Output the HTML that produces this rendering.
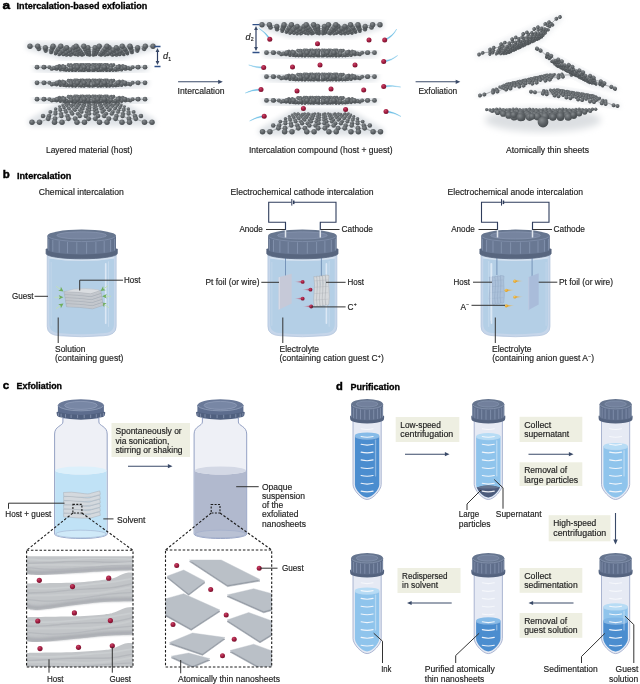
<!DOCTYPE html>
<html><head><meta charset="utf-8"><title>Exfoliation figure</title>
<style>
html,body{margin:0;padding:0;background:#fff;}
body{width:640px;height:684px;overflow:hidden;font-family:"Liberation Sans",sans-serif;}
svg{display:block;font-family:"Liberation Sans",sans-serif;}
</style></head><body>
<svg width="640" height="684" viewBox="0 0 640 684">
<defs>
<radialGradient id="atom" cx="0.38" cy="0.32" r="0.75">
<stop offset="0" stop-color="#858a8d"/><stop offset="0.55" stop-color="#5c6165"/><stop offset="1" stop-color="#44494c"/></radialGradient>
<radialGradient id="reddot" cx="0.38" cy="0.32" r="0.75">
<stop offset="0" stop-color="#c8486a"/><stop offset="0.5" stop-color="#a31c40"/><stop offset="1" stop-color="#70102a"/></radialGradient>
<filter id="glow" x="-20%" y="-60%" width="140%" height="220%"><feGaussianBlur stdDeviation="2.6"/></filter>
<filter id="glow2" x="-20%" y="-20%" width="140%" height="140%"><feGaussianBlur stdDeviation="3.5"/></filter>

<linearGradient id="lidside" x1="0" x2="1" y1="0" y2="0">
<stop offset="0" stop-color="#5c6b86"/><stop offset="0.1" stop-color="#697893"/><stop offset="0.9" stop-color="#697893"/><stop offset="1" stop-color="#5c6b86"/></linearGradient>
<linearGradient id="iontail" x1="0" x2="1" y1="0" y2="0"><stop offset="0" stop-color="#d9899c" stop-opacity="0"/><stop offset="1" stop-color="#b03a58"/></linearGradient>
<linearGradient id="iontailY" x1="1" x2="0" y1="0" y2="0"><stop offset="0" stop-color="#f0c060" stop-opacity="0"/><stop offset="1" stop-color="#e8a020"/></linearGradient>

<radialGradient id="yel" cx="0.4" cy="0.35" r="0.7"><stop offset="0" stop-color="#f6c860"/><stop offset="1" stop-color="#dd9a1c"/></radialGradient>
<clipPath id="cb1"><rect x="26.6" y="550.3" width="106.4" height="116.70000000000005"/></clipPath>
<linearGradient id="lay" x1="0" x2="0" y1="0" y2="1"><stop offset="0" stop-color="#c4c6ca"/><stop offset="0.35" stop-color="#b4b7bc"/><stop offset="0.6" stop-color="#c2c4c8"/><stop offset="1" stop-color="#a9acb2"/></linearGradient>
<filter id="soft" x="-5%" y="-5%" width="110%" height="110%"><feGaussianBlur stdDeviation="0.7"/></filter>
<filter id="soft2" x="-5%" y="-30%" width="110%" height="160%"><feGaussianBlur stdDeviation="1.3"/></filter>
<clipPath id="cb2"><rect x="165.5" y="550" width="106.19999999999999" height="117"/></clipPath>
<linearGradient id="capside" x1="0" x2="1" y1="0" y2="0">
<stop offset="0" stop-color="#55647f"/><stop offset="0.12" stop-color="#5f6e8b"/><stop offset="0.88" stop-color="#5f6e8b"/><stop offset="1" stop-color="#55647f"/></linearGradient>
<clipPath id="tc367_398"><path d="M354.9,418.7 V484.5 C354.9,490.0 362.36,497.41 367.1,497.41 C371.84000000000003,497.41 379.30000000000007,490.0 379.30000000000007,484.5 V418.7Z"/></clipPath>
<clipPath id="tc488_398"><path d="M476.09999999999997,418.7 V484.5 C476.09999999999997,490.0 483.56,497.41 488.3,497.41 C493.04,497.41 500.50000000000006,490.0 500.50000000000006,484.5 V418.7Z"/></clipPath>
<clipPath id="tc615_398"><path d="M603.4,418.7 V484.5 C603.4,490.0 610.86,497.41 615.6,497.41 C620.34,497.41 627.8000000000001,490.0 627.8000000000001,484.5 V418.7Z"/></clipPath>
<clipPath id="tc367_552"><path d="M354.9,572.8 V638.5999999999999 C354.9,644.0999999999999 362.36,651.5099999999999 367.1,651.5099999999999 C371.84000000000003,651.5099999999999 379.30000000000007,644.0999999999999 379.30000000000007,638.5999999999999 V572.8Z"/></clipPath>
<clipPath id="tc488_552"><path d="M476.09999999999997,572.8 V638.5999999999999 C476.09999999999997,644.0999999999999 483.56,651.5099999999999 488.3,651.5099999999999 C493.04,651.5099999999999 500.50000000000006,644.0999999999999 500.50000000000006,638.5999999999999 V572.8Z"/></clipPath>
<clipPath id="tc615_552"><path d="M603.4,572.8 V638.5999999999999 C603.4,644.0999999999999 610.86,651.5099999999999 615.6,651.5099999999999 C620.34,651.5099999999999 627.8000000000001,644.0999999999999 627.8000000000001,638.5999999999999 V572.8Z"/></clipPath>
</defs>
<g style="opacity:0.999">
<path d="M32.0,122.3 L152.0,122.3 L119.0,103.5 L65.0,103.5Z" fill="#dfe3e7" stroke="#dfe3e7" stroke-width="8" stroke-linejoin="round" filter="url(#glow)"/>
<path d="M37.0,99.2 L145.0,99.2 L113.7,102.2 L68.3,102.2Z" fill="#dfe3e7" stroke="#dfe3e7" stroke-width="8" stroke-linejoin="round" filter="url(#glow)"/>
<path d="M37.0,82.8 L145.0,82.8 L113.7,86.4 L68.3,86.4Z" fill="#dfe3e7" stroke="#dfe3e7" stroke-width="8" stroke-linejoin="round" filter="url(#glow)"/>
<path d="M37.0,67.2 L145.0,67.2 L113.7,70.8 L68.3,70.8Z" fill="#dfe3e7" stroke="#dfe3e7" stroke-width="8" stroke-linejoin="round" filter="url(#glow)"/>
<path d="M30.0,46.2 L153.0,46.2 L122.2,55.2 L60.8,55.2Z" fill="#dfe3e7" stroke="#dfe3e7" stroke-width="8" stroke-linejoin="round" filter="url(#glow)"/>
<path d="M262.5,131.7 L380.5,131.7 L348.5,113.5 L294.5,113.5Z" fill="#dfe3e7" stroke="#dfe3e7" stroke-width="8" stroke-linejoin="round" filter="url(#glow)"/>
<path d="M266.5,100.4 L374.5,100.4 L343.2,103.4 L297.8,103.4Z" fill="#dfe3e7" stroke="#dfe3e7" stroke-width="8" stroke-linejoin="round" filter="url(#glow)"/>
<path d="M266.5,76.7 L374.5,76.7 L343.2,80.3 L297.8,80.3Z" fill="#dfe3e7" stroke="#dfe3e7" stroke-width="8" stroke-linejoin="round" filter="url(#glow)"/>
<path d="M266.5,52.7 L374.5,52.7 L343.2,56.3 L297.8,56.3Z" fill="#dfe3e7" stroke="#dfe3e7" stroke-width="8" stroke-linejoin="round" filter="url(#glow)"/>
<path d="M262.0,24.8 L380.0,24.8 L350.5,33.8 L291.5,33.8Z" fill="#dfe3e7" stroke="#dfe3e7" stroke-width="8" stroke-linejoin="round" filter="url(#glow)"/>
<g transform="rotate(-12.79 528.0 84.6)"><path d="M478.8,84.6 L577.2,84.6 L548.7,79.1 L507.3,79.1Z" fill="#eceef1" stroke="#eceef1" stroke-width="6" stroke-linejoin="round" filter="url(#glow)"/></g>
<g transform="rotate(9.39 574.2 98.8)"><path d="M530.4,98.8 L618.1,98.8 L592.7,92.3 L555.8,92.3Z" fill="#eceef1" stroke="#eceef1" stroke-width="6" stroke-linejoin="round" filter="url(#glow)"/></g>
<g transform="rotate(27.15 576.0 68.7)"><path d="M532.2,68.7 L619.8,68.7 L594.4,75.2 L557.6,75.2Z" fill="#eceef1" stroke="#eceef1" stroke-width="6" stroke-linejoin="round" filter="url(#glow)"/></g>
<g transform="rotate(-24.84 519.5 35.8)"><path d="M474.9,35.8 L564.1,35.8 L538.2,46.8 L500.8,46.8Z" fill="#eceef1" stroke="#eceef1" stroke-width="6" stroke-linejoin="round" filter="url(#glow)"/></g>
<ellipse cx="543" cy="120" rx="58" ry="12" fill="#dcdfe2" filter="url(#glow2)"/>
<text x="2.6" y="9" font-size="11.5" text-anchor="start" font-weight="bold" font-style="normal" fill="#000" textLength="7.6" lengthAdjust="spacingAndGlyphs" stroke="#000" stroke-width="0.45">a</text>
<text x="16.6" y="8.9" font-size="8.3" text-anchor="start" font-weight="bold" font-style="normal" fill="#000" textLength="130.6" lengthAdjust="spacingAndGlyphs" stroke="#000" stroke-width="0.3">Intercalation-based exfoliation</text>
<path d="M65.0,103.5L68.4,103.5 M75.1,103.5L78.5,103.5 M85.2,103.5L88.6,103.5 M95.4,103.5L98.8,103.5 M105.5,103.5L108.9,103.5 M115.6,103.5L119.0,103.5" stroke="#6b7073" stroke-width="0.5" fill="none"/>
<g fill="url(#atom)"><circle cx="65.0" cy="103.5" r="1.20"/><circle cx="68.4" cy="103.5" r="1.20"/><circle cx="75.1" cy="103.5" r="1.20"/><circle cx="78.5" cy="103.5" r="1.20"/><circle cx="85.2" cy="103.5" r="1.20"/><circle cx="88.6" cy="103.5" r="1.20"/><circle cx="95.4" cy="103.5" r="1.20"/><circle cx="98.8" cy="103.5" r="1.20"/><circle cx="105.5" cy="103.5" r="1.20"/><circle cx="108.9" cy="103.5" r="1.20"/><circle cx="115.6" cy="103.5" r="1.20"/><circle cx="119.0" cy="103.5" r="1.20"/></g>
<path d="M69.1,104.2L68.4,103.5 M72.6,104.2L75.1,103.5 M79.7,104.2L78.5,103.5 M83.2,104.2L85.2,103.5 M90.2,104.2L88.6,103.5 M93.8,104.2L95.4,103.5 M100.8,104.2L98.8,103.5 M104.3,104.2L105.5,103.5 M111.4,104.2L108.9,103.5 M114.9,104.2L115.6,103.5 M69.1,104.2L72.6,104.2 M79.7,104.2L83.2,104.2 M90.2,104.2L93.8,104.2 M100.8,104.2L104.3,104.2 M111.4,104.2L114.9,104.2" stroke="#6b7073" stroke-width="0.5" fill="none"/>
<g fill="url(#atom)"><circle cx="69.1" cy="104.2" r="1.25"/><circle cx="72.6" cy="104.2" r="1.25"/><circle cx="79.7" cy="104.2" r="1.25"/><circle cx="83.2" cy="104.2" r="1.25"/><circle cx="90.2" cy="104.2" r="1.25"/><circle cx="93.8" cy="104.2" r="1.25"/><circle cx="100.8" cy="104.2" r="1.25"/><circle cx="104.3" cy="104.2" r="1.25"/><circle cx="111.4" cy="104.2" r="1.25"/><circle cx="114.9" cy="104.2" r="1.25"/></g>
<path d="M66.2,104.9L69.1,104.2 M73.6,104.9L72.6,104.2 M77.3,104.9L79.7,104.2 M84.6,104.9L83.2,104.2 M88.3,104.9L90.2,104.2 M95.7,104.9L93.8,104.2 M99.4,104.9L100.8,104.2 M106.7,104.9L104.3,104.2 M110.4,104.9L111.4,104.2 M117.8,104.9L114.9,104.2 M62.6,104.9L66.2,104.9 M73.6,104.9L77.3,104.9 M84.6,104.9L88.3,104.9 M95.7,104.9L99.4,104.9 M106.7,104.9L110.4,104.9 M117.8,104.9L121.4,104.9" stroke="#6b7073" stroke-width="0.5" fill="none"/>
<g fill="url(#atom)"><circle cx="62.6" cy="104.9" r="1.31"/><circle cx="66.2" cy="104.9" r="1.31"/><circle cx="73.6" cy="104.9" r="1.31"/><circle cx="77.3" cy="104.9" r="1.31"/><circle cx="84.6" cy="104.9" r="1.31"/><circle cx="88.3" cy="104.9" r="1.31"/><circle cx="95.7" cy="104.9" r="1.31"/><circle cx="99.4" cy="104.9" r="1.31"/><circle cx="106.7" cy="104.9" r="1.31"/><circle cx="110.4" cy="104.9" r="1.31"/><circle cx="117.8" cy="104.9" r="1.31"/><circle cx="121.4" cy="104.9" r="1.31"/></g>
<path d="M66.9,105.7L66.2,104.9 M70.8,105.7L73.6,104.9 M78.5,105.7L77.3,104.9 M82.3,105.7L84.6,104.9 M90.1,105.7L88.3,104.9 M93.9,105.7L95.7,104.9 M101.7,105.7L99.4,104.9 M105.5,105.7L106.7,104.9 M113.2,105.7L110.4,104.9 M117.1,105.7L117.8,104.9 M66.9,105.7L70.8,105.7 M78.5,105.7L82.3,105.7 M90.1,105.7L93.9,105.7 M101.7,105.7L105.5,105.7 M113.2,105.7L117.1,105.7" stroke="#6b7073" stroke-width="0.5" fill="none"/>
<g fill="url(#atom)"><circle cx="66.9" cy="105.7" r="1.38"/><circle cx="70.8" cy="105.7" r="1.38"/><circle cx="78.5" cy="105.7" r="1.38"/><circle cx="82.3" cy="105.7" r="1.38"/><circle cx="90.1" cy="105.7" r="1.38"/><circle cx="93.9" cy="105.7" r="1.38"/><circle cx="101.7" cy="105.7" r="1.38"/><circle cx="105.5" cy="105.7" r="1.38"/><circle cx="113.2" cy="105.7" r="1.38"/><circle cx="117.1" cy="105.7" r="1.38"/></g>
<path d="M63.6,106.6L66.9,105.7 M71.7,106.6L70.8,105.7 M75.8,106.6L78.5,105.7 M83.9,106.6L82.3,105.7 M87.9,106.6L90.1,105.7 M96.1,106.6L93.9,105.7 M100.1,106.6L101.7,105.7 M108.2,106.6L105.5,105.7 M112.3,106.6L113.2,105.7 M120.4,106.6L117.1,105.7 M59.5,106.6L63.6,106.6 M71.7,106.6L75.8,106.6 M83.9,106.6L87.9,106.6 M96.1,106.6L100.1,106.6 M108.2,106.6L112.3,106.6 M120.4,106.6L124.5,106.6" stroke="#6b7073" stroke-width="0.5" fill="none"/>
<g fill="url(#atom)"><circle cx="59.5" cy="106.6" r="1.46"/><circle cx="63.6" cy="106.6" r="1.46"/><circle cx="71.7" cy="106.6" r="1.46"/><circle cx="75.8" cy="106.6" r="1.46"/><circle cx="83.9" cy="106.6" r="1.46"/><circle cx="87.9" cy="106.6" r="1.46"/><circle cx="96.1" cy="106.6" r="1.46"/><circle cx="100.1" cy="106.6" r="1.46"/><circle cx="108.2" cy="106.6" r="1.46"/><circle cx="112.3" cy="106.6" r="1.46"/><circle cx="120.4" cy="106.6" r="1.46"/><circle cx="124.5" cy="106.6" r="1.46"/></g>
<path d="M64.1,107.7L63.6,106.6 M68.4,107.7L71.7,106.6 M77.0,107.7L75.8,106.6 M81.3,107.7L83.9,106.6 M89.9,107.7L87.9,106.6 M94.1,107.7L96.1,106.6 M102.7,107.7L100.1,106.6 M107.0,107.7L108.2,106.6 M115.6,107.7L112.3,106.6 M119.9,107.7L120.4,106.6 M64.1,107.7L68.4,107.7 M77.0,107.7L81.3,107.7 M89.9,107.7L94.1,107.7 M102.7,107.7L107.0,107.7 M115.6,107.7L119.9,107.7" stroke="#6b7073" stroke-width="0.5" fill="none"/>
<g fill="url(#atom)"><circle cx="64.1" cy="107.7" r="1.54"/><circle cx="68.4" cy="107.7" r="1.54"/><circle cx="77.0" cy="107.7" r="1.54"/><circle cx="81.3" cy="107.7" r="1.54"/><circle cx="89.9" cy="107.7" r="1.54"/><circle cx="94.1" cy="107.7" r="1.54"/><circle cx="102.7" cy="107.7" r="1.54"/><circle cx="107.0" cy="107.7" r="1.54"/><circle cx="115.6" cy="107.7" r="1.54"/><circle cx="119.9" cy="107.7" r="1.54"/></g>
<path d="M60.1,108.9L64.1,107.7 M69.2,108.9L68.4,107.7 M73.8,108.9L77.0,107.7 M82.9,108.9L81.3,107.7 M87.4,108.9L89.9,107.7 M96.6,108.9L94.1,107.7 M101.1,108.9L102.7,107.7 M110.2,108.9L107.0,107.7 M114.8,108.9L115.6,107.7 M123.9,108.9L119.9,107.7 M55.6,108.9L60.1,108.9 M69.2,108.9L73.8,108.9 M82.9,108.9L87.4,108.9 M96.6,108.9L101.1,108.9 M110.2,108.9L114.8,108.9 M123.9,108.9L128.4,108.9" stroke="#6b7073" stroke-width="0.5" fill="none"/>
<g fill="url(#atom)"><circle cx="55.6" cy="108.9" r="1.64"/><circle cx="60.1" cy="108.9" r="1.64"/><circle cx="69.2" cy="108.9" r="1.64"/><circle cx="73.8" cy="108.9" r="1.64"/><circle cx="82.9" cy="108.9" r="1.64"/><circle cx="87.4" cy="108.9" r="1.64"/><circle cx="96.6" cy="108.9" r="1.64"/><circle cx="101.1" cy="108.9" r="1.64"/><circle cx="110.2" cy="108.9" r="1.64"/><circle cx="114.8" cy="108.9" r="1.64"/><circle cx="123.9" cy="108.9" r="1.64"/><circle cx="128.4" cy="108.9" r="1.64"/></g>
<path d="M60.4,110.2L60.1,108.9 M65.3,110.2L69.2,108.9 M75.0,110.2L73.8,108.9 M79.9,110.2L82.9,108.9 M89.6,110.2L87.4,108.9 M94.4,110.2L96.6,108.9 M104.1,110.2L101.1,108.9 M109.0,110.2L110.2,108.9 M118.7,110.2L114.8,108.9 M123.6,110.2L123.9,108.9 M60.4,110.2L65.3,110.2 M75.0,110.2L79.9,110.2 M89.6,110.2L94.4,110.2 M104.1,110.2L109.0,110.2 M118.7,110.2L123.6,110.2" stroke="#6b7073" stroke-width="0.5" fill="none"/>
<g fill="url(#atom)"><circle cx="60.4" cy="110.2" r="1.76"/><circle cx="65.3" cy="110.2" r="1.76"/><circle cx="75.0" cy="110.2" r="1.76"/><circle cx="79.9" cy="110.2" r="1.76"/><circle cx="89.6" cy="110.2" r="1.76"/><circle cx="94.4" cy="110.2" r="1.76"/><circle cx="104.1" cy="110.2" r="1.76"/><circle cx="109.0" cy="110.2" r="1.76"/><circle cx="118.7" cy="110.2" r="1.76"/><circle cx="123.6" cy="110.2" r="1.76"/></g>
<path d="M55.5,111.9L60.4,110.2 M66.0,111.9L65.3,110.2 M71.2,111.9L75.0,110.2 M81.6,111.9L79.9,110.2 M86.8,111.9L89.6,110.2 M97.2,111.9L94.4,110.2 M102.4,111.9L104.1,110.2 M112.8,111.9L109.0,110.2 M118.0,111.9L118.7,110.2 M128.5,111.9L123.6,110.2 M50.3,111.9L55.5,111.9 M66.0,111.9L71.2,111.9 M81.6,111.9L86.8,111.9 M97.2,111.9L102.4,111.9 M112.8,111.9L118.0,111.9 M128.5,111.9L133.7,111.9" stroke="#6b7073" stroke-width="0.5" fill="none"/>
<g fill="url(#atom)"><circle cx="50.3" cy="111.9" r="1.89"/><circle cx="55.5" cy="111.9" r="1.89"/><circle cx="66.0" cy="111.9" r="1.89"/><circle cx="71.2" cy="111.9" r="1.89"/><circle cx="81.6" cy="111.9" r="1.89"/><circle cx="86.8" cy="111.9" r="1.89"/><circle cx="97.2" cy="111.9" r="1.89"/><circle cx="102.4" cy="111.9" r="1.89"/><circle cx="112.8" cy="111.9" r="1.89"/><circle cx="118.0" cy="111.9" r="1.89"/><circle cx="128.5" cy="111.9" r="1.89"/><circle cx="133.7" cy="111.9" r="1.89"/></g>
<path d="M55.4,113.8L55.5,111.9 M61.1,113.8L66.0,111.9 M72.3,113.8L71.2,111.9 M77.9,113.8L81.6,111.9 M89.2,113.8L86.8,111.9 M94.8,113.8L97.2,111.9 M106.1,113.8L102.4,111.9 M111.7,113.8L112.8,111.9 M122.9,113.8L118.0,111.9 M128.6,113.8L128.5,111.9 M55.4,113.8L61.1,113.8 M72.3,113.8L77.9,113.8 M89.2,113.8L94.8,113.8 M106.1,113.8L111.7,113.8 M122.9,113.8L128.6,113.8" stroke="#6b7073" stroke-width="0.5" fill="none"/>
<g fill="url(#atom)"><circle cx="55.4" cy="113.8" r="2.05"/><circle cx="61.1" cy="113.8" r="2.05"/><circle cx="72.3" cy="113.8" r="2.05"/><circle cx="77.9" cy="113.8" r="2.05"/><circle cx="89.2" cy="113.8" r="2.05"/><circle cx="94.8" cy="113.8" r="2.05"/><circle cx="106.1" cy="113.8" r="2.05"/><circle cx="111.7" cy="113.8" r="2.05"/><circle cx="122.9" cy="113.8" r="2.05"/><circle cx="128.6" cy="113.8" r="2.05"/></g>
<path d="M49.1,116.0L55.4,113.8 M61.4,116.0L61.1,113.8 M67.5,116.0L72.3,113.8 M79.8,116.0L77.9,113.8 M85.9,116.0L89.2,113.8 M98.1,116.0L94.8,113.8 M104.2,116.0L106.1,113.8 M116.5,116.0L111.7,113.8 M122.6,116.0L122.9,113.8 M134.9,116.0L128.6,113.8 M43.0,116.0L49.1,116.0 M61.4,116.0L67.5,116.0 M79.8,116.0L85.9,116.0 M98.1,116.0L104.2,116.0 M116.5,116.0L122.6,116.0 M134.9,116.0L141.0,116.0" stroke="#6b7073" stroke-width="0.5" fill="none"/>
<g fill="url(#atom)"><circle cx="43.0" cy="116.0" r="2.23"/><circle cx="49.1" cy="116.0" r="2.23"/><circle cx="61.4" cy="116.0" r="2.23"/><circle cx="67.5" cy="116.0" r="2.23"/><circle cx="79.8" cy="116.0" r="2.23"/><circle cx="85.9" cy="116.0" r="2.23"/><circle cx="98.1" cy="116.0" r="2.23"/><circle cx="104.2" cy="116.0" r="2.23"/><circle cx="116.5" cy="116.0" r="2.23"/><circle cx="122.6" cy="116.0" r="2.23"/><circle cx="134.9" cy="116.0" r="2.23"/><circle cx="141.0" cy="116.0" r="2.23"/></g>
<path d="M48.2,118.8L49.1,116.0 M55.0,118.8L61.4,116.0 M68.4,118.8L67.5,116.0 M75.2,118.8L79.8,116.0 M88.6,118.8L85.9,116.0 M95.4,118.8L98.1,116.0 M108.8,118.8L104.2,116.0 M115.6,118.8L116.5,116.0 M129.0,118.8L122.6,116.0 M135.8,118.8L134.9,116.0 M48.2,118.8L55.0,118.8 M68.4,118.8L75.2,118.8 M88.6,118.8L95.4,118.8 M108.8,118.8L115.6,118.8 M129.0,118.8L135.8,118.8" stroke="#6b7073" stroke-width="0.5" fill="none"/>
<g fill="url(#atom)"><circle cx="48.2" cy="118.8" r="2.46"/><circle cx="55.0" cy="118.8" r="2.46"/><circle cx="68.4" cy="118.8" r="2.46"/><circle cx="75.2" cy="118.8" r="2.46"/><circle cx="88.6" cy="118.8" r="2.46"/><circle cx="95.4" cy="118.8" r="2.46"/><circle cx="108.8" cy="118.8" r="2.46"/><circle cx="115.6" cy="118.8" r="2.46"/><circle cx="129.0" cy="118.8" r="2.46"/><circle cx="135.8" cy="118.8" r="2.46"/></g>
<path d="M39.5,122.3L48.2,118.8 M54.5,122.3L55.0,118.8 M62.0,122.3L68.4,118.8 M77.0,122.3L75.2,118.8 M84.5,122.3L88.6,118.8 M99.5,122.3L95.4,118.8 M107.0,122.3L108.8,118.8 M122.0,122.3L115.6,118.8 M129.5,122.3L129.0,118.8 M144.5,122.3L135.8,118.8 M32.0,122.3L39.5,122.3 M54.5,122.3L62.0,122.3 M77.0,122.3L84.5,122.3 M99.5,122.3L107.0,122.3 M122.0,122.3L129.5,122.3 M144.5,122.3L152.0,122.3" stroke="#6b7073" stroke-width="0.5" fill="none"/>
<g fill="url(#atom)"><circle cx="32.0" cy="122.3" r="2.75"/><circle cx="39.5" cy="122.3" r="2.75"/><circle cx="54.5" cy="122.3" r="2.75"/><circle cx="62.0" cy="122.3" r="2.75"/><circle cx="77.0" cy="122.3" r="2.75"/><circle cx="84.5" cy="122.3" r="2.75"/><circle cx="99.5" cy="122.3" r="2.75"/><circle cx="107.0" cy="122.3" r="2.75"/><circle cx="122.0" cy="122.3" r="2.75"/><circle cx="129.5" cy="122.3" r="2.75"/><circle cx="144.5" cy="122.3" r="2.75"/><circle cx="152.0" cy="122.3" r="2.75"/></g>
<path d="M74.6,95.8L76.7,95.8 M80.8,95.8L82.8,95.8 M86.9,95.8L89.0,95.8 M93.0,95.8L95.1,95.8 M99.2,95.8L101.2,95.8 M105.3,95.8L107.4,95.8" stroke="#6b7073" stroke-width="0.5" fill="none"/>
<g fill="url(#atom)"><circle cx="74.6" cy="95.8" r="1.30"/><circle cx="76.7" cy="95.8" r="1.30"/><circle cx="80.8" cy="95.8" r="1.30"/><circle cx="82.8" cy="95.8" r="1.30"/><circle cx="86.9" cy="95.8" r="1.30"/><circle cx="89.0" cy="95.8" r="1.30"/><circle cx="93.0" cy="95.8" r="1.30"/><circle cx="95.1" cy="95.8" r="1.30"/><circle cx="99.2" cy="95.8" r="1.30"/><circle cx="101.2" cy="95.8" r="1.30"/><circle cx="105.3" cy="95.8" r="1.30"/><circle cx="107.4" cy="95.8" r="1.30"/></g>
<path d="M70.7,96.2L74.6,95.8 M75.5,96.2L76.7,95.8 M77.9,96.2L80.8,95.8 M82.6,96.2L82.8,95.8 M85.0,96.2L86.9,95.8 M89.8,96.2L89.0,95.8 M92.2,96.2L93.0,95.8 M97.0,96.2L95.1,95.8 M99.4,96.2L99.2,95.8 M104.1,96.2L101.2,95.8 M106.5,96.2L105.3,95.8 M111.3,96.2L107.4,95.8 M68.3,96.2L70.7,96.2 M75.5,96.2L77.9,96.2 M82.6,96.2L85.0,96.2 M89.8,96.2L92.2,96.2 M97.0,96.2L99.4,96.2 M104.1,96.2L106.5,96.2 M111.3,96.2L113.7,96.2" stroke="#6b7073" stroke-width="0.5" fill="none"/>
<g fill="url(#atom)"><circle cx="68.3" cy="96.2" r="1.38"/><circle cx="70.7" cy="96.2" r="1.38"/><circle cx="75.5" cy="96.2" r="1.38"/><circle cx="77.9" cy="96.2" r="1.38"/><circle cx="82.6" cy="96.2" r="1.38"/><circle cx="85.0" cy="96.2" r="1.38"/><circle cx="89.8" cy="96.2" r="1.38"/><circle cx="92.2" cy="96.2" r="1.38"/><circle cx="97.0" cy="96.2" r="1.38"/><circle cx="99.4" cy="96.2" r="1.38"/><circle cx="104.1" cy="96.2" r="1.38"/><circle cx="106.5" cy="96.2" r="1.38"/><circle cx="111.3" cy="96.2" r="1.38"/><circle cx="113.7" cy="96.2" r="1.38"/></g>
<path d="M68.5,96.7L70.7,96.2 M71.3,96.7L75.5,96.2 M77.0,96.7L77.9,96.2 M79.8,96.7L82.6,96.2 M85.4,96.7L85.0,96.2 M88.2,96.7L89.8,96.2 M93.8,96.7L92.2,96.2 M96.6,96.7L97.0,96.2 M102.2,96.7L99.4,96.2 M105.0,96.7L104.1,96.2 M110.7,96.7L106.5,96.2 M113.5,96.7L111.3,96.2 M68.5,96.7L71.3,96.7 M77.0,96.7L79.8,96.7 M85.4,96.7L88.2,96.7 M93.8,96.7L96.6,96.7 M102.2,96.7L105.0,96.7 M110.7,96.7L113.5,96.7" stroke="#6b7073" stroke-width="0.5" fill="none"/>
<g fill="url(#atom)"><circle cx="68.5" cy="96.7" r="1.49"/><circle cx="71.3" cy="96.7" r="1.49"/><circle cx="77.0" cy="96.7" r="1.49"/><circle cx="79.8" cy="96.7" r="1.49"/><circle cx="85.4" cy="96.7" r="1.49"/><circle cx="88.2" cy="96.7" r="1.49"/><circle cx="93.8" cy="96.7" r="1.49"/><circle cx="96.6" cy="96.7" r="1.49"/><circle cx="102.2" cy="96.7" r="1.49"/><circle cx="105.0" cy="96.7" r="1.49"/><circle cx="110.7" cy="96.7" r="1.49"/><circle cx="113.5" cy="96.7" r="1.49"/></g>
<path d="M62.7,97.3L68.5,96.7 M69.3,97.3L71.3,96.7 M72.7,97.3L77.0,96.7 M79.3,97.3L79.8,96.7 M82.7,97.3L85.4,96.7 M89.3,97.3L88.2,96.7 M92.7,97.3L93.8,96.7 M99.3,97.3L96.6,96.7 M102.7,97.3L102.2,96.7 M109.3,97.3L105.0,96.7 M112.7,97.3L110.7,96.7 M119.3,97.3L113.5,96.7 M59.4,97.3L62.7,97.3 M69.3,97.3L72.7,97.3 M79.3,97.3L82.7,97.3 M89.3,97.3L92.7,97.3 M99.3,97.3L102.7,97.3 M109.3,97.3L112.7,97.3 M119.3,97.3L122.6,97.3" stroke="#6b7073" stroke-width="0.5" fill="none"/>
<g fill="url(#atom)"><circle cx="59.4" cy="97.3" r="1.62"/><circle cx="62.7" cy="97.3" r="1.62"/><circle cx="69.3" cy="97.3" r="1.62"/><circle cx="72.7" cy="97.3" r="1.62"/><circle cx="79.3" cy="97.3" r="1.62"/><circle cx="82.7" cy="97.3" r="1.62"/><circle cx="89.3" cy="97.3" r="1.62"/><circle cx="92.7" cy="97.3" r="1.62"/><circle cx="99.3" cy="97.3" r="1.62"/><circle cx="102.7" cy="97.3" r="1.62"/><circle cx="109.3" cy="97.3" r="1.62"/><circle cx="112.7" cy="97.3" r="1.62"/><circle cx="119.3" cy="97.3" r="1.62"/><circle cx="122.6" cy="97.3" r="1.62"/></g>
<path d="M59.0,98.1L62.7,97.3 M63.0,98.1L69.3,97.3 M71.0,98.1L72.7,97.3 M75.0,98.1L79.3,97.3 M83.0,98.1L82.7,97.3 M87.0,98.1L89.3,97.3 M95.0,98.1L92.7,97.3 M99.0,98.1L99.3,97.3 M107.0,98.1L102.7,97.3 M111.0,98.1L109.3,97.3 M119.0,98.1L112.7,97.3 M123.0,98.1L119.3,97.3 M59.0,98.1L63.0,98.1 M71.0,98.1L75.0,98.1 M83.0,98.1L87.0,98.1 M95.0,98.1L99.0,98.1 M107.0,98.1L111.0,98.1 M119.0,98.1L123.0,98.1" stroke="#6b7073" stroke-width="0.5" fill="none"/>
<g fill="url(#atom)"><circle cx="59.0" cy="98.1" r="1.78"/><circle cx="63.0" cy="98.1" r="1.78"/><circle cx="71.0" cy="98.1" r="1.78"/><circle cx="75.0" cy="98.1" r="1.78"/><circle cx="83.0" cy="98.1" r="1.78"/><circle cx="87.0" cy="98.1" r="1.78"/><circle cx="95.0" cy="98.1" r="1.78"/><circle cx="99.0" cy="98.1" r="1.78"/><circle cx="107.0" cy="98.1" r="1.78"/><circle cx="111.0" cy="98.1" r="1.78"/><circle cx="119.0" cy="98.1" r="1.78"/><circle cx="123.0" cy="98.1" r="1.78"/></g>
<path d="M49.4,99.2L59.0,98.1 M59.2,99.2L63.0,98.1 M64.1,99.2L71.0,98.1 M73.9,99.2L75.0,98.1 M78.8,99.2L83.0,98.1 M88.6,99.2L87.0,98.1 M93.4,99.2L95.0,98.1 M103.2,99.2L99.0,98.1 M108.1,99.2L107.0,98.1 M117.9,99.2L111.0,98.1 M122.8,99.2L119.0,98.1 M132.6,99.2L123.0,98.1 M44.6,99.2L49.4,99.2 M59.2,99.2L64.1,99.2 M73.9,99.2L78.8,99.2 M88.6,99.2L93.4,99.2 M103.2,99.2L108.1,99.2 M117.9,99.2L122.8,99.2 M132.6,99.2L137.4,99.2" stroke="#6b7073" stroke-width="0.5" fill="none"/>
<g fill="url(#atom)"><circle cx="44.6" cy="99.2" r="2.00"/><circle cx="49.4" cy="99.2" r="2.00"/><circle cx="59.2" cy="99.2" r="2.00"/><circle cx="64.1" cy="99.2" r="2.00"/><circle cx="73.9" cy="99.2" r="2.00"/><circle cx="78.8" cy="99.2" r="2.00"/><circle cx="88.6" cy="99.2" r="2.00"/><circle cx="93.4" cy="99.2" r="2.00"/><circle cx="103.2" cy="99.2" r="2.00"/><circle cx="108.1" cy="99.2" r="2.00"/><circle cx="117.9" cy="99.2" r="2.00"/><circle cx="122.8" cy="99.2" r="2.00"/><circle cx="132.6" cy="99.2" r="2.00"/><circle cx="137.4" cy="99.2" r="2.00"/></g>
<path d="M72.6,102.2L75.4,102.2 M81.1,102.2L83.9,102.2 M89.6,102.2L92.4,102.2 M98.1,102.2L100.9,102.2 M106.6,102.2L109.4,102.2" stroke="#6b7073" stroke-width="0.5" fill="none"/>
<g fill="url(#atom)"><circle cx="72.6" cy="102.2" r="1.30"/><circle cx="75.4" cy="102.2" r="1.30"/><circle cx="81.1" cy="102.2" r="1.30"/><circle cx="83.9" cy="102.2" r="1.30"/><circle cx="89.6" cy="102.2" r="1.30"/><circle cx="92.4" cy="102.2" r="1.30"/><circle cx="98.1" cy="102.2" r="1.30"/><circle cx="100.9" cy="102.2" r="1.30"/><circle cx="106.6" cy="102.2" r="1.30"/><circle cx="109.4" cy="102.2" r="1.30"/></g>
<path d="M69.2,102.0L72.6,102.2 M75.5,102.0L75.4,102.2 M78.6,102.0L81.1,102.2 M84.8,102.0L83.9,102.2 M87.9,102.0L89.6,102.2 M94.1,102.0L92.4,102.2 M97.2,102.0L98.1,102.2 M103.4,102.0L100.9,102.2 M106.5,102.0L106.6,102.2 M112.8,102.0L109.4,102.2 M66.1,102.0L69.2,102.0 M75.5,102.0L78.6,102.0 M84.8,102.0L87.9,102.0 M94.1,102.0L97.2,102.0 M103.4,102.0L106.5,102.0 M112.8,102.0L115.9,102.0" stroke="#6b7073" stroke-width="0.5" fill="none"/>
<g fill="url(#atom)"><circle cx="66.1" cy="102.0" r="1.38"/><circle cx="69.2" cy="102.0" r="1.38"/><circle cx="75.5" cy="102.0" r="1.38"/><circle cx="78.6" cy="102.0" r="1.38"/><circle cx="84.8" cy="102.0" r="1.38"/><circle cx="87.9" cy="102.0" r="1.38"/><circle cx="94.1" cy="102.0" r="1.38"/><circle cx="97.2" cy="102.0" r="1.38"/><circle cx="103.4" cy="102.0" r="1.38"/><circle cx="106.5" cy="102.0" r="1.38"/><circle cx="112.8" cy="102.0" r="1.38"/><circle cx="115.9" cy="102.0" r="1.38"/></g>
<path d="M68.7,101.7L69.2,102.0 M72.1,101.7L75.5,102.0 M79.0,101.7L78.6,102.0 M82.4,101.7L84.8,102.0 M89.3,101.7L87.9,102.0 M92.7,101.7L94.1,102.0 M99.6,101.7L97.2,102.0 M103.0,101.7L103.4,102.0 M109.9,101.7L106.5,102.0 M113.3,101.7L112.8,102.0 M68.7,101.7L72.1,101.7 M79.0,101.7L82.4,101.7 M89.3,101.7L92.7,101.7 M99.6,101.7L103.0,101.7 M109.9,101.7L113.3,101.7" stroke="#6b7073" stroke-width="0.5" fill="none"/>
<g fill="url(#atom)"><circle cx="68.7" cy="101.7" r="1.47"/><circle cx="72.1" cy="101.7" r="1.47"/><circle cx="79.0" cy="101.7" r="1.47"/><circle cx="82.4" cy="101.7" r="1.47"/><circle cx="89.3" cy="101.7" r="1.47"/><circle cx="92.7" cy="101.7" r="1.47"/><circle cx="99.6" cy="101.7" r="1.47"/><circle cx="103.0" cy="101.7" r="1.47"/><circle cx="109.9" cy="101.7" r="1.47"/><circle cx="113.3" cy="101.7" r="1.47"/></g>
<path d="M64.2,101.4L68.7,101.7 M71.9,101.4L72.1,101.7 M75.7,101.4L79.0,101.7 M83.4,101.4L82.4,101.7 M87.2,101.4L89.3,101.7 M94.8,101.4L92.7,101.7 M98.6,101.4L99.6,101.7 M106.3,101.4L103.0,101.7 M110.1,101.4L109.9,101.7 M117.8,101.4L113.3,101.7 M60.4,101.4L64.2,101.4 M71.9,101.4L75.7,101.4 M83.4,101.4L87.2,101.4 M94.8,101.4L98.6,101.4 M106.3,101.4L110.1,101.4 M117.8,101.4L121.6,101.4" stroke="#6b7073" stroke-width="0.5" fill="none"/>
<g fill="url(#atom)"><circle cx="60.4" cy="101.4" r="1.58"/><circle cx="64.2" cy="101.4" r="1.58"/><circle cx="71.9" cy="101.4" r="1.58"/><circle cx="75.7" cy="101.4" r="1.58"/><circle cx="83.4" cy="101.4" r="1.58"/><circle cx="87.2" cy="101.4" r="1.58"/><circle cx="94.8" cy="101.4" r="1.58"/><circle cx="98.6" cy="101.4" r="1.58"/><circle cx="106.3" cy="101.4" r="1.58"/><circle cx="110.1" cy="101.4" r="1.58"/><circle cx="117.8" cy="101.4" r="1.58"/><circle cx="121.6" cy="101.4" r="1.58"/></g>
<path d="M63.0,101.1L64.2,101.4 M67.3,101.1L71.9,101.4 M75.9,101.1L75.7,101.4 M80.2,101.1L83.4,101.4 M88.8,101.1L87.2,101.4 M93.2,101.1L94.8,101.4 M101.8,101.1L98.6,101.4 M106.1,101.1L106.3,101.4 M114.7,101.1L110.1,101.4 M119.0,101.1L117.8,101.4 M63.0,101.1L67.3,101.1 M75.9,101.1L80.2,101.1 M88.8,101.1L93.2,101.1 M101.8,101.1L106.1,101.1 M114.7,101.1L119.0,101.1" stroke="#6b7073" stroke-width="0.5" fill="none"/>
<g fill="url(#atom)"><circle cx="63.0" cy="101.1" r="1.71"/><circle cx="67.3" cy="101.1" r="1.71"/><circle cx="75.9" cy="101.1" r="1.71"/><circle cx="80.2" cy="101.1" r="1.71"/><circle cx="88.8" cy="101.1" r="1.71"/><circle cx="93.2" cy="101.1" r="1.71"/><circle cx="101.8" cy="101.1" r="1.71"/><circle cx="106.1" cy="101.1" r="1.71"/><circle cx="114.7" cy="101.1" r="1.71"/><circle cx="119.0" cy="101.1" r="1.71"/></g>
<path d="M56.6,100.6L63.0,101.1 M66.5,100.6L67.3,101.1 M71.4,100.6L75.9,101.1 M81.2,100.6L80.2,101.1 M86.1,100.6L88.8,101.1 M95.9,100.6L93.2,101.1 M100.8,100.6L101.8,101.1 M110.6,100.6L106.1,101.1 M115.5,100.6L114.7,101.1 M125.4,100.6L119.0,101.1 M51.7,100.6L56.6,100.6 M66.5,100.6L71.4,100.6 M81.2,100.6L86.1,100.6 M95.9,100.6L100.8,100.6 M110.6,100.6L115.5,100.6 M125.4,100.6L130.3,100.6" stroke="#6b7073" stroke-width="0.5" fill="none"/>
<g fill="url(#atom)"><circle cx="51.7" cy="100.6" r="1.88"/><circle cx="56.6" cy="100.6" r="1.88"/><circle cx="66.5" cy="100.6" r="1.88"/><circle cx="71.4" cy="100.6" r="1.88"/><circle cx="81.2" cy="100.6" r="1.88"/><circle cx="86.1" cy="100.6" r="1.88"/><circle cx="95.9" cy="100.6" r="1.88"/><circle cx="100.8" cy="100.6" r="1.88"/><circle cx="110.6" cy="100.6" r="1.88"/><circle cx="115.5" cy="100.6" r="1.88"/><circle cx="125.4" cy="100.6" r="1.88"/><circle cx="130.3" cy="100.6" r="1.88"/></g>
<path d="M54.0,100.0L56.6,100.6 M59.7,100.0L66.5,100.6 M71.1,100.0L71.4,100.6 M76.8,100.0L81.2,100.6 M88.2,100.0L86.1,100.6 M93.8,100.0L95.9,100.6 M105.2,100.0L100.8,100.6 M110.9,100.0L110.6,100.6 M122.3,100.0L115.5,100.6 M128.0,100.0L125.4,100.6 M54.0,100.0L59.7,100.0 M71.1,100.0L76.8,100.0 M88.2,100.0L93.8,100.0 M105.2,100.0L110.9,100.0 M122.3,100.0L128.0,100.0" stroke="#6b7073" stroke-width="0.5" fill="none"/>
<g fill="url(#atom)"><circle cx="54.0" cy="100.0" r="2.10"/><circle cx="59.7" cy="100.0" r="2.10"/><circle cx="71.1" cy="100.0" r="2.10"/><circle cx="76.8" cy="100.0" r="2.10"/><circle cx="88.2" cy="100.0" r="2.10"/><circle cx="93.8" cy="100.0" r="2.10"/><circle cx="105.2" cy="100.0" r="2.10"/><circle cx="110.9" cy="100.0" r="2.10"/><circle cx="122.3" cy="100.0" r="2.10"/><circle cx="128.0" cy="100.0" r="2.10"/></g>
<path d="M43.8,99.2L54.0,100.0 M57.2,99.2L59.7,100.0 M64.0,99.2L71.1,100.0 M77.5,99.2L76.8,100.0 M84.2,99.2L88.2,100.0 M97.8,99.2L93.8,100.0 M104.5,99.2L105.2,100.0 M118.0,99.2L110.9,100.0 M124.8,99.2L122.3,100.0 M138.2,99.2L128.0,100.0 M37.0,99.2L43.8,99.2 M57.2,99.2L64.0,99.2 M77.5,99.2L84.2,99.2 M97.8,99.2L104.5,99.2 M118.0,99.2L124.8,99.2 M138.2,99.2L145.0,99.2" stroke="#6b7073" stroke-width="0.5" fill="none"/>
<g fill="url(#atom)"><circle cx="37.0" cy="99.2" r="2.40"/><circle cx="43.8" cy="99.2" r="2.40"/><circle cx="57.2" cy="99.2" r="2.40"/><circle cx="64.0" cy="99.2" r="2.40"/><circle cx="77.5" cy="99.2" r="2.40"/><circle cx="84.2" cy="99.2" r="2.40"/><circle cx="97.8" cy="99.2" r="2.40"/><circle cx="104.5" cy="99.2" r="2.40"/><circle cx="118.0" cy="99.2" r="2.40"/><circle cx="124.8" cy="99.2" r="2.40"/><circle cx="138.2" cy="99.2" r="2.40"/><circle cx="145.0" cy="99.2" r="2.40"/></g>
<path d="M74.6,79.8L76.7,79.8 M80.8,79.8L82.8,79.8 M86.9,79.8L89.0,79.8 M93.0,79.8L95.1,79.8 M99.2,79.8L101.2,79.8 M105.3,79.8L107.4,79.8" stroke="#6b7073" stroke-width="0.5" fill="none"/>
<g fill="url(#atom)"><circle cx="74.6" cy="79.8" r="1.30"/><circle cx="76.7" cy="79.8" r="1.30"/><circle cx="80.8" cy="79.8" r="1.30"/><circle cx="82.8" cy="79.8" r="1.30"/><circle cx="86.9" cy="79.8" r="1.30"/><circle cx="89.0" cy="79.8" r="1.30"/><circle cx="93.0" cy="79.8" r="1.30"/><circle cx="95.1" cy="79.8" r="1.30"/><circle cx="99.2" cy="79.8" r="1.30"/><circle cx="101.2" cy="79.8" r="1.30"/><circle cx="105.3" cy="79.8" r="1.30"/><circle cx="107.4" cy="79.8" r="1.30"/></g>
<path d="M70.7,80.2L74.6,79.8 M75.5,80.2L76.7,79.8 M77.9,80.2L80.8,79.8 M82.6,80.2L82.8,79.8 M85.0,80.2L86.9,79.8 M89.8,80.2L89.0,79.8 M92.2,80.2L93.0,79.8 M97.0,80.2L95.1,79.8 M99.4,80.2L99.2,79.8 M104.1,80.2L101.2,79.8 M106.5,80.2L105.3,79.8 M111.3,80.2L107.4,79.8 M68.3,80.2L70.7,80.2 M75.5,80.2L77.9,80.2 M82.6,80.2L85.0,80.2 M89.8,80.2L92.2,80.2 M97.0,80.2L99.4,80.2 M104.1,80.2L106.5,80.2 M111.3,80.2L113.7,80.2" stroke="#6b7073" stroke-width="0.5" fill="none"/>
<g fill="url(#atom)"><circle cx="68.3" cy="80.2" r="1.38"/><circle cx="70.7" cy="80.2" r="1.38"/><circle cx="75.5" cy="80.2" r="1.38"/><circle cx="77.9" cy="80.2" r="1.38"/><circle cx="82.6" cy="80.2" r="1.38"/><circle cx="85.0" cy="80.2" r="1.38"/><circle cx="89.8" cy="80.2" r="1.38"/><circle cx="92.2" cy="80.2" r="1.38"/><circle cx="97.0" cy="80.2" r="1.38"/><circle cx="99.4" cy="80.2" r="1.38"/><circle cx="104.1" cy="80.2" r="1.38"/><circle cx="106.5" cy="80.2" r="1.38"/><circle cx="111.3" cy="80.2" r="1.38"/><circle cx="113.7" cy="80.2" r="1.38"/></g>
<path d="M68.5,80.6L70.7,80.2 M71.3,80.6L75.5,80.2 M77.0,80.6L77.9,80.2 M79.8,80.6L82.6,80.2 M85.4,80.6L85.0,80.2 M88.2,80.6L89.8,80.2 M93.8,80.6L92.2,80.2 M96.6,80.6L97.0,80.2 M102.2,80.6L99.4,80.2 M105.0,80.6L104.1,80.2 M110.7,80.6L106.5,80.2 M113.5,80.6L111.3,80.2 M68.5,80.6L71.3,80.6 M77.0,80.6L79.8,80.6 M85.4,80.6L88.2,80.6 M93.8,80.6L96.6,80.6 M102.2,80.6L105.0,80.6 M110.7,80.6L113.5,80.6" stroke="#6b7073" stroke-width="0.5" fill="none"/>
<g fill="url(#atom)"><circle cx="68.5" cy="80.6" r="1.49"/><circle cx="71.3" cy="80.6" r="1.49"/><circle cx="77.0" cy="80.6" r="1.49"/><circle cx="79.8" cy="80.6" r="1.49"/><circle cx="85.4" cy="80.6" r="1.49"/><circle cx="88.2" cy="80.6" r="1.49"/><circle cx="93.8" cy="80.6" r="1.49"/><circle cx="96.6" cy="80.6" r="1.49"/><circle cx="102.2" cy="80.6" r="1.49"/><circle cx="105.0" cy="80.6" r="1.49"/><circle cx="110.7" cy="80.6" r="1.49"/><circle cx="113.5" cy="80.6" r="1.49"/></g>
<path d="M62.7,81.2L68.5,80.6 M69.3,81.2L71.3,80.6 M72.7,81.2L77.0,80.6 M79.3,81.2L79.8,80.6 M82.7,81.2L85.4,80.6 M89.3,81.2L88.2,80.6 M92.7,81.2L93.8,80.6 M99.3,81.2L96.6,80.6 M102.7,81.2L102.2,80.6 M109.3,81.2L105.0,80.6 M112.7,81.2L110.7,80.6 M119.3,81.2L113.5,80.6 M59.4,81.2L62.7,81.2 M69.3,81.2L72.7,81.2 M79.3,81.2L82.7,81.2 M89.3,81.2L92.7,81.2 M99.3,81.2L102.7,81.2 M109.3,81.2L112.7,81.2 M119.3,81.2L122.6,81.2" stroke="#6b7073" stroke-width="0.5" fill="none"/>
<g fill="url(#atom)"><circle cx="59.4" cy="81.2" r="1.62"/><circle cx="62.7" cy="81.2" r="1.62"/><circle cx="69.3" cy="81.2" r="1.62"/><circle cx="72.7" cy="81.2" r="1.62"/><circle cx="79.3" cy="81.2" r="1.62"/><circle cx="82.7" cy="81.2" r="1.62"/><circle cx="89.3" cy="81.2" r="1.62"/><circle cx="92.7" cy="81.2" r="1.62"/><circle cx="99.3" cy="81.2" r="1.62"/><circle cx="102.7" cy="81.2" r="1.62"/><circle cx="109.3" cy="81.2" r="1.62"/><circle cx="112.7" cy="81.2" r="1.62"/><circle cx="119.3" cy="81.2" r="1.62"/><circle cx="122.6" cy="81.2" r="1.62"/></g>
<path d="M59.0,81.9L62.7,81.2 M63.0,81.9L69.3,81.2 M71.0,81.9L72.7,81.2 M75.0,81.9L79.3,81.2 M83.0,81.9L82.7,81.2 M87.0,81.9L89.3,81.2 M95.0,81.9L92.7,81.2 M99.0,81.9L99.3,81.2 M107.0,81.9L102.7,81.2 M111.0,81.9L109.3,81.2 M119.0,81.9L112.7,81.2 M123.0,81.9L119.3,81.2 M59.0,81.9L63.0,81.9 M71.0,81.9L75.0,81.9 M83.0,81.9L87.0,81.9 M95.0,81.9L99.0,81.9 M107.0,81.9L111.0,81.9 M119.0,81.9L123.0,81.9" stroke="#6b7073" stroke-width="0.5" fill="none"/>
<g fill="url(#atom)"><circle cx="59.0" cy="81.9" r="1.78"/><circle cx="63.0" cy="81.9" r="1.78"/><circle cx="71.0" cy="81.9" r="1.78"/><circle cx="75.0" cy="81.9" r="1.78"/><circle cx="83.0" cy="81.9" r="1.78"/><circle cx="87.0" cy="81.9" r="1.78"/><circle cx="95.0" cy="81.9" r="1.78"/><circle cx="99.0" cy="81.9" r="1.78"/><circle cx="107.0" cy="81.9" r="1.78"/><circle cx="111.0" cy="81.9" r="1.78"/><circle cx="119.0" cy="81.9" r="1.78"/><circle cx="123.0" cy="81.9" r="1.78"/></g>
<path d="M49.4,82.8L59.0,81.9 M59.2,82.8L63.0,81.9 M64.1,82.8L71.0,81.9 M73.9,82.8L75.0,81.9 M78.8,82.8L83.0,81.9 M88.6,82.8L87.0,81.9 M93.4,82.8L95.0,81.9 M103.2,82.8L99.0,81.9 M108.1,82.8L107.0,81.9 M117.9,82.8L111.0,81.9 M122.8,82.8L119.0,81.9 M132.6,82.8L123.0,81.9 M44.6,82.8L49.4,82.8 M59.2,82.8L64.1,82.8 M73.9,82.8L78.8,82.8 M88.6,82.8L93.4,82.8 M103.2,82.8L108.1,82.8 M117.9,82.8L122.8,82.8 M132.6,82.8L137.4,82.8" stroke="#6b7073" stroke-width="0.5" fill="none"/>
<g fill="url(#atom)"><circle cx="44.6" cy="82.8" r="2.00"/><circle cx="49.4" cy="82.8" r="2.00"/><circle cx="59.2" cy="82.8" r="2.00"/><circle cx="64.1" cy="82.8" r="2.00"/><circle cx="73.9" cy="82.8" r="2.00"/><circle cx="78.8" cy="82.8" r="2.00"/><circle cx="88.6" cy="82.8" r="2.00"/><circle cx="93.4" cy="82.8" r="2.00"/><circle cx="103.2" cy="82.8" r="2.00"/><circle cx="108.1" cy="82.8" r="2.00"/><circle cx="117.9" cy="82.8" r="2.00"/><circle cx="122.8" cy="82.8" r="2.00"/><circle cx="132.6" cy="82.8" r="2.00"/><circle cx="137.4" cy="82.8" r="2.00"/></g>
<path d="M72.6,86.4L75.4,86.4 M81.1,86.4L83.9,86.4 M89.6,86.4L92.4,86.4 M98.1,86.4L100.9,86.4 M106.6,86.4L109.4,86.4" stroke="#6b7073" stroke-width="0.5" fill="none"/>
<g fill="url(#atom)"><circle cx="72.6" cy="86.4" r="1.30"/><circle cx="75.4" cy="86.4" r="1.30"/><circle cx="81.1" cy="86.4" r="1.30"/><circle cx="83.9" cy="86.4" r="1.30"/><circle cx="89.6" cy="86.4" r="1.30"/><circle cx="92.4" cy="86.4" r="1.30"/><circle cx="98.1" cy="86.4" r="1.30"/><circle cx="100.9" cy="86.4" r="1.30"/><circle cx="106.6" cy="86.4" r="1.30"/><circle cx="109.4" cy="86.4" r="1.30"/></g>
<path d="M69.2,86.1L72.6,86.4 M75.5,86.1L75.4,86.4 M78.6,86.1L81.1,86.4 M84.8,86.1L83.9,86.4 M87.9,86.1L89.6,86.4 M94.1,86.1L92.4,86.4 M97.2,86.1L98.1,86.4 M103.4,86.1L100.9,86.4 M106.5,86.1L106.6,86.4 M112.8,86.1L109.4,86.4 M66.1,86.1L69.2,86.1 M75.5,86.1L78.6,86.1 M84.8,86.1L87.9,86.1 M94.1,86.1L97.2,86.1 M103.4,86.1L106.5,86.1 M112.8,86.1L115.9,86.1" stroke="#6b7073" stroke-width="0.5" fill="none"/>
<g fill="url(#atom)"><circle cx="66.1" cy="86.1" r="1.38"/><circle cx="69.2" cy="86.1" r="1.38"/><circle cx="75.5" cy="86.1" r="1.38"/><circle cx="78.6" cy="86.1" r="1.38"/><circle cx="84.8" cy="86.1" r="1.38"/><circle cx="87.9" cy="86.1" r="1.38"/><circle cx="94.1" cy="86.1" r="1.38"/><circle cx="97.2" cy="86.1" r="1.38"/><circle cx="103.4" cy="86.1" r="1.38"/><circle cx="106.5" cy="86.1" r="1.38"/><circle cx="112.8" cy="86.1" r="1.38"/><circle cx="115.9" cy="86.1" r="1.38"/></g>
<path d="M68.7,85.9L69.2,86.1 M72.1,85.9L75.5,86.1 M79.0,85.9L78.6,86.1 M82.4,85.9L84.8,86.1 M89.3,85.9L87.9,86.1 M92.7,85.9L94.1,86.1 M99.6,85.9L97.2,86.1 M103.0,85.9L103.4,86.1 M109.9,85.9L106.5,86.1 M113.3,85.9L112.8,86.1 M68.7,85.9L72.1,85.9 M79.0,85.9L82.4,85.9 M89.3,85.9L92.7,85.9 M99.6,85.9L103.0,85.9 M109.9,85.9L113.3,85.9" stroke="#6b7073" stroke-width="0.5" fill="none"/>
<g fill="url(#atom)"><circle cx="68.7" cy="85.9" r="1.47"/><circle cx="72.1" cy="85.9" r="1.47"/><circle cx="79.0" cy="85.9" r="1.47"/><circle cx="82.4" cy="85.9" r="1.47"/><circle cx="89.3" cy="85.9" r="1.47"/><circle cx="92.7" cy="85.9" r="1.47"/><circle cx="99.6" cy="85.9" r="1.47"/><circle cx="103.0" cy="85.9" r="1.47"/><circle cx="109.9" cy="85.9" r="1.47"/><circle cx="113.3" cy="85.9" r="1.47"/></g>
<path d="M64.2,85.5L68.7,85.9 M71.9,85.5L72.1,85.9 M75.7,85.5L79.0,85.9 M83.4,85.5L82.4,85.9 M87.2,85.5L89.3,85.9 M94.8,85.5L92.7,85.9 M98.6,85.5L99.6,85.9 M106.3,85.5L103.0,85.9 M110.1,85.5L109.9,85.9 M117.8,85.5L113.3,85.9 M60.4,85.5L64.2,85.5 M71.9,85.5L75.7,85.5 M83.4,85.5L87.2,85.5 M94.8,85.5L98.6,85.5 M106.3,85.5L110.1,85.5 M117.8,85.5L121.6,85.5" stroke="#6b7073" stroke-width="0.5" fill="none"/>
<g fill="url(#atom)"><circle cx="60.4" cy="85.5" r="1.58"/><circle cx="64.2" cy="85.5" r="1.58"/><circle cx="71.9" cy="85.5" r="1.58"/><circle cx="75.7" cy="85.5" r="1.58"/><circle cx="83.4" cy="85.5" r="1.58"/><circle cx="87.2" cy="85.5" r="1.58"/><circle cx="94.8" cy="85.5" r="1.58"/><circle cx="98.6" cy="85.5" r="1.58"/><circle cx="106.3" cy="85.5" r="1.58"/><circle cx="110.1" cy="85.5" r="1.58"/><circle cx="117.8" cy="85.5" r="1.58"/><circle cx="121.6" cy="85.5" r="1.58"/></g>
<path d="M63.0,85.0L64.2,85.5 M67.3,85.0L71.9,85.5 M75.9,85.0L75.7,85.5 M80.2,85.0L83.4,85.5 M88.8,85.0L87.2,85.5 M93.2,85.0L94.8,85.5 M101.8,85.0L98.6,85.5 M106.1,85.0L106.3,85.5 M114.7,85.0L110.1,85.5 M119.0,85.0L117.8,85.5 M63.0,85.0L67.3,85.0 M75.9,85.0L80.2,85.0 M88.8,85.0L93.2,85.0 M101.8,85.0L106.1,85.0 M114.7,85.0L119.0,85.0" stroke="#6b7073" stroke-width="0.5" fill="none"/>
<g fill="url(#atom)"><circle cx="63.0" cy="85.0" r="1.71"/><circle cx="67.3" cy="85.0" r="1.71"/><circle cx="75.9" cy="85.0" r="1.71"/><circle cx="80.2" cy="85.0" r="1.71"/><circle cx="88.8" cy="85.0" r="1.71"/><circle cx="93.2" cy="85.0" r="1.71"/><circle cx="101.8" cy="85.0" r="1.71"/><circle cx="106.1" cy="85.0" r="1.71"/><circle cx="114.7" cy="85.0" r="1.71"/><circle cx="119.0" cy="85.0" r="1.71"/></g>
<path d="M56.6,84.5L63.0,85.0 M66.5,84.5L67.3,85.0 M71.4,84.5L75.9,85.0 M81.2,84.5L80.2,85.0 M86.1,84.5L88.8,85.0 M95.9,84.5L93.2,85.0 M100.8,84.5L101.8,85.0 M110.6,84.5L106.1,85.0 M115.5,84.5L114.7,85.0 M125.4,84.5L119.0,85.0 M51.7,84.5L56.6,84.5 M66.5,84.5L71.4,84.5 M81.2,84.5L86.1,84.5 M95.9,84.5L100.8,84.5 M110.6,84.5L115.5,84.5 M125.4,84.5L130.3,84.5" stroke="#6b7073" stroke-width="0.5" fill="none"/>
<g fill="url(#atom)"><circle cx="51.7" cy="84.5" r="1.88"/><circle cx="56.6" cy="84.5" r="1.88"/><circle cx="66.5" cy="84.5" r="1.88"/><circle cx="71.4" cy="84.5" r="1.88"/><circle cx="81.2" cy="84.5" r="1.88"/><circle cx="86.1" cy="84.5" r="1.88"/><circle cx="95.9" cy="84.5" r="1.88"/><circle cx="100.8" cy="84.5" r="1.88"/><circle cx="110.6" cy="84.5" r="1.88"/><circle cx="115.5" cy="84.5" r="1.88"/><circle cx="125.4" cy="84.5" r="1.88"/><circle cx="130.3" cy="84.5" r="1.88"/></g>
<path d="M54.0,83.8L56.6,84.5 M59.7,83.8L66.5,84.5 M71.1,83.8L71.4,84.5 M76.8,83.8L81.2,84.5 M88.2,83.8L86.1,84.5 M93.8,83.8L95.9,84.5 M105.2,83.8L100.8,84.5 M110.9,83.8L110.6,84.5 M122.3,83.8L115.5,84.5 M128.0,83.8L125.4,84.5 M54.0,83.8L59.7,83.8 M71.1,83.8L76.8,83.8 M88.2,83.8L93.8,83.8 M105.2,83.8L110.9,83.8 M122.3,83.8L128.0,83.8" stroke="#6b7073" stroke-width="0.5" fill="none"/>
<g fill="url(#atom)"><circle cx="54.0" cy="83.8" r="2.10"/><circle cx="59.7" cy="83.8" r="2.10"/><circle cx="71.1" cy="83.8" r="2.10"/><circle cx="76.8" cy="83.8" r="2.10"/><circle cx="88.2" cy="83.8" r="2.10"/><circle cx="93.8" cy="83.8" r="2.10"/><circle cx="105.2" cy="83.8" r="2.10"/><circle cx="110.9" cy="83.8" r="2.10"/><circle cx="122.3" cy="83.8" r="2.10"/><circle cx="128.0" cy="83.8" r="2.10"/></g>
<path d="M43.8,82.8L54.0,83.8 M57.2,82.8L59.7,83.8 M64.0,82.8L71.1,83.8 M77.5,82.8L76.8,83.8 M84.2,82.8L88.2,83.8 M97.8,82.8L93.8,83.8 M104.5,82.8L105.2,83.8 M118.0,82.8L110.9,83.8 M124.8,82.8L122.3,83.8 M138.2,82.8L128.0,83.8 M37.0,82.8L43.8,82.8 M57.2,82.8L64.0,82.8 M77.5,82.8L84.2,82.8 M97.8,82.8L104.5,82.8 M118.0,82.8L124.8,82.8 M138.2,82.8L145.0,82.8" stroke="#6b7073" stroke-width="0.5" fill="none"/>
<g fill="url(#atom)"><circle cx="37.0" cy="82.8" r="2.40"/><circle cx="43.8" cy="82.8" r="2.40"/><circle cx="57.2" cy="82.8" r="2.40"/><circle cx="64.0" cy="82.8" r="2.40"/><circle cx="77.5" cy="82.8" r="2.40"/><circle cx="84.2" cy="82.8" r="2.40"/><circle cx="97.8" cy="82.8" r="2.40"/><circle cx="104.5" cy="82.8" r="2.40"/><circle cx="118.0" cy="82.8" r="2.40"/><circle cx="124.8" cy="82.8" r="2.40"/><circle cx="138.2" cy="82.8" r="2.40"/><circle cx="145.0" cy="82.8" r="2.40"/></g>
<path d="M74.6,64.2L76.7,64.2 M80.8,64.2L82.8,64.2 M86.9,64.2L89.0,64.2 M93.0,64.2L95.1,64.2 M99.2,64.2L101.2,64.2 M105.3,64.2L107.4,64.2" stroke="#6b7073" stroke-width="0.5" fill="none"/>
<g fill="url(#atom)"><circle cx="74.6" cy="64.2" r="1.30"/><circle cx="76.7" cy="64.2" r="1.30"/><circle cx="80.8" cy="64.2" r="1.30"/><circle cx="82.8" cy="64.2" r="1.30"/><circle cx="86.9" cy="64.2" r="1.30"/><circle cx="89.0" cy="64.2" r="1.30"/><circle cx="93.0" cy="64.2" r="1.30"/><circle cx="95.1" cy="64.2" r="1.30"/><circle cx="99.2" cy="64.2" r="1.30"/><circle cx="101.2" cy="64.2" r="1.30"/><circle cx="105.3" cy="64.2" r="1.30"/><circle cx="107.4" cy="64.2" r="1.30"/></g>
<path d="M70.7,64.6L74.6,64.2 M75.5,64.6L76.7,64.2 M77.9,64.6L80.8,64.2 M82.6,64.6L82.8,64.2 M85.0,64.6L86.9,64.2 M89.8,64.6L89.0,64.2 M92.2,64.6L93.0,64.2 M97.0,64.6L95.1,64.2 M99.4,64.6L99.2,64.2 M104.1,64.6L101.2,64.2 M106.5,64.6L105.3,64.2 M111.3,64.6L107.4,64.2 M68.3,64.6L70.7,64.6 M75.5,64.6L77.9,64.6 M82.6,64.6L85.0,64.6 M89.8,64.6L92.2,64.6 M97.0,64.6L99.4,64.6 M104.1,64.6L106.5,64.6 M111.3,64.6L113.7,64.6" stroke="#6b7073" stroke-width="0.5" fill="none"/>
<g fill="url(#atom)"><circle cx="68.3" cy="64.6" r="1.38"/><circle cx="70.7" cy="64.6" r="1.38"/><circle cx="75.5" cy="64.6" r="1.38"/><circle cx="77.9" cy="64.6" r="1.38"/><circle cx="82.6" cy="64.6" r="1.38"/><circle cx="85.0" cy="64.6" r="1.38"/><circle cx="89.8" cy="64.6" r="1.38"/><circle cx="92.2" cy="64.6" r="1.38"/><circle cx="97.0" cy="64.6" r="1.38"/><circle cx="99.4" cy="64.6" r="1.38"/><circle cx="104.1" cy="64.6" r="1.38"/><circle cx="106.5" cy="64.6" r="1.38"/><circle cx="111.3" cy="64.6" r="1.38"/><circle cx="113.7" cy="64.6" r="1.38"/></g>
<path d="M68.5,65.0L70.7,64.6 M71.3,65.0L75.5,64.6 M77.0,65.0L77.9,64.6 M79.8,65.0L82.6,64.6 M85.4,65.0L85.0,64.6 M88.2,65.0L89.8,64.6 M93.8,65.0L92.2,64.6 M96.6,65.0L97.0,64.6 M102.2,65.0L99.4,64.6 M105.0,65.0L104.1,64.6 M110.7,65.0L106.5,64.6 M113.5,65.0L111.3,64.6 M68.5,65.0L71.3,65.0 M77.0,65.0L79.8,65.0 M85.4,65.0L88.2,65.0 M93.8,65.0L96.6,65.0 M102.2,65.0L105.0,65.0 M110.7,65.0L113.5,65.0" stroke="#6b7073" stroke-width="0.5" fill="none"/>
<g fill="url(#atom)"><circle cx="68.5" cy="65.0" r="1.49"/><circle cx="71.3" cy="65.0" r="1.49"/><circle cx="77.0" cy="65.0" r="1.49"/><circle cx="79.8" cy="65.0" r="1.49"/><circle cx="85.4" cy="65.0" r="1.49"/><circle cx="88.2" cy="65.0" r="1.49"/><circle cx="93.8" cy="65.0" r="1.49"/><circle cx="96.6" cy="65.0" r="1.49"/><circle cx="102.2" cy="65.0" r="1.49"/><circle cx="105.0" cy="65.0" r="1.49"/><circle cx="110.7" cy="65.0" r="1.49"/><circle cx="113.5" cy="65.0" r="1.49"/></g>
<path d="M62.7,65.6L68.5,65.0 M69.3,65.6L71.3,65.0 M72.7,65.6L77.0,65.0 M79.3,65.6L79.8,65.0 M82.7,65.6L85.4,65.0 M89.3,65.6L88.2,65.0 M92.7,65.6L93.8,65.0 M99.3,65.6L96.6,65.0 M102.7,65.6L102.2,65.0 M109.3,65.6L105.0,65.0 M112.7,65.6L110.7,65.0 M119.3,65.6L113.5,65.0 M59.4,65.6L62.7,65.6 M69.3,65.6L72.7,65.6 M79.3,65.6L82.7,65.6 M89.3,65.6L92.7,65.6 M99.3,65.6L102.7,65.6 M109.3,65.6L112.7,65.6 M119.3,65.6L122.6,65.6" stroke="#6b7073" stroke-width="0.5" fill="none"/>
<g fill="url(#atom)"><circle cx="59.4" cy="65.6" r="1.62"/><circle cx="62.7" cy="65.6" r="1.62"/><circle cx="69.3" cy="65.6" r="1.62"/><circle cx="72.7" cy="65.6" r="1.62"/><circle cx="79.3" cy="65.6" r="1.62"/><circle cx="82.7" cy="65.6" r="1.62"/><circle cx="89.3" cy="65.6" r="1.62"/><circle cx="92.7" cy="65.6" r="1.62"/><circle cx="99.3" cy="65.6" r="1.62"/><circle cx="102.7" cy="65.6" r="1.62"/><circle cx="109.3" cy="65.6" r="1.62"/><circle cx="112.7" cy="65.6" r="1.62"/><circle cx="119.3" cy="65.6" r="1.62"/><circle cx="122.6" cy="65.6" r="1.62"/></g>
<path d="M59.0,66.3L62.7,65.6 M63.0,66.3L69.3,65.6 M71.0,66.3L72.7,65.6 M75.0,66.3L79.3,65.6 M83.0,66.3L82.7,65.6 M87.0,66.3L89.3,65.6 M95.0,66.3L92.7,65.6 M99.0,66.3L99.3,65.6 M107.0,66.3L102.7,65.6 M111.0,66.3L109.3,65.6 M119.0,66.3L112.7,65.6 M123.0,66.3L119.3,65.6 M59.0,66.3L63.0,66.3 M71.0,66.3L75.0,66.3 M83.0,66.3L87.0,66.3 M95.0,66.3L99.0,66.3 M107.0,66.3L111.0,66.3 M119.0,66.3L123.0,66.3" stroke="#6b7073" stroke-width="0.5" fill="none"/>
<g fill="url(#atom)"><circle cx="59.0" cy="66.3" r="1.78"/><circle cx="63.0" cy="66.3" r="1.78"/><circle cx="71.0" cy="66.3" r="1.78"/><circle cx="75.0" cy="66.3" r="1.78"/><circle cx="83.0" cy="66.3" r="1.78"/><circle cx="87.0" cy="66.3" r="1.78"/><circle cx="95.0" cy="66.3" r="1.78"/><circle cx="99.0" cy="66.3" r="1.78"/><circle cx="107.0" cy="66.3" r="1.78"/><circle cx="111.0" cy="66.3" r="1.78"/><circle cx="119.0" cy="66.3" r="1.78"/><circle cx="123.0" cy="66.3" r="1.78"/></g>
<path d="M49.4,67.2L59.0,66.3 M59.2,67.2L63.0,66.3 M64.1,67.2L71.0,66.3 M73.9,67.2L75.0,66.3 M78.8,67.2L83.0,66.3 M88.6,67.2L87.0,66.3 M93.4,67.2L95.0,66.3 M103.2,67.2L99.0,66.3 M108.1,67.2L107.0,66.3 M117.9,67.2L111.0,66.3 M122.8,67.2L119.0,66.3 M132.6,67.2L123.0,66.3 M44.6,67.2L49.4,67.2 M59.2,67.2L64.1,67.2 M73.9,67.2L78.8,67.2 M88.6,67.2L93.4,67.2 M103.2,67.2L108.1,67.2 M117.9,67.2L122.8,67.2 M132.6,67.2L137.4,67.2" stroke="#6b7073" stroke-width="0.5" fill="none"/>
<g fill="url(#atom)"><circle cx="44.6" cy="67.2" r="2.00"/><circle cx="49.4" cy="67.2" r="2.00"/><circle cx="59.2" cy="67.2" r="2.00"/><circle cx="64.1" cy="67.2" r="2.00"/><circle cx="73.9" cy="67.2" r="2.00"/><circle cx="78.8" cy="67.2" r="2.00"/><circle cx="88.6" cy="67.2" r="2.00"/><circle cx="93.4" cy="67.2" r="2.00"/><circle cx="103.2" cy="67.2" r="2.00"/><circle cx="108.1" cy="67.2" r="2.00"/><circle cx="117.9" cy="67.2" r="2.00"/><circle cx="122.8" cy="67.2" r="2.00"/><circle cx="132.6" cy="67.2" r="2.00"/><circle cx="137.4" cy="67.2" r="2.00"/></g>
<path d="M72.6,70.8L75.4,70.8 M81.1,70.8L83.9,70.8 M89.6,70.8L92.4,70.8 M98.1,70.8L100.9,70.8 M106.6,70.8L109.4,70.8" stroke="#6b7073" stroke-width="0.5" fill="none"/>
<g fill="url(#atom)"><circle cx="72.6" cy="70.8" r="1.30"/><circle cx="75.4" cy="70.8" r="1.30"/><circle cx="81.1" cy="70.8" r="1.30"/><circle cx="83.9" cy="70.8" r="1.30"/><circle cx="89.6" cy="70.8" r="1.30"/><circle cx="92.4" cy="70.8" r="1.30"/><circle cx="98.1" cy="70.8" r="1.30"/><circle cx="100.9" cy="70.8" r="1.30"/><circle cx="106.6" cy="70.8" r="1.30"/><circle cx="109.4" cy="70.8" r="1.30"/></g>
<path d="M69.2,70.5L72.6,70.8 M75.5,70.5L75.4,70.8 M78.6,70.5L81.1,70.8 M84.8,70.5L83.9,70.8 M87.9,70.5L89.6,70.8 M94.1,70.5L92.4,70.8 M97.2,70.5L98.1,70.8 M103.4,70.5L100.9,70.8 M106.5,70.5L106.6,70.8 M112.8,70.5L109.4,70.8 M66.1,70.5L69.2,70.5 M75.5,70.5L78.6,70.5 M84.8,70.5L87.9,70.5 M94.1,70.5L97.2,70.5 M103.4,70.5L106.5,70.5 M112.8,70.5L115.9,70.5" stroke="#6b7073" stroke-width="0.5" fill="none"/>
<g fill="url(#atom)"><circle cx="66.1" cy="70.5" r="1.38"/><circle cx="69.2" cy="70.5" r="1.38"/><circle cx="75.5" cy="70.5" r="1.38"/><circle cx="78.6" cy="70.5" r="1.38"/><circle cx="84.8" cy="70.5" r="1.38"/><circle cx="87.9" cy="70.5" r="1.38"/><circle cx="94.1" cy="70.5" r="1.38"/><circle cx="97.2" cy="70.5" r="1.38"/><circle cx="103.4" cy="70.5" r="1.38"/><circle cx="106.5" cy="70.5" r="1.38"/><circle cx="112.8" cy="70.5" r="1.38"/><circle cx="115.9" cy="70.5" r="1.38"/></g>
<path d="M68.7,70.3L69.2,70.5 M72.1,70.3L75.5,70.5 M79.0,70.3L78.6,70.5 M82.4,70.3L84.8,70.5 M89.3,70.3L87.9,70.5 M92.7,70.3L94.1,70.5 M99.6,70.3L97.2,70.5 M103.0,70.3L103.4,70.5 M109.9,70.3L106.5,70.5 M113.3,70.3L112.8,70.5 M68.7,70.3L72.1,70.3 M79.0,70.3L82.4,70.3 M89.3,70.3L92.7,70.3 M99.6,70.3L103.0,70.3 M109.9,70.3L113.3,70.3" stroke="#6b7073" stroke-width="0.5" fill="none"/>
<g fill="url(#atom)"><circle cx="68.7" cy="70.3" r="1.47"/><circle cx="72.1" cy="70.3" r="1.47"/><circle cx="79.0" cy="70.3" r="1.47"/><circle cx="82.4" cy="70.3" r="1.47"/><circle cx="89.3" cy="70.3" r="1.47"/><circle cx="92.7" cy="70.3" r="1.47"/><circle cx="99.6" cy="70.3" r="1.47"/><circle cx="103.0" cy="70.3" r="1.47"/><circle cx="109.9" cy="70.3" r="1.47"/><circle cx="113.3" cy="70.3" r="1.47"/></g>
<path d="M64.2,69.9L68.7,70.3 M71.9,69.9L72.1,70.3 M75.7,69.9L79.0,70.3 M83.4,69.9L82.4,70.3 M87.2,69.9L89.3,70.3 M94.8,69.9L92.7,70.3 M98.6,69.9L99.6,70.3 M106.3,69.9L103.0,70.3 M110.1,69.9L109.9,70.3 M117.8,69.9L113.3,70.3 M60.4,69.9L64.2,69.9 M71.9,69.9L75.7,69.9 M83.4,69.9L87.2,69.9 M94.8,69.9L98.6,69.9 M106.3,69.9L110.1,69.9 M117.8,69.9L121.6,69.9" stroke="#6b7073" stroke-width="0.5" fill="none"/>
<g fill="url(#atom)"><circle cx="60.4" cy="69.9" r="1.58"/><circle cx="64.2" cy="69.9" r="1.58"/><circle cx="71.9" cy="69.9" r="1.58"/><circle cx="75.7" cy="69.9" r="1.58"/><circle cx="83.4" cy="69.9" r="1.58"/><circle cx="87.2" cy="69.9" r="1.58"/><circle cx="94.8" cy="69.9" r="1.58"/><circle cx="98.6" cy="69.9" r="1.58"/><circle cx="106.3" cy="69.9" r="1.58"/><circle cx="110.1" cy="69.9" r="1.58"/><circle cx="117.8" cy="69.9" r="1.58"/><circle cx="121.6" cy="69.9" r="1.58"/></g>
<path d="M63.0,69.5L64.2,69.9 M67.3,69.5L71.9,69.9 M75.9,69.5L75.7,69.9 M80.2,69.5L83.4,69.9 M88.8,69.5L87.2,69.9 M93.2,69.5L94.8,69.9 M101.8,69.5L98.6,69.9 M106.1,69.5L106.3,69.9 M114.7,69.5L110.1,69.9 M119.0,69.5L117.8,69.9 M63.0,69.5L67.3,69.5 M75.9,69.5L80.2,69.5 M88.8,69.5L93.2,69.5 M101.8,69.5L106.1,69.5 M114.7,69.5L119.0,69.5" stroke="#6b7073" stroke-width="0.5" fill="none"/>
<g fill="url(#atom)"><circle cx="63.0" cy="69.5" r="1.71"/><circle cx="67.3" cy="69.5" r="1.71"/><circle cx="75.9" cy="69.5" r="1.71"/><circle cx="80.2" cy="69.5" r="1.71"/><circle cx="88.8" cy="69.5" r="1.71"/><circle cx="93.2" cy="69.5" r="1.71"/><circle cx="101.8" cy="69.5" r="1.71"/><circle cx="106.1" cy="69.5" r="1.71"/><circle cx="114.7" cy="69.5" r="1.71"/><circle cx="119.0" cy="69.5" r="1.71"/></g>
<path d="M56.6,68.9L63.0,69.5 M66.5,68.9L67.3,69.5 M71.4,68.9L75.9,69.5 M81.2,68.9L80.2,69.5 M86.1,68.9L88.8,69.5 M95.9,68.9L93.2,69.5 M100.8,68.9L101.8,69.5 M110.6,68.9L106.1,69.5 M115.5,68.9L114.7,69.5 M125.4,68.9L119.0,69.5 M51.7,68.9L56.6,68.9 M66.5,68.9L71.4,68.9 M81.2,68.9L86.1,68.9 M95.9,68.9L100.8,68.9 M110.6,68.9L115.5,68.9 M125.4,68.9L130.3,68.9" stroke="#6b7073" stroke-width="0.5" fill="none"/>
<g fill="url(#atom)"><circle cx="51.7" cy="68.9" r="1.88"/><circle cx="56.6" cy="68.9" r="1.88"/><circle cx="66.5" cy="68.9" r="1.88"/><circle cx="71.4" cy="68.9" r="1.88"/><circle cx="81.2" cy="68.9" r="1.88"/><circle cx="86.1" cy="68.9" r="1.88"/><circle cx="95.9" cy="68.9" r="1.88"/><circle cx="100.8" cy="68.9" r="1.88"/><circle cx="110.6" cy="68.9" r="1.88"/><circle cx="115.5" cy="68.9" r="1.88"/><circle cx="125.4" cy="68.9" r="1.88"/><circle cx="130.3" cy="68.9" r="1.88"/></g>
<path d="M54.0,68.2L56.6,68.9 M59.7,68.2L66.5,68.9 M71.1,68.2L71.4,68.9 M76.8,68.2L81.2,68.9 M88.2,68.2L86.1,68.9 M93.8,68.2L95.9,68.9 M105.2,68.2L100.8,68.9 M110.9,68.2L110.6,68.9 M122.3,68.2L115.5,68.9 M128.0,68.2L125.4,68.9 M54.0,68.2L59.7,68.2 M71.1,68.2L76.8,68.2 M88.2,68.2L93.8,68.2 M105.2,68.2L110.9,68.2 M122.3,68.2L128.0,68.2" stroke="#6b7073" stroke-width="0.5" fill="none"/>
<g fill="url(#atom)"><circle cx="54.0" cy="68.2" r="2.10"/><circle cx="59.7" cy="68.2" r="2.10"/><circle cx="71.1" cy="68.2" r="2.10"/><circle cx="76.8" cy="68.2" r="2.10"/><circle cx="88.2" cy="68.2" r="2.10"/><circle cx="93.8" cy="68.2" r="2.10"/><circle cx="105.2" cy="68.2" r="2.10"/><circle cx="110.9" cy="68.2" r="2.10"/><circle cx="122.3" cy="68.2" r="2.10"/><circle cx="128.0" cy="68.2" r="2.10"/></g>
<path d="M43.8,67.2L54.0,68.2 M57.2,67.2L59.7,68.2 M64.0,67.2L71.1,68.2 M77.5,67.2L76.8,68.2 M84.2,67.2L88.2,68.2 M97.8,67.2L93.8,68.2 M104.5,67.2L105.2,68.2 M118.0,67.2L110.9,68.2 M124.8,67.2L122.3,68.2 M138.2,67.2L128.0,68.2 M37.0,67.2L43.8,67.2 M57.2,67.2L64.0,67.2 M77.5,67.2L84.2,67.2 M97.8,67.2L104.5,67.2 M118.0,67.2L124.8,67.2 M138.2,67.2L145.0,67.2" stroke="#6b7073" stroke-width="0.5" fill="none"/>
<g fill="url(#atom)"><circle cx="37.0" cy="67.2" r="2.40"/><circle cx="43.8" cy="67.2" r="2.40"/><circle cx="57.2" cy="67.2" r="2.40"/><circle cx="64.0" cy="67.2" r="2.40"/><circle cx="77.5" cy="67.2" r="2.40"/><circle cx="84.2" cy="67.2" r="2.40"/><circle cx="97.8" cy="67.2" r="2.40"/><circle cx="104.5" cy="67.2" r="2.40"/><circle cx="118.0" cy="67.2" r="2.40"/><circle cx="124.8" cy="67.2" r="2.40"/><circle cx="138.2" cy="67.2" r="2.40"/><circle cx="145.0" cy="67.2" r="2.40"/></g>
<path d="M66.5,55.2L70.4,55.2 M78.0,55.2L81.9,55.2 M89.6,55.2L93.4,55.2 M101.1,55.2L105.0,55.2 M112.6,55.2L116.5,55.2" stroke="#6b7073" stroke-width="0.5" fill="none"/>
<g fill="url(#atom)"><circle cx="66.5" cy="55.2" r="1.60"/><circle cx="70.4" cy="55.2" r="1.60"/><circle cx="78.0" cy="55.2" r="1.60"/><circle cx="81.9" cy="55.2" r="1.60"/><circle cx="89.6" cy="55.2" r="1.60"/><circle cx="93.4" cy="55.2" r="1.60"/><circle cx="101.1" cy="55.2" r="1.60"/><circle cx="105.0" cy="55.2" r="1.60"/><circle cx="112.6" cy="55.2" r="1.60"/><circle cx="116.5" cy="55.2" r="1.60"/></g>
<path d="M63.2,54.7L66.5,55.2 M71.3,54.7L70.4,55.2 M75.3,54.7L78.0,55.2 M83.4,54.7L81.9,55.2 M87.5,54.7L89.6,55.2 M95.5,54.7L93.4,55.2 M99.6,54.7L101.1,55.2 M107.7,54.7L105.0,55.2 M111.7,54.7L112.6,55.2 M119.8,54.7L116.5,55.2 M59.1,54.7L63.2,54.7 M71.3,54.7L75.3,54.7 M83.4,54.7L87.5,54.7 M95.5,54.7L99.6,54.7 M107.7,54.7L111.7,54.7 M119.8,54.7L123.9,54.7" stroke="#6b7073" stroke-width="0.5" fill="none"/>
<g fill="url(#atom)"><circle cx="59.1" cy="54.7" r="1.66"/><circle cx="63.2" cy="54.7" r="1.66"/><circle cx="71.3" cy="54.7" r="1.66"/><circle cx="75.3" cy="54.7" r="1.66"/><circle cx="83.4" cy="54.7" r="1.66"/><circle cx="87.5" cy="54.7" r="1.66"/><circle cx="95.5" cy="54.7" r="1.66"/><circle cx="99.6" cy="54.7" r="1.66"/><circle cx="107.7" cy="54.7" r="1.66"/><circle cx="111.7" cy="54.7" r="1.66"/><circle cx="119.8" cy="54.7" r="1.66"/><circle cx="123.9" cy="54.7" r="1.66"/></g>
<path d="M63.8,54.2L63.2,54.7 M68.1,54.2L71.3,54.7 M76.6,54.2L75.3,54.7 M80.8,54.2L83.4,54.7 M89.4,54.2L87.5,54.7 M93.6,54.2L95.5,54.7 M102.2,54.2L99.6,54.7 M106.4,54.2L107.7,54.7 M114.9,54.2L111.7,54.7 M119.2,54.2L119.8,54.7 M63.8,54.2L68.1,54.2 M76.6,54.2L80.8,54.2 M89.4,54.2L93.6,54.2 M102.2,54.2L106.4,54.2 M114.9,54.2L119.2,54.2" stroke="#6b7073" stroke-width="0.5" fill="none"/>
<g fill="url(#atom)"><circle cx="63.8" cy="54.2" r="1.72"/><circle cx="68.1" cy="54.2" r="1.72"/><circle cx="76.6" cy="54.2" r="1.72"/><circle cx="80.8" cy="54.2" r="1.72"/><circle cx="89.4" cy="54.2" r="1.72"/><circle cx="93.6" cy="54.2" r="1.72"/><circle cx="102.2" cy="54.2" r="1.72"/><circle cx="106.4" cy="54.2" r="1.72"/><circle cx="114.9" cy="54.2" r="1.72"/><circle cx="119.2" cy="54.2" r="1.72"/></g>
<path d="M60.0,53.7L63.8,54.2 M69.0,53.7L68.1,54.2 M73.5,53.7L76.6,54.2 M82.5,53.7L80.8,54.2 M87.0,53.7L89.4,54.2 M96.0,53.7L93.6,54.2 M100.5,53.7L102.2,54.2 M109.5,53.7L106.4,54.2 M114.0,53.7L114.9,54.2 M123.0,53.7L119.2,54.2 M55.5,53.7L60.0,53.7 M69.0,53.7L73.5,53.7 M82.5,53.7L87.0,53.7 M96.0,53.7L100.5,53.7 M109.5,53.7L114.0,53.7 M123.0,53.7L127.5,53.7" stroke="#6b7073" stroke-width="0.5" fill="none"/>
<g fill="url(#atom)"><circle cx="55.5" cy="53.7" r="1.79"/><circle cx="60.0" cy="53.7" r="1.79"/><circle cx="69.0" cy="53.7" r="1.79"/><circle cx="73.5" cy="53.7" r="1.79"/><circle cx="82.5" cy="53.7" r="1.79"/><circle cx="87.0" cy="53.7" r="1.79"/><circle cx="96.0" cy="53.7" r="1.79"/><circle cx="100.5" cy="53.7" r="1.79"/><circle cx="109.5" cy="53.7" r="1.79"/><circle cx="114.0" cy="53.7" r="1.79"/><circle cx="123.0" cy="53.7" r="1.79"/><circle cx="127.5" cy="53.7" r="1.79"/></g>
<path d="M60.5,53.0L60.0,53.7 M65.3,53.0L69.0,53.7 M74.8,53.0L73.5,53.7 M79.6,53.0L82.5,53.7 M89.1,53.0L87.0,53.7 M93.9,53.0L96.0,53.7 M103.4,53.0L100.5,53.7 M108.2,53.0L109.5,53.7 M117.7,53.0L114.0,53.7 M122.5,53.0L123.0,53.7 M60.5,53.0L65.3,53.0 M74.8,53.0L79.6,53.0 M89.1,53.0L93.9,53.0 M103.4,53.0L108.2,53.0 M117.7,53.0L122.5,53.0" stroke="#6b7073" stroke-width="0.5" fill="none"/>
<g fill="url(#atom)"><circle cx="60.5" cy="53.0" r="1.86"/><circle cx="65.3" cy="53.0" r="1.86"/><circle cx="74.8" cy="53.0" r="1.86"/><circle cx="79.6" cy="53.0" r="1.86"/><circle cx="89.1" cy="53.0" r="1.86"/><circle cx="93.9" cy="53.0" r="1.86"/><circle cx="103.4" cy="53.0" r="1.86"/><circle cx="108.2" cy="53.0" r="1.86"/><circle cx="117.7" cy="53.0" r="1.86"/><circle cx="122.5" cy="53.0" r="1.86"/></g>
<path d="M56.1,52.4L60.5,53.0 M66.2,52.4L65.3,53.0 M71.3,52.4L74.8,53.0 M81.4,52.4L79.6,53.0 M86.4,52.4L89.1,53.0 M96.6,52.4L93.9,53.0 M101.6,52.4L103.4,53.0 M111.7,52.4L108.2,53.0 M116.8,52.4L117.7,53.0 M126.9,52.4L122.5,53.0 M51.1,52.4L56.1,52.4 M66.2,52.4L71.3,52.4 M81.4,52.4L86.4,52.4 M96.6,52.4L101.6,52.4 M111.7,52.4L116.8,52.4 M126.9,52.4L131.9,52.4" stroke="#6b7073" stroke-width="0.5" fill="none"/>
<g fill="url(#atom)"><circle cx="51.1" cy="52.4" r="1.95"/><circle cx="56.1" cy="52.4" r="1.95"/><circle cx="66.2" cy="52.4" r="1.95"/><circle cx="71.3" cy="52.4" r="1.95"/><circle cx="81.4" cy="52.4" r="1.95"/><circle cx="86.4" cy="52.4" r="1.95"/><circle cx="96.6" cy="52.4" r="1.95"/><circle cx="101.6" cy="52.4" r="1.95"/><circle cx="111.7" cy="52.4" r="1.95"/><circle cx="116.8" cy="52.4" r="1.95"/><circle cx="126.9" cy="52.4" r="1.95"/><circle cx="131.9" cy="52.4" r="1.95"/></g>
<path d="M56.6,51.6L56.1,52.4 M62.0,51.6L66.2,52.4 M72.7,51.6L71.3,52.4 M78.1,51.6L81.4,52.4 M88.8,51.6L86.4,52.4 M94.2,51.6L96.6,52.4 M104.9,51.6L101.6,52.4 M110.3,51.6L111.7,52.4 M121.0,51.6L116.8,52.4 M126.4,51.6L126.9,52.4 M56.6,51.6L62.0,51.6 M72.7,51.6L78.1,51.6 M88.8,51.6L94.2,51.6 M104.9,51.6L110.3,51.6 M121.0,51.6L126.4,51.6" stroke="#6b7073" stroke-width="0.5" fill="none"/>
<g fill="url(#atom)"><circle cx="56.6" cy="51.6" r="2.04"/><circle cx="62.0" cy="51.6" r="2.04"/><circle cx="72.7" cy="51.6" r="2.04"/><circle cx="78.1" cy="51.6" r="2.04"/><circle cx="88.8" cy="51.6" r="2.04"/><circle cx="94.2" cy="51.6" r="2.04"/><circle cx="104.9" cy="51.6" r="2.04"/><circle cx="110.3" cy="51.6" r="2.04"/><circle cx="121.0" cy="51.6" r="2.04"/><circle cx="126.4" cy="51.6" r="2.04"/></g>
<path d="M51.4,50.8L56.6,51.6 M62.9,50.8L62.0,51.6 M68.6,50.8L72.7,51.6 M80.0,50.8L78.1,51.6 M85.8,50.8L88.8,51.6 M97.2,50.8L94.2,51.6 M103.0,50.8L104.9,51.6 M114.4,50.8L110.3,51.6 M120.1,50.8L121.0,51.6 M131.6,50.8L126.4,51.6 M45.7,50.8L51.4,50.8 M62.9,50.8L68.6,50.8 M80.0,50.8L85.8,50.8 M97.2,50.8L103.0,50.8 M114.4,50.8L120.1,50.8 M131.6,50.8L137.3,50.8" stroke="#6b7073" stroke-width="0.5" fill="none"/>
<g fill="url(#atom)"><circle cx="45.7" cy="50.8" r="2.14"/><circle cx="51.4" cy="50.8" r="2.14"/><circle cx="62.9" cy="50.8" r="2.14"/><circle cx="68.6" cy="50.8" r="2.14"/><circle cx="80.0" cy="50.8" r="2.14"/><circle cx="85.8" cy="50.8" r="2.14"/><circle cx="97.2" cy="50.8" r="2.14"/><circle cx="103.0" cy="50.8" r="2.14"/><circle cx="114.4" cy="50.8" r="2.14"/><circle cx="120.1" cy="50.8" r="2.14"/><circle cx="131.6" cy="50.8" r="2.14"/><circle cx="137.3" cy="50.8" r="2.14"/></g>
<path d="M51.7,49.8L51.4,50.8 M57.8,49.8L62.9,50.8 M70.0,49.8L68.6,50.8 M76.2,49.8L80.0,50.8 M88.4,49.8L85.8,50.8 M94.6,49.8L97.2,50.8 M106.8,49.8L103.0,50.8 M113.0,49.8L114.4,50.8 M125.2,49.8L120.1,50.8 M131.3,49.8L131.6,50.8 M51.7,49.8L57.8,49.8 M70.0,49.8L76.2,49.8 M88.4,49.8L94.6,49.8 M106.8,49.8L113.0,49.8 M125.2,49.8L131.3,49.8" stroke="#6b7073" stroke-width="0.5" fill="none"/>
<g fill="url(#atom)"><circle cx="51.7" cy="49.8" r="2.25"/><circle cx="57.8" cy="49.8" r="2.25"/><circle cx="70.0" cy="49.8" r="2.25"/><circle cx="76.2" cy="49.8" r="2.25"/><circle cx="88.4" cy="49.8" r="2.25"/><circle cx="94.6" cy="49.8" r="2.25"/><circle cx="106.8" cy="49.8" r="2.25"/><circle cx="113.0" cy="49.8" r="2.25"/><circle cx="125.2" cy="49.8" r="2.25"/><circle cx="131.3" cy="49.8" r="2.25"/></g>
<path d="M45.4,48.8L51.7,49.8 M58.6,48.8L57.8,49.8 M65.2,48.8L70.0,49.8 M78.3,48.8L76.2,49.8 M84.9,48.8L88.4,49.8 M98.1,48.8L94.6,49.8 M104.7,48.8L106.8,49.8 M117.8,48.8L113.0,49.8 M124.4,48.8L125.2,49.8 M137.6,48.8L131.3,49.8 M38.8,48.8L45.4,48.8 M58.6,48.8L65.2,48.8 M78.3,48.8L84.9,48.8 M98.1,48.8L104.7,48.8 M117.8,48.8L124.4,48.8 M137.6,48.8L144.2,48.8" stroke="#6b7073" stroke-width="0.5" fill="none"/>
<g fill="url(#atom)"><circle cx="38.8" cy="48.8" r="2.38"/><circle cx="45.4" cy="48.8" r="2.38"/><circle cx="58.6" cy="48.8" r="2.38"/><circle cx="65.2" cy="48.8" r="2.38"/><circle cx="78.3" cy="48.8" r="2.38"/><circle cx="84.9" cy="48.8" r="2.38"/><circle cx="98.1" cy="48.8" r="2.38"/><circle cx="104.7" cy="48.8" r="2.38"/><circle cx="117.8" cy="48.8" r="2.38"/><circle cx="124.4" cy="48.8" r="2.38"/><circle cx="137.6" cy="48.8" r="2.38"/><circle cx="144.2" cy="48.8" r="2.38"/></g>
<path d="M45.4,47.6L45.4,48.8 M52.5,47.6L58.6,48.8 M66.7,47.6L65.2,48.8 M73.8,47.6L78.3,48.8 M88.0,47.6L84.9,48.8 M95.0,47.6L98.1,48.8 M109.2,47.6L104.7,48.8 M116.3,47.6L117.8,48.8 M130.5,47.6L124.4,48.8 M137.6,47.6L137.6,48.8 M45.4,47.6L52.5,47.6 M66.7,47.6L73.8,47.6 M88.0,47.6L95.0,47.6 M109.2,47.6L116.3,47.6 M130.5,47.6L137.6,47.6" stroke="#6b7073" stroke-width="0.5" fill="none"/>
<g fill="url(#atom)"><circle cx="45.4" cy="47.6" r="2.53"/><circle cx="52.5" cy="47.6" r="2.53"/><circle cx="66.7" cy="47.6" r="2.53"/><circle cx="73.8" cy="47.6" r="2.53"/><circle cx="88.0" cy="47.6" r="2.53"/><circle cx="95.0" cy="47.6" r="2.53"/><circle cx="109.2" cy="47.6" r="2.53"/><circle cx="116.3" cy="47.6" r="2.53"/><circle cx="130.5" cy="47.6" r="2.53"/><circle cx="137.6" cy="47.6" r="2.53"/></g>
<path d="M37.7,46.2L45.4,47.6 M53.1,46.2L52.5,47.6 M60.8,46.2L66.7,47.6 M76.1,46.2L73.8,47.6 M83.8,46.2L88.0,47.6 M99.2,46.2L95.0,47.6 M106.9,46.2L109.2,47.6 M122.2,46.2L116.3,47.6 M129.9,46.2L130.5,47.6 M145.3,46.2L137.6,47.6 M30.0,46.2L37.7,46.2 M53.1,46.2L60.8,46.2 M76.1,46.2L83.8,46.2 M99.2,46.2L106.9,46.2 M122.2,46.2L129.9,46.2 M145.3,46.2L153.0,46.2" stroke="#6b7073" stroke-width="0.5" fill="none"/>
<g fill="url(#atom)"><circle cx="30.0" cy="46.2" r="2.70"/><circle cx="37.7" cy="46.2" r="2.70"/><circle cx="53.1" cy="46.2" r="2.70"/><circle cx="60.8" cy="46.2" r="2.70"/><circle cx="76.1" cy="46.2" r="2.70"/><circle cx="83.8" cy="46.2" r="2.70"/><circle cx="99.2" cy="46.2" r="2.70"/><circle cx="106.9" cy="46.2" r="2.70"/><circle cx="122.2" cy="46.2" r="2.70"/><circle cx="129.9" cy="46.2" r="2.70"/><circle cx="145.3" cy="46.2" r="2.70"/><circle cx="153.0" cy="46.2" r="2.70"/></g>
<path d="M154.5,46.5H160.5M154.5,66.5H160.5" stroke="#2f4f86" stroke-width="1.3"/>
<path d="M157.5,50V63" stroke="#2c3c62" stroke-width="1.2"/>
<path d="M157.5,48 L155.6,52 L159.4,52Z M157.5,65 L155.6,61 L159.4,61Z" fill="#3a4a68"/>
<text x="163" y="58.9" font-size="9" text-anchor="start" font-weight="normal" font-style="italic" fill="#222" stroke="#222" stroke-width="0.16">d<tspan dy="1.9" dx="0.2" font-size="5.2" font-style="normal">1</tspan></text>
<line x1="178.1" y1="81.8" x2="219.8" y2="81.8" stroke="#3a4a68" stroke-width="1.1"/>
<path d="M222.8,81.8 L218.20000000000002,79.7 L218.20000000000002,83.89999999999999Z" fill="#3a4a68"/>
<text x="177.6" y="94.1" font-size="8.3" text-anchor="start" font-weight="normal" font-style="normal" fill="#222" textLength="47" lengthAdjust="spacingAndGlyphs" stroke="#222" stroke-width="0.16">Intercalation</text>
<text x="46" y="152.5" font-size="8.3" text-anchor="start" font-weight="normal" font-style="normal" fill="#222" textLength="86.5" lengthAdjust="spacingAndGlyphs" stroke="#222" stroke-width="0.16">Layered material (host)</text>
<path d="M294.5,113.5L297.9,113.5 M304.6,113.5L308.0,113.5 M314.8,113.5L318.1,113.5 M324.9,113.5L328.2,113.5 M335.0,113.5L338.4,113.5 M345.1,113.5L348.5,113.5" stroke="#6b7073" stroke-width="0.5" fill="none"/>
<g fill="url(#atom)"><circle cx="294.5" cy="113.5" r="1.20"/><circle cx="297.9" cy="113.5" r="1.20"/><circle cx="304.6" cy="113.5" r="1.20"/><circle cx="308.0" cy="113.5" r="1.20"/><circle cx="314.8" cy="113.5" r="1.20"/><circle cx="318.1" cy="113.5" r="1.20"/><circle cx="324.9" cy="113.5" r="1.20"/><circle cx="328.2" cy="113.5" r="1.20"/><circle cx="335.0" cy="113.5" r="1.20"/><circle cx="338.4" cy="113.5" r="1.20"/><circle cx="345.1" cy="113.5" r="1.20"/><circle cx="348.5" cy="113.5" r="1.20"/></g>
<path d="M298.7,114.1L297.9,113.5 M302.2,114.1L304.6,113.5 M309.2,114.1L308.0,113.5 M312.7,114.1L314.8,113.5 M319.7,114.1L318.1,113.5 M323.3,114.1L324.9,113.5 M330.3,114.1L328.2,113.5 M333.8,114.1L335.0,113.5 M340.8,114.1L338.4,113.5 M344.3,114.1L345.1,113.5 M298.7,114.1L302.2,114.1 M309.2,114.1L312.7,114.1 M319.7,114.1L323.3,114.1 M330.3,114.1L333.8,114.1 M340.8,114.1L344.3,114.1" stroke="#6b7073" stroke-width="0.5" fill="none"/>
<g fill="url(#atom)"><circle cx="298.7" cy="114.1" r="1.25"/><circle cx="302.2" cy="114.1" r="1.25"/><circle cx="309.2" cy="114.1" r="1.25"/><circle cx="312.7" cy="114.1" r="1.25"/><circle cx="319.7" cy="114.1" r="1.25"/><circle cx="323.3" cy="114.1" r="1.25"/><circle cx="330.3" cy="114.1" r="1.25"/><circle cx="333.8" cy="114.1" r="1.25"/><circle cx="340.8" cy="114.1" r="1.25"/><circle cx="344.3" cy="114.1" r="1.25"/></g>
<path d="M295.8,114.8L298.7,114.1 M303.1,114.8L302.2,114.1 M306.8,114.8L309.2,114.1 M314.2,114.8L312.7,114.1 M317.8,114.8L319.7,114.1 M325.2,114.8L323.3,114.1 M328.8,114.8L330.3,114.1 M336.2,114.8L333.8,114.1 M339.9,114.8L340.8,114.1 M347.2,114.8L344.3,114.1 M292.1,114.8L295.8,114.8 M303.1,114.8L306.8,114.8 M314.2,114.8L317.8,114.8 M325.2,114.8L328.8,114.8 M336.2,114.8L339.9,114.8 M347.2,114.8L350.9,114.8" stroke="#6b7073" stroke-width="0.5" fill="none"/>
<g fill="url(#atom)"><circle cx="292.1" cy="114.8" r="1.31"/><circle cx="295.8" cy="114.8" r="1.31"/><circle cx="303.1" cy="114.8" r="1.31"/><circle cx="306.8" cy="114.8" r="1.31"/><circle cx="314.2" cy="114.8" r="1.31"/><circle cx="317.8" cy="114.8" r="1.31"/><circle cx="325.2" cy="114.8" r="1.31"/><circle cx="328.8" cy="114.8" r="1.31"/><circle cx="336.2" cy="114.8" r="1.31"/><circle cx="339.9" cy="114.8" r="1.31"/><circle cx="347.2" cy="114.8" r="1.31"/><circle cx="350.9" cy="114.8" r="1.31"/></g>
<path d="M296.5,115.6L295.8,114.8 M300.3,115.6L303.1,114.8 M308.0,115.6L306.8,114.8 M311.9,115.6L314.2,114.8 M319.6,115.6L317.8,114.8 M323.4,115.6L325.2,114.8 M331.1,115.6L328.8,114.8 M335.0,115.6L336.2,114.8 M342.7,115.6L339.9,114.8 M346.5,115.6L347.2,114.8 M296.5,115.6L300.3,115.6 M308.0,115.6L311.9,115.6 M319.6,115.6L323.4,115.6 M331.1,115.6L335.0,115.6 M342.7,115.6L346.5,115.6" stroke="#6b7073" stroke-width="0.5" fill="none"/>
<g fill="url(#atom)"><circle cx="296.5" cy="115.6" r="1.38"/><circle cx="300.3" cy="115.6" r="1.38"/><circle cx="308.0" cy="115.6" r="1.38"/><circle cx="311.9" cy="115.6" r="1.38"/><circle cx="319.6" cy="115.6" r="1.38"/><circle cx="323.4" cy="115.6" r="1.38"/><circle cx="331.1" cy="115.6" r="1.38"/><circle cx="335.0" cy="115.6" r="1.38"/><circle cx="342.7" cy="115.6" r="1.38"/><circle cx="346.5" cy="115.6" r="1.38"/></g>
<path d="M293.2,116.5L296.5,115.6 M301.3,116.5L300.3,115.6 M305.3,116.5L308.0,115.6 M313.4,116.5L311.9,115.6 M317.5,116.5L319.6,115.6 M325.5,116.5L323.4,115.6 M329.6,116.5L331.1,115.6 M337.7,116.5L335.0,115.6 M341.7,116.5L342.7,115.6 M349.8,116.5L346.5,115.6 M289.2,116.5L293.2,116.5 M301.3,116.5L305.3,116.5 M313.4,116.5L317.5,116.5 M325.5,116.5L329.6,116.5 M337.7,116.5L341.7,116.5 M349.8,116.5L353.8,116.5" stroke="#6b7073" stroke-width="0.5" fill="none"/>
<g fill="url(#atom)"><circle cx="289.2" cy="116.5" r="1.46"/><circle cx="293.2" cy="116.5" r="1.46"/><circle cx="301.3" cy="116.5" r="1.46"/><circle cx="305.3" cy="116.5" r="1.46"/><circle cx="313.4" cy="116.5" r="1.46"/><circle cx="317.5" cy="116.5" r="1.46"/><circle cx="325.5" cy="116.5" r="1.46"/><circle cx="329.6" cy="116.5" r="1.46"/><circle cx="337.7" cy="116.5" r="1.46"/><circle cx="341.7" cy="116.5" r="1.46"/><circle cx="349.8" cy="116.5" r="1.46"/><circle cx="353.8" cy="116.5" r="1.46"/></g>
<path d="M293.8,117.5L293.2,116.5 M298.0,117.5L301.3,116.5 M306.6,117.5L305.3,116.5 M310.8,117.5L313.4,116.5 M319.4,117.5L317.5,116.5 M323.6,117.5L325.5,116.5 M332.2,117.5L329.6,116.5 M336.4,117.5L337.7,116.5 M345.0,117.5L341.7,116.5 M349.2,117.5L349.8,116.5 M293.8,117.5L298.0,117.5 M306.6,117.5L310.8,117.5 M319.4,117.5L323.6,117.5 M332.2,117.5L336.4,117.5 M345.0,117.5L349.2,117.5" stroke="#6b7073" stroke-width="0.5" fill="none"/>
<g fill="url(#atom)"><circle cx="293.8" cy="117.5" r="1.54"/><circle cx="298.0" cy="117.5" r="1.54"/><circle cx="306.6" cy="117.5" r="1.54"/><circle cx="310.8" cy="117.5" r="1.54"/><circle cx="319.4" cy="117.5" r="1.54"/><circle cx="323.6" cy="117.5" r="1.54"/><circle cx="332.2" cy="117.5" r="1.54"/><circle cx="336.4" cy="117.5" r="1.54"/><circle cx="345.0" cy="117.5" r="1.54"/><circle cx="349.2" cy="117.5" r="1.54"/></g>
<path d="M289.9,118.7L293.8,117.5 M298.9,118.7L298.0,117.5 M303.4,118.7L306.6,117.5 M312.5,118.7L310.8,117.5 M317.0,118.7L319.4,117.5 M326.0,118.7L323.6,117.5 M330.5,118.7L332.2,117.5 M339.6,118.7L336.4,117.5 M344.1,118.7L345.0,117.5 M353.1,118.7L349.2,117.5 M285.4,118.7L289.9,118.7 M298.9,118.7L303.4,118.7 M312.5,118.7L317.0,118.7 M326.0,118.7L330.5,118.7 M339.6,118.7L344.1,118.7 M353.1,118.7L357.6,118.7" stroke="#6b7073" stroke-width="0.5" fill="none"/>
<g fill="url(#atom)"><circle cx="285.4" cy="118.7" r="1.64"/><circle cx="289.9" cy="118.7" r="1.64"/><circle cx="298.9" cy="118.7" r="1.64"/><circle cx="303.4" cy="118.7" r="1.64"/><circle cx="312.5" cy="118.7" r="1.64"/><circle cx="317.0" cy="118.7" r="1.64"/><circle cx="326.0" cy="118.7" r="1.64"/><circle cx="330.5" cy="118.7" r="1.64"/><circle cx="339.6" cy="118.7" r="1.64"/><circle cx="344.1" cy="118.7" r="1.64"/><circle cx="353.1" cy="118.7" r="1.64"/><circle cx="357.6" cy="118.7" r="1.64"/></g>
<path d="M290.2,120.0L289.9,118.7 M295.0,120.0L298.9,118.7 M304.7,120.0L303.4,118.7 M309.5,120.0L312.5,118.7 M319.1,120.0L317.0,118.7 M323.9,120.0L326.0,118.7 M333.5,120.0L330.5,118.7 M338.3,120.0L339.6,118.7 M348.0,120.0L344.1,118.7 M352.8,120.0L353.1,118.7 M290.2,120.0L295.0,120.0 M304.7,120.0L309.5,120.0 M319.1,120.0L323.9,120.0 M333.5,120.0L338.3,120.0 M348.0,120.0L352.8,120.0" stroke="#6b7073" stroke-width="0.5" fill="none"/>
<g fill="url(#atom)"><circle cx="290.2" cy="120.0" r="1.76"/><circle cx="295.0" cy="120.0" r="1.76"/><circle cx="304.7" cy="120.0" r="1.76"/><circle cx="309.5" cy="120.0" r="1.76"/><circle cx="319.1" cy="120.0" r="1.76"/><circle cx="323.9" cy="120.0" r="1.76"/><circle cx="333.5" cy="120.0" r="1.76"/><circle cx="338.3" cy="120.0" r="1.76"/><circle cx="348.0" cy="120.0" r="1.76"/><circle cx="352.8" cy="120.0" r="1.76"/></g>
<path d="M285.4,121.6L290.2,120.0 M295.7,121.6L295.0,120.0 M300.9,121.6L304.7,120.0 M311.2,121.6L309.5,120.0 M316.3,121.6L319.1,120.0 M326.7,121.6L323.9,120.0 M331.8,121.6L333.5,120.0 M342.1,121.6L338.3,120.0 M347.3,121.6L348.0,120.0 M357.6,121.6L352.8,120.0 M280.3,121.6L285.4,121.6 M295.7,121.6L300.9,121.6 M311.2,121.6L316.3,121.6 M326.7,121.6L331.8,121.6 M342.1,121.6L347.3,121.6 M357.6,121.6L362.7,121.6" stroke="#6b7073" stroke-width="0.5" fill="none"/>
<g fill="url(#atom)"><circle cx="280.3" cy="121.6" r="1.89"/><circle cx="285.4" cy="121.6" r="1.89"/><circle cx="295.7" cy="121.6" r="1.89"/><circle cx="300.9" cy="121.6" r="1.89"/><circle cx="311.2" cy="121.6" r="1.89"/><circle cx="316.3" cy="121.6" r="1.89"/><circle cx="326.7" cy="121.6" r="1.89"/><circle cx="331.8" cy="121.6" r="1.89"/><circle cx="342.1" cy="121.6" r="1.89"/><circle cx="347.3" cy="121.6" r="1.89"/><circle cx="357.6" cy="121.6" r="1.89"/><circle cx="362.7" cy="121.6" r="1.89"/></g>
<path d="M285.4,123.4L285.4,121.6 M290.9,123.4L295.7,121.6 M302.1,123.4L300.9,121.6 M307.6,123.4L311.2,121.6 M318.7,123.4L316.3,121.6 M324.3,123.4L326.7,121.6 M335.4,123.4L331.8,121.6 M340.9,123.4L342.1,121.6 M352.1,123.4L347.3,121.6 M357.6,123.4L357.6,121.6 M285.4,123.4L290.9,123.4 M302.1,123.4L307.6,123.4 M318.7,123.4L324.3,123.4 M335.4,123.4L340.9,123.4 M352.1,123.4L357.6,123.4" stroke="#6b7073" stroke-width="0.5" fill="none"/>
<g fill="url(#atom)"><circle cx="285.4" cy="123.4" r="2.05"/><circle cx="290.9" cy="123.4" r="2.05"/><circle cx="302.1" cy="123.4" r="2.05"/><circle cx="307.6" cy="123.4" r="2.05"/><circle cx="318.7" cy="123.4" r="2.05"/><circle cx="324.3" cy="123.4" r="2.05"/><circle cx="335.4" cy="123.4" r="2.05"/><circle cx="340.9" cy="123.4" r="2.05"/><circle cx="352.1" cy="123.4" r="2.05"/><circle cx="357.6" cy="123.4" r="2.05"/></g>
<path d="M279.2,125.6L285.4,123.4 M291.3,125.6L290.9,123.4 M297.3,125.6L302.1,123.4 M309.4,125.6L307.6,123.4 M315.5,125.6L318.7,123.4 M327.5,125.6L324.3,123.4 M333.6,125.6L335.4,123.4 M345.7,125.6L340.9,123.4 M351.7,125.6L352.1,123.4 M363.8,125.6L357.6,123.4 M273.2,125.6L279.2,125.6 M291.3,125.6L297.3,125.6 M309.4,125.6L315.5,125.6 M327.5,125.6L333.6,125.6 M345.7,125.6L351.7,125.6 M363.8,125.6L369.8,125.6" stroke="#6b7073" stroke-width="0.5" fill="none"/>
<g fill="url(#atom)"><circle cx="273.2" cy="125.6" r="2.23"/><circle cx="279.2" cy="125.6" r="2.23"/><circle cx="291.3" cy="125.6" r="2.23"/><circle cx="297.3" cy="125.6" r="2.23"/><circle cx="309.4" cy="125.6" r="2.23"/><circle cx="315.5" cy="125.6" r="2.23"/><circle cx="327.5" cy="125.6" r="2.23"/><circle cx="333.6" cy="125.6" r="2.23"/><circle cx="345.7" cy="125.6" r="2.23"/><circle cx="351.7" cy="125.6" r="2.23"/><circle cx="363.8" cy="125.6" r="2.23"/><circle cx="369.8" cy="125.6" r="2.23"/></g>
<path d="M278.4,128.3L279.2,125.6 M285.0,128.3L291.3,125.6 M298.3,128.3L297.3,125.6 M304.9,128.3L309.4,125.6 M318.2,128.3L315.5,125.6 M324.8,128.3L327.5,125.6 M338.1,128.3L333.6,125.6 M344.7,128.3L345.7,125.6 M358.0,128.3L351.7,125.6 M364.6,128.3L363.8,125.6 M278.4,128.3L285.0,128.3 M298.3,128.3L304.9,128.3 M318.2,128.3L324.8,128.3 M338.1,128.3L344.7,128.3 M358.0,128.3L364.6,128.3" stroke="#6b7073" stroke-width="0.5" fill="none"/>
<g fill="url(#atom)"><circle cx="278.4" cy="128.3" r="2.46"/><circle cx="285.0" cy="128.3" r="2.46"/><circle cx="298.3" cy="128.3" r="2.46"/><circle cx="304.9" cy="128.3" r="2.46"/><circle cx="318.2" cy="128.3" r="2.46"/><circle cx="324.8" cy="128.3" r="2.46"/><circle cx="338.1" cy="128.3" r="2.46"/><circle cx="344.7" cy="128.3" r="2.46"/><circle cx="358.0" cy="128.3" r="2.46"/><circle cx="364.6" cy="128.3" r="2.46"/></g>
<path d="M269.9,131.7L278.4,128.3 M284.6,131.7L285.0,128.3 M292.0,131.7L298.3,128.3 M306.8,131.7L304.9,128.3 M314.1,131.7L318.2,128.3 M328.9,131.7L324.8,128.3 M336.2,131.7L338.1,128.3 M351.0,131.7L344.7,128.3 M358.4,131.7L358.0,128.3 M373.1,131.7L364.6,128.3 M262.5,131.7L269.9,131.7 M284.6,131.7L292.0,131.7 M306.8,131.7L314.1,131.7 M328.9,131.7L336.2,131.7 M351.0,131.7L358.4,131.7 M373.1,131.7L380.5,131.7" stroke="#6b7073" stroke-width="0.5" fill="none"/>
<g fill="url(#atom)"><circle cx="262.5" cy="131.7" r="2.75"/><circle cx="269.9" cy="131.7" r="2.75"/><circle cx="284.6" cy="131.7" r="2.75"/><circle cx="292.0" cy="131.7" r="2.75"/><circle cx="306.8" cy="131.7" r="2.75"/><circle cx="314.1" cy="131.7" r="2.75"/><circle cx="328.9" cy="131.7" r="2.75"/><circle cx="336.2" cy="131.7" r="2.75"/><circle cx="351.0" cy="131.7" r="2.75"/><circle cx="358.4" cy="131.7" r="2.75"/><circle cx="373.1" cy="131.7" r="2.75"/><circle cx="380.5" cy="131.7" r="2.75"/></g>
<path d="M304.1,97.0L306.2,97.0 M310.3,97.0L312.3,97.0 M316.4,97.0L318.5,97.0 M322.5,97.0L324.6,97.0 M328.7,97.0L330.7,97.0 M334.8,97.0L336.9,97.0" stroke="#6b7073" stroke-width="0.5" fill="none"/>
<g fill="url(#atom)"><circle cx="304.1" cy="97.0" r="1.30"/><circle cx="306.2" cy="97.0" r="1.30"/><circle cx="310.3" cy="97.0" r="1.30"/><circle cx="312.3" cy="97.0" r="1.30"/><circle cx="316.4" cy="97.0" r="1.30"/><circle cx="318.5" cy="97.0" r="1.30"/><circle cx="322.5" cy="97.0" r="1.30"/><circle cx="324.6" cy="97.0" r="1.30"/><circle cx="328.7" cy="97.0" r="1.30"/><circle cx="330.7" cy="97.0" r="1.30"/><circle cx="334.8" cy="97.0" r="1.30"/><circle cx="336.9" cy="97.0" r="1.30"/></g>
<path d="M300.2,97.4L304.1,97.0 M305.0,97.4L306.2,97.0 M307.4,97.4L310.3,97.0 M312.1,97.4L312.3,97.0 M314.5,97.4L316.4,97.0 M319.3,97.4L318.5,97.0 M321.7,97.4L322.5,97.0 M326.5,97.4L324.6,97.0 M328.9,97.4L328.7,97.0 M333.6,97.4L330.7,97.0 M336.0,97.4L334.8,97.0 M340.8,97.4L336.9,97.0 M297.8,97.4L300.2,97.4 M305.0,97.4L307.4,97.4 M312.1,97.4L314.5,97.4 M319.3,97.4L321.7,97.4 M326.5,97.4L328.9,97.4 M333.6,97.4L336.0,97.4 M340.8,97.4L343.2,97.4" stroke="#6b7073" stroke-width="0.5" fill="none"/>
<g fill="url(#atom)"><circle cx="297.8" cy="97.4" r="1.38"/><circle cx="300.2" cy="97.4" r="1.38"/><circle cx="305.0" cy="97.4" r="1.38"/><circle cx="307.4" cy="97.4" r="1.38"/><circle cx="312.1" cy="97.4" r="1.38"/><circle cx="314.5" cy="97.4" r="1.38"/><circle cx="319.3" cy="97.4" r="1.38"/><circle cx="321.7" cy="97.4" r="1.38"/><circle cx="326.5" cy="97.4" r="1.38"/><circle cx="328.9" cy="97.4" r="1.38"/><circle cx="333.6" cy="97.4" r="1.38"/><circle cx="336.0" cy="97.4" r="1.38"/><circle cx="340.8" cy="97.4" r="1.38"/><circle cx="343.2" cy="97.4" r="1.38"/></g>
<path d="M298.0,97.9L300.2,97.4 M300.8,97.9L305.0,97.4 M306.5,97.9L307.4,97.4 M309.3,97.9L312.1,97.4 M314.9,97.9L314.5,97.4 M317.7,97.9L319.3,97.4 M323.3,97.9L321.7,97.4 M326.1,97.9L326.5,97.4 M331.7,97.9L328.9,97.4 M334.5,97.9L333.6,97.4 M340.2,97.9L336.0,97.4 M343.0,97.9L340.8,97.4 M298.0,97.9L300.8,97.9 M306.5,97.9L309.3,97.9 M314.9,97.9L317.7,97.9 M323.3,97.9L326.1,97.9 M331.7,97.9L334.5,97.9 M340.2,97.9L343.0,97.9" stroke="#6b7073" stroke-width="0.5" fill="none"/>
<g fill="url(#atom)"><circle cx="298.0" cy="97.9" r="1.49"/><circle cx="300.8" cy="97.9" r="1.49"/><circle cx="306.5" cy="97.9" r="1.49"/><circle cx="309.3" cy="97.9" r="1.49"/><circle cx="314.9" cy="97.9" r="1.49"/><circle cx="317.7" cy="97.9" r="1.49"/><circle cx="323.3" cy="97.9" r="1.49"/><circle cx="326.1" cy="97.9" r="1.49"/><circle cx="331.7" cy="97.9" r="1.49"/><circle cx="334.5" cy="97.9" r="1.49"/><circle cx="340.2" cy="97.9" r="1.49"/><circle cx="343.0" cy="97.9" r="1.49"/></g>
<path d="M292.2,98.5L298.0,97.9 M298.8,98.5L300.8,97.9 M302.2,98.5L306.5,97.9 M308.8,98.5L309.3,97.9 M312.2,98.5L314.9,97.9 M318.8,98.5L317.7,97.9 M322.2,98.5L323.3,97.9 M328.8,98.5L326.1,97.9 M332.2,98.5L331.7,97.9 M338.8,98.5L334.5,97.9 M342.2,98.5L340.2,97.9 M348.8,98.5L343.0,97.9 M288.9,98.5L292.2,98.5 M298.8,98.5L302.2,98.5 M308.8,98.5L312.2,98.5 M318.8,98.5L322.2,98.5 M328.8,98.5L332.2,98.5 M338.8,98.5L342.2,98.5 M348.8,98.5L352.1,98.5" stroke="#6b7073" stroke-width="0.5" fill="none"/>
<g fill="url(#atom)"><circle cx="288.9" cy="98.5" r="1.62"/><circle cx="292.2" cy="98.5" r="1.62"/><circle cx="298.8" cy="98.5" r="1.62"/><circle cx="302.2" cy="98.5" r="1.62"/><circle cx="308.8" cy="98.5" r="1.62"/><circle cx="312.2" cy="98.5" r="1.62"/><circle cx="318.8" cy="98.5" r="1.62"/><circle cx="322.2" cy="98.5" r="1.62"/><circle cx="328.8" cy="98.5" r="1.62"/><circle cx="332.2" cy="98.5" r="1.62"/><circle cx="338.8" cy="98.5" r="1.62"/><circle cx="342.2" cy="98.5" r="1.62"/><circle cx="348.8" cy="98.5" r="1.62"/><circle cx="352.1" cy="98.5" r="1.62"/></g>
<path d="M288.5,99.3L292.2,98.5 M292.5,99.3L298.8,98.5 M300.5,99.3L302.2,98.5 M304.5,99.3L308.8,98.5 M312.5,99.3L312.2,98.5 M316.5,99.3L318.8,98.5 M324.5,99.3L322.2,98.5 M328.5,99.3L328.8,98.5 M336.5,99.3L332.2,98.5 M340.5,99.3L338.8,98.5 M348.5,99.3L342.2,98.5 M352.5,99.3L348.8,98.5 M288.5,99.3L292.5,99.3 M300.5,99.3L304.5,99.3 M312.5,99.3L316.5,99.3 M324.5,99.3L328.5,99.3 M336.5,99.3L340.5,99.3 M348.5,99.3L352.5,99.3" stroke="#6b7073" stroke-width="0.5" fill="none"/>
<g fill="url(#atom)"><circle cx="288.5" cy="99.3" r="1.78"/><circle cx="292.5" cy="99.3" r="1.78"/><circle cx="300.5" cy="99.3" r="1.78"/><circle cx="304.5" cy="99.3" r="1.78"/><circle cx="312.5" cy="99.3" r="1.78"/><circle cx="316.5" cy="99.3" r="1.78"/><circle cx="324.5" cy="99.3" r="1.78"/><circle cx="328.5" cy="99.3" r="1.78"/><circle cx="336.5" cy="99.3" r="1.78"/><circle cx="340.5" cy="99.3" r="1.78"/><circle cx="348.5" cy="99.3" r="1.78"/><circle cx="352.5" cy="99.3" r="1.78"/></g>
<path d="M278.9,100.4L288.5,99.3 M288.7,100.4L292.5,99.3 M293.6,100.4L300.5,99.3 M303.4,100.4L304.5,99.3 M308.3,100.4L312.5,99.3 M318.1,100.4L316.5,99.3 M322.9,100.4L324.5,99.3 M332.7,100.4L328.5,99.3 M337.6,100.4L336.5,99.3 M347.4,100.4L340.5,99.3 M352.3,100.4L348.5,99.3 M362.1,100.4L352.5,99.3 M274.1,100.4L278.9,100.4 M288.7,100.4L293.6,100.4 M303.4,100.4L308.3,100.4 M318.1,100.4L322.9,100.4 M332.7,100.4L337.6,100.4 M347.4,100.4L352.3,100.4 M362.1,100.4L366.9,100.4" stroke="#6b7073" stroke-width="0.5" fill="none"/>
<g fill="url(#atom)"><circle cx="274.1" cy="100.4" r="2.00"/><circle cx="278.9" cy="100.4" r="2.00"/><circle cx="288.7" cy="100.4" r="2.00"/><circle cx="293.6" cy="100.4" r="2.00"/><circle cx="303.4" cy="100.4" r="2.00"/><circle cx="308.3" cy="100.4" r="2.00"/><circle cx="318.1" cy="100.4" r="2.00"/><circle cx="322.9" cy="100.4" r="2.00"/><circle cx="332.7" cy="100.4" r="2.00"/><circle cx="337.6" cy="100.4" r="2.00"/><circle cx="347.4" cy="100.4" r="2.00"/><circle cx="352.3" cy="100.4" r="2.00"/><circle cx="362.1" cy="100.4" r="2.00"/><circle cx="366.9" cy="100.4" r="2.00"/></g>
<path d="M302.1,103.4L304.9,103.4 M310.6,103.4L313.4,103.4 M319.1,103.4L321.9,103.4 M327.6,103.4L330.4,103.4 M336.1,103.4L338.9,103.4" stroke="#6b7073" stroke-width="0.5" fill="none"/>
<g fill="url(#atom)"><circle cx="302.1" cy="103.4" r="1.30"/><circle cx="304.9" cy="103.4" r="1.30"/><circle cx="310.6" cy="103.4" r="1.30"/><circle cx="313.4" cy="103.4" r="1.30"/><circle cx="319.1" cy="103.4" r="1.30"/><circle cx="321.9" cy="103.4" r="1.30"/><circle cx="327.6" cy="103.4" r="1.30"/><circle cx="330.4" cy="103.4" r="1.30"/><circle cx="336.1" cy="103.4" r="1.30"/><circle cx="338.9" cy="103.4" r="1.30"/></g>
<path d="M298.7,103.2L302.1,103.4 M305.0,103.2L304.9,103.4 M308.1,103.2L310.6,103.4 M314.3,103.2L313.4,103.4 M317.4,103.2L319.1,103.4 M323.6,103.2L321.9,103.4 M326.7,103.2L327.6,103.4 M332.9,103.2L330.4,103.4 M336.0,103.2L336.1,103.4 M342.3,103.2L338.9,103.4 M295.6,103.2L298.7,103.2 M305.0,103.2L308.1,103.2 M314.3,103.2L317.4,103.2 M323.6,103.2L326.7,103.2 M332.9,103.2L336.0,103.2 M342.3,103.2L345.4,103.2" stroke="#6b7073" stroke-width="0.5" fill="none"/>
<g fill="url(#atom)"><circle cx="295.6" cy="103.2" r="1.38"/><circle cx="298.7" cy="103.2" r="1.38"/><circle cx="305.0" cy="103.2" r="1.38"/><circle cx="308.1" cy="103.2" r="1.38"/><circle cx="314.3" cy="103.2" r="1.38"/><circle cx="317.4" cy="103.2" r="1.38"/><circle cx="323.6" cy="103.2" r="1.38"/><circle cx="326.7" cy="103.2" r="1.38"/><circle cx="332.9" cy="103.2" r="1.38"/><circle cx="336.0" cy="103.2" r="1.38"/><circle cx="342.3" cy="103.2" r="1.38"/><circle cx="345.4" cy="103.2" r="1.38"/></g>
<path d="M298.2,102.9L298.7,103.2 M301.6,102.9L305.0,103.2 M308.5,102.9L308.1,103.2 M311.9,102.9L314.3,103.2 M318.8,102.9L317.4,103.2 M322.2,102.9L323.6,103.2 M329.1,102.9L326.7,103.2 M332.5,102.9L332.9,103.2 M339.4,102.9L336.0,103.2 M342.8,102.9L342.3,103.2 M298.2,102.9L301.6,102.9 M308.5,102.9L311.9,102.9 M318.8,102.9L322.2,102.9 M329.1,102.9L332.5,102.9 M339.4,102.9L342.8,102.9" stroke="#6b7073" stroke-width="0.5" fill="none"/>
<g fill="url(#atom)"><circle cx="298.2" cy="102.9" r="1.47"/><circle cx="301.6" cy="102.9" r="1.47"/><circle cx="308.5" cy="102.9" r="1.47"/><circle cx="311.9" cy="102.9" r="1.47"/><circle cx="318.8" cy="102.9" r="1.47"/><circle cx="322.2" cy="102.9" r="1.47"/><circle cx="329.1" cy="102.9" r="1.47"/><circle cx="332.5" cy="102.9" r="1.47"/><circle cx="339.4" cy="102.9" r="1.47"/><circle cx="342.8" cy="102.9" r="1.47"/></g>
<path d="M293.7,102.6L298.2,102.9 M301.4,102.6L301.6,102.9 M305.2,102.6L308.5,102.9 M312.9,102.6L311.9,102.9 M316.7,102.6L318.8,102.9 M324.3,102.6L322.2,102.9 M328.1,102.6L329.1,102.9 M335.8,102.6L332.5,102.9 M339.6,102.6L339.4,102.9 M347.3,102.6L342.8,102.9 M289.9,102.6L293.7,102.6 M301.4,102.6L305.2,102.6 M312.9,102.6L316.7,102.6 M324.3,102.6L328.1,102.6 M335.8,102.6L339.6,102.6 M347.3,102.6L351.1,102.6" stroke="#6b7073" stroke-width="0.5" fill="none"/>
<g fill="url(#atom)"><circle cx="289.9" cy="102.6" r="1.58"/><circle cx="293.7" cy="102.6" r="1.58"/><circle cx="301.4" cy="102.6" r="1.58"/><circle cx="305.2" cy="102.6" r="1.58"/><circle cx="312.9" cy="102.6" r="1.58"/><circle cx="316.7" cy="102.6" r="1.58"/><circle cx="324.3" cy="102.6" r="1.58"/><circle cx="328.1" cy="102.6" r="1.58"/><circle cx="335.8" cy="102.6" r="1.58"/><circle cx="339.6" cy="102.6" r="1.58"/><circle cx="347.3" cy="102.6" r="1.58"/><circle cx="351.1" cy="102.6" r="1.58"/></g>
<path d="M292.5,102.3L293.7,102.6 M296.8,102.3L301.4,102.6 M305.4,102.3L305.2,102.6 M309.7,102.3L312.9,102.6 M318.3,102.3L316.7,102.6 M322.7,102.3L324.3,102.6 M331.3,102.3L328.1,102.6 M335.6,102.3L335.8,102.6 M344.2,102.3L339.6,102.6 M348.5,102.3L347.3,102.6 M292.5,102.3L296.8,102.3 M305.4,102.3L309.7,102.3 M318.3,102.3L322.7,102.3 M331.3,102.3L335.6,102.3 M344.2,102.3L348.5,102.3" stroke="#6b7073" stroke-width="0.5" fill="none"/>
<g fill="url(#atom)"><circle cx="292.5" cy="102.3" r="1.71"/><circle cx="296.8" cy="102.3" r="1.71"/><circle cx="305.4" cy="102.3" r="1.71"/><circle cx="309.7" cy="102.3" r="1.71"/><circle cx="318.3" cy="102.3" r="1.71"/><circle cx="322.7" cy="102.3" r="1.71"/><circle cx="331.3" cy="102.3" r="1.71"/><circle cx="335.6" cy="102.3" r="1.71"/><circle cx="344.2" cy="102.3" r="1.71"/><circle cx="348.5" cy="102.3" r="1.71"/></g>
<path d="M286.1,101.8L292.5,102.3 M296.0,101.8L296.8,102.3 M300.9,101.8L305.4,102.3 M310.7,101.8L309.7,102.3 M315.6,101.8L318.3,102.3 M325.4,101.8L322.7,102.3 M330.3,101.8L331.3,102.3 M340.1,101.8L335.6,102.3 M345.0,101.8L344.2,102.3 M354.9,101.8L348.5,102.3 M281.2,101.8L286.1,101.8 M296.0,101.8L300.9,101.8 M310.7,101.8L315.6,101.8 M325.4,101.8L330.3,101.8 M340.1,101.8L345.0,101.8 M354.9,101.8L359.8,101.8" stroke="#6b7073" stroke-width="0.5" fill="none"/>
<g fill="url(#atom)"><circle cx="281.2" cy="101.8" r="1.88"/><circle cx="286.1" cy="101.8" r="1.88"/><circle cx="296.0" cy="101.8" r="1.88"/><circle cx="300.9" cy="101.8" r="1.88"/><circle cx="310.7" cy="101.8" r="1.88"/><circle cx="315.6" cy="101.8" r="1.88"/><circle cx="325.4" cy="101.8" r="1.88"/><circle cx="330.3" cy="101.8" r="1.88"/><circle cx="340.1" cy="101.8" r="1.88"/><circle cx="345.0" cy="101.8" r="1.88"/><circle cx="354.9" cy="101.8" r="1.88"/><circle cx="359.8" cy="101.8" r="1.88"/></g>
<path d="M283.5,101.2L286.1,101.8 M289.2,101.2L296.0,101.8 M300.6,101.2L300.9,101.8 M306.3,101.2L310.7,101.8 M317.7,101.2L315.6,101.8 M323.3,101.2L325.4,101.8 M334.7,101.2L330.3,101.8 M340.4,101.2L340.1,101.8 M351.8,101.2L345.0,101.8 M357.5,101.2L354.9,101.8 M283.5,101.2L289.2,101.2 M300.6,101.2L306.3,101.2 M317.7,101.2L323.3,101.2 M334.7,101.2L340.4,101.2 M351.8,101.2L357.5,101.2" stroke="#6b7073" stroke-width="0.5" fill="none"/>
<g fill="url(#atom)"><circle cx="283.5" cy="101.2" r="2.10"/><circle cx="289.2" cy="101.2" r="2.10"/><circle cx="300.6" cy="101.2" r="2.10"/><circle cx="306.3" cy="101.2" r="2.10"/><circle cx="317.7" cy="101.2" r="2.10"/><circle cx="323.3" cy="101.2" r="2.10"/><circle cx="334.7" cy="101.2" r="2.10"/><circle cx="340.4" cy="101.2" r="2.10"/><circle cx="351.8" cy="101.2" r="2.10"/><circle cx="357.5" cy="101.2" r="2.10"/></g>
<path d="M273.2,100.4L283.5,101.2 M286.8,100.4L289.2,101.2 M293.5,100.4L300.6,101.2 M307.0,100.4L306.3,101.2 M313.8,100.4L317.7,101.2 M327.2,100.4L323.3,101.2 M334.0,100.4L334.7,101.2 M347.5,100.4L340.4,101.2 M354.2,100.4L351.8,101.2 M367.8,100.4L357.5,101.2 M266.5,100.4L273.2,100.4 M286.8,100.4L293.5,100.4 M307.0,100.4L313.8,100.4 M327.2,100.4L334.0,100.4 M347.5,100.4L354.2,100.4 M367.8,100.4L374.5,100.4" stroke="#6b7073" stroke-width="0.5" fill="none"/>
<g fill="url(#atom)"><circle cx="266.5" cy="100.4" r="2.40"/><circle cx="273.2" cy="100.4" r="2.40"/><circle cx="286.8" cy="100.4" r="2.40"/><circle cx="293.5" cy="100.4" r="2.40"/><circle cx="307.0" cy="100.4" r="2.40"/><circle cx="313.8" cy="100.4" r="2.40"/><circle cx="327.2" cy="100.4" r="2.40"/><circle cx="334.0" cy="100.4" r="2.40"/><circle cx="347.5" cy="100.4" r="2.40"/><circle cx="354.2" cy="100.4" r="2.40"/><circle cx="367.8" cy="100.4" r="2.40"/><circle cx="374.5" cy="100.4" r="2.40"/></g>
<path d="M304.1,73.7L306.2,73.7 M310.3,73.7L312.3,73.7 M316.4,73.7L318.5,73.7 M322.5,73.7L324.6,73.7 M328.7,73.7L330.7,73.7 M334.8,73.7L336.9,73.7" stroke="#6b7073" stroke-width="0.5" fill="none"/>
<g fill="url(#atom)"><circle cx="304.1" cy="73.7" r="1.30"/><circle cx="306.2" cy="73.7" r="1.30"/><circle cx="310.3" cy="73.7" r="1.30"/><circle cx="312.3" cy="73.7" r="1.30"/><circle cx="316.4" cy="73.7" r="1.30"/><circle cx="318.5" cy="73.7" r="1.30"/><circle cx="322.5" cy="73.7" r="1.30"/><circle cx="324.6" cy="73.7" r="1.30"/><circle cx="328.7" cy="73.7" r="1.30"/><circle cx="330.7" cy="73.7" r="1.30"/><circle cx="334.8" cy="73.7" r="1.30"/><circle cx="336.9" cy="73.7" r="1.30"/></g>
<path d="M300.2,74.1L304.1,73.7 M305.0,74.1L306.2,73.7 M307.4,74.1L310.3,73.7 M312.1,74.1L312.3,73.7 M314.5,74.1L316.4,73.7 M319.3,74.1L318.5,73.7 M321.7,74.1L322.5,73.7 M326.5,74.1L324.6,73.7 M328.9,74.1L328.7,73.7 M333.6,74.1L330.7,73.7 M336.0,74.1L334.8,73.7 M340.8,74.1L336.9,73.7 M297.8,74.1L300.2,74.1 M305.0,74.1L307.4,74.1 M312.1,74.1L314.5,74.1 M319.3,74.1L321.7,74.1 M326.5,74.1L328.9,74.1 M333.6,74.1L336.0,74.1 M340.8,74.1L343.2,74.1" stroke="#6b7073" stroke-width="0.5" fill="none"/>
<g fill="url(#atom)"><circle cx="297.8" cy="74.1" r="1.38"/><circle cx="300.2" cy="74.1" r="1.38"/><circle cx="305.0" cy="74.1" r="1.38"/><circle cx="307.4" cy="74.1" r="1.38"/><circle cx="312.1" cy="74.1" r="1.38"/><circle cx="314.5" cy="74.1" r="1.38"/><circle cx="319.3" cy="74.1" r="1.38"/><circle cx="321.7" cy="74.1" r="1.38"/><circle cx="326.5" cy="74.1" r="1.38"/><circle cx="328.9" cy="74.1" r="1.38"/><circle cx="333.6" cy="74.1" r="1.38"/><circle cx="336.0" cy="74.1" r="1.38"/><circle cx="340.8" cy="74.1" r="1.38"/><circle cx="343.2" cy="74.1" r="1.38"/></g>
<path d="M298.0,74.5L300.2,74.1 M300.8,74.5L305.0,74.1 M306.5,74.5L307.4,74.1 M309.3,74.5L312.1,74.1 M314.9,74.5L314.5,74.1 M317.7,74.5L319.3,74.1 M323.3,74.5L321.7,74.1 M326.1,74.5L326.5,74.1 M331.7,74.5L328.9,74.1 M334.5,74.5L333.6,74.1 M340.2,74.5L336.0,74.1 M343.0,74.5L340.8,74.1 M298.0,74.5L300.8,74.5 M306.5,74.5L309.3,74.5 M314.9,74.5L317.7,74.5 M323.3,74.5L326.1,74.5 M331.7,74.5L334.5,74.5 M340.2,74.5L343.0,74.5" stroke="#6b7073" stroke-width="0.5" fill="none"/>
<g fill="url(#atom)"><circle cx="298.0" cy="74.5" r="1.49"/><circle cx="300.8" cy="74.5" r="1.49"/><circle cx="306.5" cy="74.5" r="1.49"/><circle cx="309.3" cy="74.5" r="1.49"/><circle cx="314.9" cy="74.5" r="1.49"/><circle cx="317.7" cy="74.5" r="1.49"/><circle cx="323.3" cy="74.5" r="1.49"/><circle cx="326.1" cy="74.5" r="1.49"/><circle cx="331.7" cy="74.5" r="1.49"/><circle cx="334.5" cy="74.5" r="1.49"/><circle cx="340.2" cy="74.5" r="1.49"/><circle cx="343.0" cy="74.5" r="1.49"/></g>
<path d="M292.2,75.1L298.0,74.5 M298.8,75.1L300.8,74.5 M302.2,75.1L306.5,74.5 M308.8,75.1L309.3,74.5 M312.2,75.1L314.9,74.5 M318.8,75.1L317.7,74.5 M322.2,75.1L323.3,74.5 M328.8,75.1L326.1,74.5 M332.2,75.1L331.7,74.5 M338.8,75.1L334.5,74.5 M342.2,75.1L340.2,74.5 M348.8,75.1L343.0,74.5 M288.9,75.1L292.2,75.1 M298.8,75.1L302.2,75.1 M308.8,75.1L312.2,75.1 M318.8,75.1L322.2,75.1 M328.8,75.1L332.2,75.1 M338.8,75.1L342.2,75.1 M348.8,75.1L352.1,75.1" stroke="#6b7073" stroke-width="0.5" fill="none"/>
<g fill="url(#atom)"><circle cx="288.9" cy="75.1" r="1.62"/><circle cx="292.2" cy="75.1" r="1.62"/><circle cx="298.8" cy="75.1" r="1.62"/><circle cx="302.2" cy="75.1" r="1.62"/><circle cx="308.8" cy="75.1" r="1.62"/><circle cx="312.2" cy="75.1" r="1.62"/><circle cx="318.8" cy="75.1" r="1.62"/><circle cx="322.2" cy="75.1" r="1.62"/><circle cx="328.8" cy="75.1" r="1.62"/><circle cx="332.2" cy="75.1" r="1.62"/><circle cx="338.8" cy="75.1" r="1.62"/><circle cx="342.2" cy="75.1" r="1.62"/><circle cx="348.8" cy="75.1" r="1.62"/><circle cx="352.1" cy="75.1" r="1.62"/></g>
<path d="M288.5,75.8L292.2,75.1 M292.5,75.8L298.8,75.1 M300.5,75.8L302.2,75.1 M304.5,75.8L308.8,75.1 M312.5,75.8L312.2,75.1 M316.5,75.8L318.8,75.1 M324.5,75.8L322.2,75.1 M328.5,75.8L328.8,75.1 M336.5,75.8L332.2,75.1 M340.5,75.8L338.8,75.1 M348.5,75.8L342.2,75.1 M352.5,75.8L348.8,75.1 M288.5,75.8L292.5,75.8 M300.5,75.8L304.5,75.8 M312.5,75.8L316.5,75.8 M324.5,75.8L328.5,75.8 M336.5,75.8L340.5,75.8 M348.5,75.8L352.5,75.8" stroke="#6b7073" stroke-width="0.5" fill="none"/>
<g fill="url(#atom)"><circle cx="288.5" cy="75.8" r="1.78"/><circle cx="292.5" cy="75.8" r="1.78"/><circle cx="300.5" cy="75.8" r="1.78"/><circle cx="304.5" cy="75.8" r="1.78"/><circle cx="312.5" cy="75.8" r="1.78"/><circle cx="316.5" cy="75.8" r="1.78"/><circle cx="324.5" cy="75.8" r="1.78"/><circle cx="328.5" cy="75.8" r="1.78"/><circle cx="336.5" cy="75.8" r="1.78"/><circle cx="340.5" cy="75.8" r="1.78"/><circle cx="348.5" cy="75.8" r="1.78"/><circle cx="352.5" cy="75.8" r="1.78"/></g>
<path d="M278.9,76.7L288.5,75.8 M288.7,76.7L292.5,75.8 M293.6,76.7L300.5,75.8 M303.4,76.7L304.5,75.8 M308.3,76.7L312.5,75.8 M318.1,76.7L316.5,75.8 M322.9,76.7L324.5,75.8 M332.7,76.7L328.5,75.8 M337.6,76.7L336.5,75.8 M347.4,76.7L340.5,75.8 M352.3,76.7L348.5,75.8 M362.1,76.7L352.5,75.8 M274.1,76.7L278.9,76.7 M288.7,76.7L293.6,76.7 M303.4,76.7L308.3,76.7 M318.1,76.7L322.9,76.7 M332.7,76.7L337.6,76.7 M347.4,76.7L352.3,76.7 M362.1,76.7L366.9,76.7" stroke="#6b7073" stroke-width="0.5" fill="none"/>
<g fill="url(#atom)"><circle cx="274.1" cy="76.7" r="2.00"/><circle cx="278.9" cy="76.7" r="2.00"/><circle cx="288.7" cy="76.7" r="2.00"/><circle cx="293.6" cy="76.7" r="2.00"/><circle cx="303.4" cy="76.7" r="2.00"/><circle cx="308.3" cy="76.7" r="2.00"/><circle cx="318.1" cy="76.7" r="2.00"/><circle cx="322.9" cy="76.7" r="2.00"/><circle cx="332.7" cy="76.7" r="2.00"/><circle cx="337.6" cy="76.7" r="2.00"/><circle cx="347.4" cy="76.7" r="2.00"/><circle cx="352.3" cy="76.7" r="2.00"/><circle cx="362.1" cy="76.7" r="2.00"/><circle cx="366.9" cy="76.7" r="2.00"/></g>
<path d="M302.1,80.3L304.9,80.3 M310.6,80.3L313.4,80.3 M319.1,80.3L321.9,80.3 M327.6,80.3L330.4,80.3 M336.1,80.3L338.9,80.3" stroke="#6b7073" stroke-width="0.5" fill="none"/>
<g fill="url(#atom)"><circle cx="302.1" cy="80.3" r="1.30"/><circle cx="304.9" cy="80.3" r="1.30"/><circle cx="310.6" cy="80.3" r="1.30"/><circle cx="313.4" cy="80.3" r="1.30"/><circle cx="319.1" cy="80.3" r="1.30"/><circle cx="321.9" cy="80.3" r="1.30"/><circle cx="327.6" cy="80.3" r="1.30"/><circle cx="330.4" cy="80.3" r="1.30"/><circle cx="336.1" cy="80.3" r="1.30"/><circle cx="338.9" cy="80.3" r="1.30"/></g>
<path d="M298.7,80.0L302.1,80.3 M305.0,80.0L304.9,80.3 M308.1,80.0L310.6,80.3 M314.3,80.0L313.4,80.3 M317.4,80.0L319.1,80.3 M323.6,80.0L321.9,80.3 M326.7,80.0L327.6,80.3 M332.9,80.0L330.4,80.3 M336.0,80.0L336.1,80.3 M342.3,80.0L338.9,80.3 M295.6,80.0L298.7,80.0 M305.0,80.0L308.1,80.0 M314.3,80.0L317.4,80.0 M323.6,80.0L326.7,80.0 M332.9,80.0L336.0,80.0 M342.3,80.0L345.4,80.0" stroke="#6b7073" stroke-width="0.5" fill="none"/>
<g fill="url(#atom)"><circle cx="295.6" cy="80.0" r="1.38"/><circle cx="298.7" cy="80.0" r="1.38"/><circle cx="305.0" cy="80.0" r="1.38"/><circle cx="308.1" cy="80.0" r="1.38"/><circle cx="314.3" cy="80.0" r="1.38"/><circle cx="317.4" cy="80.0" r="1.38"/><circle cx="323.6" cy="80.0" r="1.38"/><circle cx="326.7" cy="80.0" r="1.38"/><circle cx="332.9" cy="80.0" r="1.38"/><circle cx="336.0" cy="80.0" r="1.38"/><circle cx="342.3" cy="80.0" r="1.38"/><circle cx="345.4" cy="80.0" r="1.38"/></g>
<path d="M298.2,79.8L298.7,80.0 M301.6,79.8L305.0,80.0 M308.5,79.8L308.1,80.0 M311.9,79.8L314.3,80.0 M318.8,79.8L317.4,80.0 M322.2,79.8L323.6,80.0 M329.1,79.8L326.7,80.0 M332.5,79.8L332.9,80.0 M339.4,79.8L336.0,80.0 M342.8,79.8L342.3,80.0 M298.2,79.8L301.6,79.8 M308.5,79.8L311.9,79.8 M318.8,79.8L322.2,79.8 M329.1,79.8L332.5,79.8 M339.4,79.8L342.8,79.8" stroke="#6b7073" stroke-width="0.5" fill="none"/>
<g fill="url(#atom)"><circle cx="298.2" cy="79.8" r="1.47"/><circle cx="301.6" cy="79.8" r="1.47"/><circle cx="308.5" cy="79.8" r="1.47"/><circle cx="311.9" cy="79.8" r="1.47"/><circle cx="318.8" cy="79.8" r="1.47"/><circle cx="322.2" cy="79.8" r="1.47"/><circle cx="329.1" cy="79.8" r="1.47"/><circle cx="332.5" cy="79.8" r="1.47"/><circle cx="339.4" cy="79.8" r="1.47"/><circle cx="342.8" cy="79.8" r="1.47"/></g>
<path d="M293.7,79.4L298.2,79.8 M301.4,79.4L301.6,79.8 M305.2,79.4L308.5,79.8 M312.9,79.4L311.9,79.8 M316.7,79.4L318.8,79.8 M324.3,79.4L322.2,79.8 M328.1,79.4L329.1,79.8 M335.8,79.4L332.5,79.8 M339.6,79.4L339.4,79.8 M347.3,79.4L342.8,79.8 M289.9,79.4L293.7,79.4 M301.4,79.4L305.2,79.4 M312.9,79.4L316.7,79.4 M324.3,79.4L328.1,79.4 M335.8,79.4L339.6,79.4 M347.3,79.4L351.1,79.4" stroke="#6b7073" stroke-width="0.5" fill="none"/>
<g fill="url(#atom)"><circle cx="289.9" cy="79.4" r="1.58"/><circle cx="293.7" cy="79.4" r="1.58"/><circle cx="301.4" cy="79.4" r="1.58"/><circle cx="305.2" cy="79.4" r="1.58"/><circle cx="312.9" cy="79.4" r="1.58"/><circle cx="316.7" cy="79.4" r="1.58"/><circle cx="324.3" cy="79.4" r="1.58"/><circle cx="328.1" cy="79.4" r="1.58"/><circle cx="335.8" cy="79.4" r="1.58"/><circle cx="339.6" cy="79.4" r="1.58"/><circle cx="347.3" cy="79.4" r="1.58"/><circle cx="351.1" cy="79.4" r="1.58"/></g>
<path d="M292.5,79.0L293.7,79.4 M296.8,79.0L301.4,79.4 M305.4,79.0L305.2,79.4 M309.7,79.0L312.9,79.4 M318.3,79.0L316.7,79.4 M322.7,79.0L324.3,79.4 M331.3,79.0L328.1,79.4 M335.6,79.0L335.8,79.4 M344.2,79.0L339.6,79.4 M348.5,79.0L347.3,79.4 M292.5,79.0L296.8,79.0 M305.4,79.0L309.7,79.0 M318.3,79.0L322.7,79.0 M331.3,79.0L335.6,79.0 M344.2,79.0L348.5,79.0" stroke="#6b7073" stroke-width="0.5" fill="none"/>
<g fill="url(#atom)"><circle cx="292.5" cy="79.0" r="1.71"/><circle cx="296.8" cy="79.0" r="1.71"/><circle cx="305.4" cy="79.0" r="1.71"/><circle cx="309.7" cy="79.0" r="1.71"/><circle cx="318.3" cy="79.0" r="1.71"/><circle cx="322.7" cy="79.0" r="1.71"/><circle cx="331.3" cy="79.0" r="1.71"/><circle cx="335.6" cy="79.0" r="1.71"/><circle cx="344.2" cy="79.0" r="1.71"/><circle cx="348.5" cy="79.0" r="1.71"/></g>
<path d="M286.1,78.4L292.5,79.0 M296.0,78.4L296.8,79.0 M300.9,78.4L305.4,79.0 M310.7,78.4L309.7,79.0 M315.6,78.4L318.3,79.0 M325.4,78.4L322.7,79.0 M330.3,78.4L331.3,79.0 M340.1,78.4L335.6,79.0 M345.0,78.4L344.2,79.0 M354.9,78.4L348.5,79.0 M281.2,78.4L286.1,78.4 M296.0,78.4L300.9,78.4 M310.7,78.4L315.6,78.4 M325.4,78.4L330.3,78.4 M340.1,78.4L345.0,78.4 M354.9,78.4L359.8,78.4" stroke="#6b7073" stroke-width="0.5" fill="none"/>
<g fill="url(#atom)"><circle cx="281.2" cy="78.4" r="1.88"/><circle cx="286.1" cy="78.4" r="1.88"/><circle cx="296.0" cy="78.4" r="1.88"/><circle cx="300.9" cy="78.4" r="1.88"/><circle cx="310.7" cy="78.4" r="1.88"/><circle cx="315.6" cy="78.4" r="1.88"/><circle cx="325.4" cy="78.4" r="1.88"/><circle cx="330.3" cy="78.4" r="1.88"/><circle cx="340.1" cy="78.4" r="1.88"/><circle cx="345.0" cy="78.4" r="1.88"/><circle cx="354.9" cy="78.4" r="1.88"/><circle cx="359.8" cy="78.4" r="1.88"/></g>
<path d="M283.5,77.7L286.1,78.4 M289.2,77.7L296.0,78.4 M300.6,77.7L300.9,78.4 M306.3,77.7L310.7,78.4 M317.7,77.7L315.6,78.4 M323.3,77.7L325.4,78.4 M334.7,77.7L330.3,78.4 M340.4,77.7L340.1,78.4 M351.8,77.7L345.0,78.4 M357.5,77.7L354.9,78.4 M283.5,77.7L289.2,77.7 M300.6,77.7L306.3,77.7 M317.7,77.7L323.3,77.7 M334.7,77.7L340.4,77.7 M351.8,77.7L357.5,77.7" stroke="#6b7073" stroke-width="0.5" fill="none"/>
<g fill="url(#atom)"><circle cx="283.5" cy="77.7" r="2.10"/><circle cx="289.2" cy="77.7" r="2.10"/><circle cx="300.6" cy="77.7" r="2.10"/><circle cx="306.3" cy="77.7" r="2.10"/><circle cx="317.7" cy="77.7" r="2.10"/><circle cx="323.3" cy="77.7" r="2.10"/><circle cx="334.7" cy="77.7" r="2.10"/><circle cx="340.4" cy="77.7" r="2.10"/><circle cx="351.8" cy="77.7" r="2.10"/><circle cx="357.5" cy="77.7" r="2.10"/></g>
<path d="M273.2,76.7L283.5,77.7 M286.8,76.7L289.2,77.7 M293.5,76.7L300.6,77.7 M307.0,76.7L306.3,77.7 M313.8,76.7L317.7,77.7 M327.2,76.7L323.3,77.7 M334.0,76.7L334.7,77.7 M347.5,76.7L340.4,77.7 M354.2,76.7L351.8,77.7 M367.8,76.7L357.5,77.7 M266.5,76.7L273.2,76.7 M286.8,76.7L293.5,76.7 M307.0,76.7L313.8,76.7 M327.2,76.7L334.0,76.7 M347.5,76.7L354.2,76.7 M367.8,76.7L374.5,76.7" stroke="#6b7073" stroke-width="0.5" fill="none"/>
<g fill="url(#atom)"><circle cx="266.5" cy="76.7" r="2.40"/><circle cx="273.2" cy="76.7" r="2.40"/><circle cx="286.8" cy="76.7" r="2.40"/><circle cx="293.5" cy="76.7" r="2.40"/><circle cx="307.0" cy="76.7" r="2.40"/><circle cx="313.8" cy="76.7" r="2.40"/><circle cx="327.2" cy="76.7" r="2.40"/><circle cx="334.0" cy="76.7" r="2.40"/><circle cx="347.5" cy="76.7" r="2.40"/><circle cx="354.2" cy="76.7" r="2.40"/><circle cx="367.8" cy="76.7" r="2.40"/><circle cx="374.5" cy="76.7" r="2.40"/></g>
<path d="M304.1,49.7L306.2,49.7 M310.3,49.7L312.3,49.7 M316.4,49.7L318.5,49.7 M322.5,49.7L324.6,49.7 M328.7,49.7L330.7,49.7 M334.8,49.7L336.9,49.7" stroke="#6b7073" stroke-width="0.5" fill="none"/>
<g fill="url(#atom)"><circle cx="304.1" cy="49.7" r="1.30"/><circle cx="306.2" cy="49.7" r="1.30"/><circle cx="310.3" cy="49.7" r="1.30"/><circle cx="312.3" cy="49.7" r="1.30"/><circle cx="316.4" cy="49.7" r="1.30"/><circle cx="318.5" cy="49.7" r="1.30"/><circle cx="322.5" cy="49.7" r="1.30"/><circle cx="324.6" cy="49.7" r="1.30"/><circle cx="328.7" cy="49.7" r="1.30"/><circle cx="330.7" cy="49.7" r="1.30"/><circle cx="334.8" cy="49.7" r="1.30"/><circle cx="336.9" cy="49.7" r="1.30"/></g>
<path d="M300.2,50.1L304.1,49.7 M305.0,50.1L306.2,49.7 M307.4,50.1L310.3,49.7 M312.1,50.1L312.3,49.7 M314.5,50.1L316.4,49.7 M319.3,50.1L318.5,49.7 M321.7,50.1L322.5,49.7 M326.5,50.1L324.6,49.7 M328.9,50.1L328.7,49.7 M333.6,50.1L330.7,49.7 M336.0,50.1L334.8,49.7 M340.8,50.1L336.9,49.7 M297.8,50.1L300.2,50.1 M305.0,50.1L307.4,50.1 M312.1,50.1L314.5,50.1 M319.3,50.1L321.7,50.1 M326.5,50.1L328.9,50.1 M333.6,50.1L336.0,50.1 M340.8,50.1L343.2,50.1" stroke="#6b7073" stroke-width="0.5" fill="none"/>
<g fill="url(#atom)"><circle cx="297.8" cy="50.1" r="1.38"/><circle cx="300.2" cy="50.1" r="1.38"/><circle cx="305.0" cy="50.1" r="1.38"/><circle cx="307.4" cy="50.1" r="1.38"/><circle cx="312.1" cy="50.1" r="1.38"/><circle cx="314.5" cy="50.1" r="1.38"/><circle cx="319.3" cy="50.1" r="1.38"/><circle cx="321.7" cy="50.1" r="1.38"/><circle cx="326.5" cy="50.1" r="1.38"/><circle cx="328.9" cy="50.1" r="1.38"/><circle cx="333.6" cy="50.1" r="1.38"/><circle cx="336.0" cy="50.1" r="1.38"/><circle cx="340.8" cy="50.1" r="1.38"/><circle cx="343.2" cy="50.1" r="1.38"/></g>
<path d="M298.0,50.5L300.2,50.1 M300.8,50.5L305.0,50.1 M306.5,50.5L307.4,50.1 M309.3,50.5L312.1,50.1 M314.9,50.5L314.5,50.1 M317.7,50.5L319.3,50.1 M323.3,50.5L321.7,50.1 M326.1,50.5L326.5,50.1 M331.7,50.5L328.9,50.1 M334.5,50.5L333.6,50.1 M340.2,50.5L336.0,50.1 M343.0,50.5L340.8,50.1 M298.0,50.5L300.8,50.5 M306.5,50.5L309.3,50.5 M314.9,50.5L317.7,50.5 M323.3,50.5L326.1,50.5 M331.7,50.5L334.5,50.5 M340.2,50.5L343.0,50.5" stroke="#6b7073" stroke-width="0.5" fill="none"/>
<g fill="url(#atom)"><circle cx="298.0" cy="50.5" r="1.49"/><circle cx="300.8" cy="50.5" r="1.49"/><circle cx="306.5" cy="50.5" r="1.49"/><circle cx="309.3" cy="50.5" r="1.49"/><circle cx="314.9" cy="50.5" r="1.49"/><circle cx="317.7" cy="50.5" r="1.49"/><circle cx="323.3" cy="50.5" r="1.49"/><circle cx="326.1" cy="50.5" r="1.49"/><circle cx="331.7" cy="50.5" r="1.49"/><circle cx="334.5" cy="50.5" r="1.49"/><circle cx="340.2" cy="50.5" r="1.49"/><circle cx="343.0" cy="50.5" r="1.49"/></g>
<path d="M292.2,51.1L298.0,50.5 M298.8,51.1L300.8,50.5 M302.2,51.1L306.5,50.5 M308.8,51.1L309.3,50.5 M312.2,51.1L314.9,50.5 M318.8,51.1L317.7,50.5 M322.2,51.1L323.3,50.5 M328.8,51.1L326.1,50.5 M332.2,51.1L331.7,50.5 M338.8,51.1L334.5,50.5 M342.2,51.1L340.2,50.5 M348.8,51.1L343.0,50.5 M288.9,51.1L292.2,51.1 M298.8,51.1L302.2,51.1 M308.8,51.1L312.2,51.1 M318.8,51.1L322.2,51.1 M328.8,51.1L332.2,51.1 M338.8,51.1L342.2,51.1 M348.8,51.1L352.1,51.1" stroke="#6b7073" stroke-width="0.5" fill="none"/>
<g fill="url(#atom)"><circle cx="288.9" cy="51.1" r="1.62"/><circle cx="292.2" cy="51.1" r="1.62"/><circle cx="298.8" cy="51.1" r="1.62"/><circle cx="302.2" cy="51.1" r="1.62"/><circle cx="308.8" cy="51.1" r="1.62"/><circle cx="312.2" cy="51.1" r="1.62"/><circle cx="318.8" cy="51.1" r="1.62"/><circle cx="322.2" cy="51.1" r="1.62"/><circle cx="328.8" cy="51.1" r="1.62"/><circle cx="332.2" cy="51.1" r="1.62"/><circle cx="338.8" cy="51.1" r="1.62"/><circle cx="342.2" cy="51.1" r="1.62"/><circle cx="348.8" cy="51.1" r="1.62"/><circle cx="352.1" cy="51.1" r="1.62"/></g>
<path d="M288.5,51.8L292.2,51.1 M292.5,51.8L298.8,51.1 M300.5,51.8L302.2,51.1 M304.5,51.8L308.8,51.1 M312.5,51.8L312.2,51.1 M316.5,51.8L318.8,51.1 M324.5,51.8L322.2,51.1 M328.5,51.8L328.8,51.1 M336.5,51.8L332.2,51.1 M340.5,51.8L338.8,51.1 M348.5,51.8L342.2,51.1 M352.5,51.8L348.8,51.1 M288.5,51.8L292.5,51.8 M300.5,51.8L304.5,51.8 M312.5,51.8L316.5,51.8 M324.5,51.8L328.5,51.8 M336.5,51.8L340.5,51.8 M348.5,51.8L352.5,51.8" stroke="#6b7073" stroke-width="0.5" fill="none"/>
<g fill="url(#atom)"><circle cx="288.5" cy="51.8" r="1.78"/><circle cx="292.5" cy="51.8" r="1.78"/><circle cx="300.5" cy="51.8" r="1.78"/><circle cx="304.5" cy="51.8" r="1.78"/><circle cx="312.5" cy="51.8" r="1.78"/><circle cx="316.5" cy="51.8" r="1.78"/><circle cx="324.5" cy="51.8" r="1.78"/><circle cx="328.5" cy="51.8" r="1.78"/><circle cx="336.5" cy="51.8" r="1.78"/><circle cx="340.5" cy="51.8" r="1.78"/><circle cx="348.5" cy="51.8" r="1.78"/><circle cx="352.5" cy="51.8" r="1.78"/></g>
<path d="M278.9,52.7L288.5,51.8 M288.7,52.7L292.5,51.8 M293.6,52.7L300.5,51.8 M303.4,52.7L304.5,51.8 M308.3,52.7L312.5,51.8 M318.1,52.7L316.5,51.8 M322.9,52.7L324.5,51.8 M332.7,52.7L328.5,51.8 M337.6,52.7L336.5,51.8 M347.4,52.7L340.5,51.8 M352.3,52.7L348.5,51.8 M362.1,52.7L352.5,51.8 M274.1,52.7L278.9,52.7 M288.7,52.7L293.6,52.7 M303.4,52.7L308.3,52.7 M318.1,52.7L322.9,52.7 M332.7,52.7L337.6,52.7 M347.4,52.7L352.3,52.7 M362.1,52.7L366.9,52.7" stroke="#6b7073" stroke-width="0.5" fill="none"/>
<g fill="url(#atom)"><circle cx="274.1" cy="52.7" r="2.00"/><circle cx="278.9" cy="52.7" r="2.00"/><circle cx="288.7" cy="52.7" r="2.00"/><circle cx="293.6" cy="52.7" r="2.00"/><circle cx="303.4" cy="52.7" r="2.00"/><circle cx="308.3" cy="52.7" r="2.00"/><circle cx="318.1" cy="52.7" r="2.00"/><circle cx="322.9" cy="52.7" r="2.00"/><circle cx="332.7" cy="52.7" r="2.00"/><circle cx="337.6" cy="52.7" r="2.00"/><circle cx="347.4" cy="52.7" r="2.00"/><circle cx="352.3" cy="52.7" r="2.00"/><circle cx="362.1" cy="52.7" r="2.00"/><circle cx="366.9" cy="52.7" r="2.00"/></g>
<path d="M302.1,56.3L304.9,56.3 M310.6,56.3L313.4,56.3 M319.1,56.3L321.9,56.3 M327.6,56.3L330.4,56.3 M336.1,56.3L338.9,56.3" stroke="#6b7073" stroke-width="0.5" fill="none"/>
<g fill="url(#atom)"><circle cx="302.1" cy="56.3" r="1.30"/><circle cx="304.9" cy="56.3" r="1.30"/><circle cx="310.6" cy="56.3" r="1.30"/><circle cx="313.4" cy="56.3" r="1.30"/><circle cx="319.1" cy="56.3" r="1.30"/><circle cx="321.9" cy="56.3" r="1.30"/><circle cx="327.6" cy="56.3" r="1.30"/><circle cx="330.4" cy="56.3" r="1.30"/><circle cx="336.1" cy="56.3" r="1.30"/><circle cx="338.9" cy="56.3" r="1.30"/></g>
<path d="M298.7,56.0L302.1,56.3 M305.0,56.0L304.9,56.3 M308.1,56.0L310.6,56.3 M314.3,56.0L313.4,56.3 M317.4,56.0L319.1,56.3 M323.6,56.0L321.9,56.3 M326.7,56.0L327.6,56.3 M332.9,56.0L330.4,56.3 M336.0,56.0L336.1,56.3 M342.3,56.0L338.9,56.3 M295.6,56.0L298.7,56.0 M305.0,56.0L308.1,56.0 M314.3,56.0L317.4,56.0 M323.6,56.0L326.7,56.0 M332.9,56.0L336.0,56.0 M342.3,56.0L345.4,56.0" stroke="#6b7073" stroke-width="0.5" fill="none"/>
<g fill="url(#atom)"><circle cx="295.6" cy="56.0" r="1.38"/><circle cx="298.7" cy="56.0" r="1.38"/><circle cx="305.0" cy="56.0" r="1.38"/><circle cx="308.1" cy="56.0" r="1.38"/><circle cx="314.3" cy="56.0" r="1.38"/><circle cx="317.4" cy="56.0" r="1.38"/><circle cx="323.6" cy="56.0" r="1.38"/><circle cx="326.7" cy="56.0" r="1.38"/><circle cx="332.9" cy="56.0" r="1.38"/><circle cx="336.0" cy="56.0" r="1.38"/><circle cx="342.3" cy="56.0" r="1.38"/><circle cx="345.4" cy="56.0" r="1.38"/></g>
<path d="M298.2,55.8L298.7,56.0 M301.6,55.8L305.0,56.0 M308.5,55.8L308.1,56.0 M311.9,55.8L314.3,56.0 M318.8,55.8L317.4,56.0 M322.2,55.8L323.6,56.0 M329.1,55.8L326.7,56.0 M332.5,55.8L332.9,56.0 M339.4,55.8L336.0,56.0 M342.8,55.8L342.3,56.0 M298.2,55.8L301.6,55.8 M308.5,55.8L311.9,55.8 M318.8,55.8L322.2,55.8 M329.1,55.8L332.5,55.8 M339.4,55.8L342.8,55.8" stroke="#6b7073" stroke-width="0.5" fill="none"/>
<g fill="url(#atom)"><circle cx="298.2" cy="55.8" r="1.47"/><circle cx="301.6" cy="55.8" r="1.47"/><circle cx="308.5" cy="55.8" r="1.47"/><circle cx="311.9" cy="55.8" r="1.47"/><circle cx="318.8" cy="55.8" r="1.47"/><circle cx="322.2" cy="55.8" r="1.47"/><circle cx="329.1" cy="55.8" r="1.47"/><circle cx="332.5" cy="55.8" r="1.47"/><circle cx="339.4" cy="55.8" r="1.47"/><circle cx="342.8" cy="55.8" r="1.47"/></g>
<path d="M293.7,55.4L298.2,55.8 M301.4,55.4L301.6,55.8 M305.2,55.4L308.5,55.8 M312.9,55.4L311.9,55.8 M316.7,55.4L318.8,55.8 M324.3,55.4L322.2,55.8 M328.1,55.4L329.1,55.8 M335.8,55.4L332.5,55.8 M339.6,55.4L339.4,55.8 M347.3,55.4L342.8,55.8 M289.9,55.4L293.7,55.4 M301.4,55.4L305.2,55.4 M312.9,55.4L316.7,55.4 M324.3,55.4L328.1,55.4 M335.8,55.4L339.6,55.4 M347.3,55.4L351.1,55.4" stroke="#6b7073" stroke-width="0.5" fill="none"/>
<g fill="url(#atom)"><circle cx="289.9" cy="55.4" r="1.58"/><circle cx="293.7" cy="55.4" r="1.58"/><circle cx="301.4" cy="55.4" r="1.58"/><circle cx="305.2" cy="55.4" r="1.58"/><circle cx="312.9" cy="55.4" r="1.58"/><circle cx="316.7" cy="55.4" r="1.58"/><circle cx="324.3" cy="55.4" r="1.58"/><circle cx="328.1" cy="55.4" r="1.58"/><circle cx="335.8" cy="55.4" r="1.58"/><circle cx="339.6" cy="55.4" r="1.58"/><circle cx="347.3" cy="55.4" r="1.58"/><circle cx="351.1" cy="55.4" r="1.58"/></g>
<path d="M292.5,55.0L293.7,55.4 M296.8,55.0L301.4,55.4 M305.4,55.0L305.2,55.4 M309.7,55.0L312.9,55.4 M318.3,55.0L316.7,55.4 M322.7,55.0L324.3,55.4 M331.3,55.0L328.1,55.4 M335.6,55.0L335.8,55.4 M344.2,55.0L339.6,55.4 M348.5,55.0L347.3,55.4 M292.5,55.0L296.8,55.0 M305.4,55.0L309.7,55.0 M318.3,55.0L322.7,55.0 M331.3,55.0L335.6,55.0 M344.2,55.0L348.5,55.0" stroke="#6b7073" stroke-width="0.5" fill="none"/>
<g fill="url(#atom)"><circle cx="292.5" cy="55.0" r="1.71"/><circle cx="296.8" cy="55.0" r="1.71"/><circle cx="305.4" cy="55.0" r="1.71"/><circle cx="309.7" cy="55.0" r="1.71"/><circle cx="318.3" cy="55.0" r="1.71"/><circle cx="322.7" cy="55.0" r="1.71"/><circle cx="331.3" cy="55.0" r="1.71"/><circle cx="335.6" cy="55.0" r="1.71"/><circle cx="344.2" cy="55.0" r="1.71"/><circle cx="348.5" cy="55.0" r="1.71"/></g>
<path d="M286.1,54.4L292.5,55.0 M296.0,54.4L296.8,55.0 M300.9,54.4L305.4,55.0 M310.7,54.4L309.7,55.0 M315.6,54.4L318.3,55.0 M325.4,54.4L322.7,55.0 M330.3,54.4L331.3,55.0 M340.1,54.4L335.6,55.0 M345.0,54.4L344.2,55.0 M354.9,54.4L348.5,55.0 M281.2,54.4L286.1,54.4 M296.0,54.4L300.9,54.4 M310.7,54.4L315.6,54.4 M325.4,54.4L330.3,54.4 M340.1,54.4L345.0,54.4 M354.9,54.4L359.8,54.4" stroke="#6b7073" stroke-width="0.5" fill="none"/>
<g fill="url(#atom)"><circle cx="281.2" cy="54.4" r="1.88"/><circle cx="286.1" cy="54.4" r="1.88"/><circle cx="296.0" cy="54.4" r="1.88"/><circle cx="300.9" cy="54.4" r="1.88"/><circle cx="310.7" cy="54.4" r="1.88"/><circle cx="315.6" cy="54.4" r="1.88"/><circle cx="325.4" cy="54.4" r="1.88"/><circle cx="330.3" cy="54.4" r="1.88"/><circle cx="340.1" cy="54.4" r="1.88"/><circle cx="345.0" cy="54.4" r="1.88"/><circle cx="354.9" cy="54.4" r="1.88"/><circle cx="359.8" cy="54.4" r="1.88"/></g>
<path d="M283.5,53.7L286.1,54.4 M289.2,53.7L296.0,54.4 M300.6,53.7L300.9,54.4 M306.3,53.7L310.7,54.4 M317.7,53.7L315.6,54.4 M323.3,53.7L325.4,54.4 M334.7,53.7L330.3,54.4 M340.4,53.7L340.1,54.4 M351.8,53.7L345.0,54.4 M357.5,53.7L354.9,54.4 M283.5,53.7L289.2,53.7 M300.6,53.7L306.3,53.7 M317.7,53.7L323.3,53.7 M334.7,53.7L340.4,53.7 M351.8,53.7L357.5,53.7" stroke="#6b7073" stroke-width="0.5" fill="none"/>
<g fill="url(#atom)"><circle cx="283.5" cy="53.7" r="2.10"/><circle cx="289.2" cy="53.7" r="2.10"/><circle cx="300.6" cy="53.7" r="2.10"/><circle cx="306.3" cy="53.7" r="2.10"/><circle cx="317.7" cy="53.7" r="2.10"/><circle cx="323.3" cy="53.7" r="2.10"/><circle cx="334.7" cy="53.7" r="2.10"/><circle cx="340.4" cy="53.7" r="2.10"/><circle cx="351.8" cy="53.7" r="2.10"/><circle cx="357.5" cy="53.7" r="2.10"/></g>
<path d="M273.2,52.7L283.5,53.7 M286.8,52.7L289.2,53.7 M293.5,52.7L300.6,53.7 M307.0,52.7L306.3,53.7 M313.8,52.7L317.7,53.7 M327.2,52.7L323.3,53.7 M334.0,52.7L334.7,53.7 M347.5,52.7L340.4,53.7 M354.2,52.7L351.8,53.7 M367.8,52.7L357.5,53.7 M266.5,52.7L273.2,52.7 M286.8,52.7L293.5,52.7 M307.0,52.7L313.8,52.7 M327.2,52.7L334.0,52.7 M347.5,52.7L354.2,52.7 M367.8,52.7L374.5,52.7" stroke="#6b7073" stroke-width="0.5" fill="none"/>
<g fill="url(#atom)"><circle cx="266.5" cy="52.7" r="2.40"/><circle cx="273.2" cy="52.7" r="2.40"/><circle cx="286.8" cy="52.7" r="2.40"/><circle cx="293.5" cy="52.7" r="2.40"/><circle cx="307.0" cy="52.7" r="2.40"/><circle cx="313.8" cy="52.7" r="2.40"/><circle cx="327.2" cy="52.7" r="2.40"/><circle cx="334.0" cy="52.7" r="2.40"/><circle cx="347.5" cy="52.7" r="2.40"/><circle cx="354.2" cy="52.7" r="2.40"/><circle cx="367.8" cy="52.7" r="2.40"/><circle cx="374.5" cy="52.7" r="2.40"/></g>
<path d="M297.0,33.8L300.7,33.8 M308.1,33.8L311.8,33.8 M319.2,33.8L322.8,33.8 M330.2,33.8L333.9,33.8 M341.3,33.8L345.0,33.8" stroke="#6b7073" stroke-width="0.5" fill="none"/>
<g fill="url(#atom)"><circle cx="297.0" cy="33.8" r="1.60"/><circle cx="300.7" cy="33.8" r="1.60"/><circle cx="308.1" cy="33.8" r="1.60"/><circle cx="311.8" cy="33.8" r="1.60"/><circle cx="319.2" cy="33.8" r="1.60"/><circle cx="322.8" cy="33.8" r="1.60"/><circle cx="330.2" cy="33.8" r="1.60"/><circle cx="333.9" cy="33.8" r="1.60"/><circle cx="341.3" cy="33.8" r="1.60"/><circle cx="345.0" cy="33.8" r="1.60"/></g>
<path d="M293.8,33.3L297.0,33.8 M301.6,33.3L300.7,33.8 M305.5,33.3L308.1,33.8 M313.2,33.3L311.8,33.8 M317.1,33.3L319.2,33.8 M324.9,33.3L322.8,33.8 M328.8,33.3L330.2,33.8 M336.5,33.3L333.9,33.8 M340.4,33.3L341.3,33.8 M348.2,33.3L345.0,33.8 M290.0,33.3L293.8,33.3 M301.6,33.3L305.5,33.3 M313.2,33.3L317.1,33.3 M324.9,33.3L328.8,33.3 M336.5,33.3L340.4,33.3 M348.2,33.3L352.0,33.3" stroke="#6b7073" stroke-width="0.5" fill="none"/>
<g fill="url(#atom)"><circle cx="290.0" cy="33.3" r="1.66"/><circle cx="293.8" cy="33.3" r="1.66"/><circle cx="301.6" cy="33.3" r="1.66"/><circle cx="305.5" cy="33.3" r="1.66"/><circle cx="313.2" cy="33.3" r="1.66"/><circle cx="317.1" cy="33.3" r="1.66"/><circle cx="324.9" cy="33.3" r="1.66"/><circle cx="328.8" cy="33.3" r="1.66"/><circle cx="336.5" cy="33.3" r="1.66"/><circle cx="340.4" cy="33.3" r="1.66"/><circle cx="348.2" cy="33.3" r="1.66"/><circle cx="352.0" cy="33.3" r="1.66"/></g>
<path d="M294.4,32.8L293.8,33.3 M298.5,32.8L301.6,33.3 M306.7,32.8L305.5,33.3 M310.8,32.8L313.2,33.3 M319.0,32.8L317.1,33.3 M323.0,32.8L324.9,33.3 M331.2,32.8L328.8,33.3 M335.3,32.8L336.5,33.3 M343.5,32.8L340.4,33.3 M347.6,32.8L348.2,33.3 M294.4,32.8L298.5,32.8 M306.7,32.8L310.8,32.8 M319.0,32.8L323.0,32.8 M331.2,32.8L335.3,32.8 M343.5,32.8L347.6,32.8" stroke="#6b7073" stroke-width="0.5" fill="none"/>
<g fill="url(#atom)"><circle cx="294.4" cy="32.8" r="1.72"/><circle cx="298.5" cy="32.8" r="1.72"/><circle cx="306.7" cy="32.8" r="1.72"/><circle cx="310.8" cy="32.8" r="1.72"/><circle cx="319.0" cy="32.8" r="1.72"/><circle cx="323.0" cy="32.8" r="1.72"/><circle cx="331.2" cy="32.8" r="1.72"/><circle cx="335.3" cy="32.8" r="1.72"/><circle cx="343.5" cy="32.8" r="1.72"/><circle cx="347.6" cy="32.8" r="1.72"/></g>
<path d="M290.8,32.3L294.4,32.8 M299.4,32.3L298.5,32.8 M303.7,32.3L306.7,32.8 M312.4,32.3L310.8,32.8 M316.7,32.3L319.0,32.8 M325.3,32.3L323.0,32.8 M329.6,32.3L331.2,32.8 M338.3,32.3L335.3,32.8 M342.6,32.3L343.5,32.8 M351.2,32.3L347.6,32.8 M286.5,32.3L290.8,32.3 M299.4,32.3L303.7,32.3 M312.4,32.3L316.7,32.3 M325.3,32.3L329.6,32.3 M338.3,32.3L342.6,32.3 M351.2,32.3L355.5,32.3" stroke="#6b7073" stroke-width="0.5" fill="none"/>
<g fill="url(#atom)"><circle cx="286.5" cy="32.3" r="1.79"/><circle cx="290.8" cy="32.3" r="1.79"/><circle cx="299.4" cy="32.3" r="1.79"/><circle cx="303.7" cy="32.3" r="1.79"/><circle cx="312.4" cy="32.3" r="1.79"/><circle cx="316.7" cy="32.3" r="1.79"/><circle cx="325.3" cy="32.3" r="1.79"/><circle cx="329.6" cy="32.3" r="1.79"/><circle cx="338.3" cy="32.3" r="1.79"/><circle cx="342.6" cy="32.3" r="1.79"/><circle cx="351.2" cy="32.3" r="1.79"/><circle cx="355.5" cy="32.3" r="1.79"/></g>
<path d="M291.3,31.6L290.8,32.3 M295.9,31.6L299.4,32.3 M305.0,31.6L303.7,32.3 M309.6,31.6L312.4,32.3 M318.7,31.6L316.7,32.3 M323.3,31.6L325.3,32.3 M332.4,31.6L329.6,32.3 M337.0,31.6L338.3,32.3 M346.1,31.6L342.6,32.3 M350.7,31.6L351.2,32.3 M291.3,31.6L295.9,31.6 M305.0,31.6L309.6,31.6 M318.7,31.6L323.3,31.6 M332.4,31.6L337.0,31.6 M346.1,31.6L350.7,31.6" stroke="#6b7073" stroke-width="0.5" fill="none"/>
<g fill="url(#atom)"><circle cx="291.3" cy="31.6" r="1.86"/><circle cx="295.9" cy="31.6" r="1.86"/><circle cx="305.0" cy="31.6" r="1.86"/><circle cx="309.6" cy="31.6" r="1.86"/><circle cx="318.7" cy="31.6" r="1.86"/><circle cx="323.3" cy="31.6" r="1.86"/><circle cx="332.4" cy="31.6" r="1.86"/><circle cx="337.0" cy="31.6" r="1.86"/><circle cx="346.1" cy="31.6" r="1.86"/><circle cx="350.7" cy="31.6" r="1.86"/></g>
<path d="M287.1,31.0L291.3,31.6 M296.8,31.0L295.9,31.6 M301.6,31.0L305.0,31.6 M311.3,31.0L309.6,31.6 M316.2,31.0L318.7,31.6 M325.8,31.0L323.3,31.6 M330.7,31.0L332.4,31.6 M340.4,31.0L337.0,31.6 M345.2,31.0L346.1,31.6 M354.9,31.0L350.7,31.6 M282.2,31.0L287.1,31.0 M296.8,31.0L301.6,31.0 M311.3,31.0L316.2,31.0 M325.8,31.0L330.7,31.0 M340.4,31.0L345.2,31.0 M354.9,31.0L359.8,31.0" stroke="#6b7073" stroke-width="0.5" fill="none"/>
<g fill="url(#atom)"><circle cx="282.2" cy="31.0" r="1.95"/><circle cx="287.1" cy="31.0" r="1.95"/><circle cx="296.8" cy="31.0" r="1.95"/><circle cx="301.6" cy="31.0" r="1.95"/><circle cx="311.3" cy="31.0" r="1.95"/><circle cx="316.2" cy="31.0" r="1.95"/><circle cx="325.8" cy="31.0" r="1.95"/><circle cx="330.7" cy="31.0" r="1.95"/><circle cx="340.4" cy="31.0" r="1.95"/><circle cx="345.2" cy="31.0" r="1.95"/><circle cx="354.9" cy="31.0" r="1.95"/><circle cx="359.8" cy="31.0" r="1.95"/></g>
<path d="M287.5,30.2L287.1,31.0 M292.7,30.2L296.8,31.0 M303.0,30.2L301.6,31.0 M308.1,30.2L311.3,31.0 M318.4,30.2L316.2,31.0 M323.6,30.2L325.8,31.0 M333.9,30.2L330.7,31.0 M339.0,30.2L340.4,31.0 M349.3,30.2L345.2,31.0 M354.5,30.2L354.9,31.0 M287.5,30.2L292.7,30.2 M303.0,30.2L308.1,30.2 M318.4,30.2L323.6,30.2 M333.9,30.2L339.0,30.2 M349.3,30.2L354.5,30.2" stroke="#6b7073" stroke-width="0.5" fill="none"/>
<g fill="url(#atom)"><circle cx="287.5" cy="30.2" r="2.04"/><circle cx="292.7" cy="30.2" r="2.04"/><circle cx="303.0" cy="30.2" r="2.04"/><circle cx="308.1" cy="30.2" r="2.04"/><circle cx="318.4" cy="30.2" r="2.04"/><circle cx="323.6" cy="30.2" r="2.04"/><circle cx="333.9" cy="30.2" r="2.04"/><circle cx="339.0" cy="30.2" r="2.04"/><circle cx="349.3" cy="30.2" r="2.04"/><circle cx="354.5" cy="30.2" r="2.04"/></g>
<path d="M282.5,29.4L287.5,30.2 M293.5,29.4L292.7,30.2 M299.0,29.4L303.0,30.2 M310.0,29.4L308.1,30.2 M315.5,29.4L318.4,30.2 M326.5,29.4L323.6,30.2 M332.0,29.4L333.9,30.2 M343.0,29.4L339.0,30.2 M348.5,29.4L349.3,30.2 M359.5,29.4L354.5,30.2 M277.0,29.4L282.5,29.4 M293.5,29.4L299.0,29.4 M310.0,29.4L315.5,29.4 M326.5,29.4L332.0,29.4 M343.0,29.4L348.5,29.4 M359.5,29.4L365.0,29.4" stroke="#6b7073" stroke-width="0.5" fill="none"/>
<g fill="url(#atom)"><circle cx="277.0" cy="29.4" r="2.14"/><circle cx="282.5" cy="29.4" r="2.14"/><circle cx="293.5" cy="29.4" r="2.14"/><circle cx="299.0" cy="29.4" r="2.14"/><circle cx="310.0" cy="29.4" r="2.14"/><circle cx="315.5" cy="29.4" r="2.14"/><circle cx="326.5" cy="29.4" r="2.14"/><circle cx="332.0" cy="29.4" r="2.14"/><circle cx="343.0" cy="29.4" r="2.14"/><circle cx="348.5" cy="29.4" r="2.14"/><circle cx="359.5" cy="29.4" r="2.14"/><circle cx="365.0" cy="29.4" r="2.14"/></g>
<path d="M282.8,28.4L282.5,29.4 M288.7,28.4L293.5,29.4 M300.4,28.4L299.0,29.4 M306.3,28.4L310.0,29.4 M318.1,28.4L315.5,29.4 M323.9,28.4L326.5,29.4 M335.7,28.4L332.0,29.4 M341.6,28.4L343.0,29.4 M353.3,28.4L348.5,29.4 M359.2,28.4L359.5,29.4 M282.8,28.4L288.7,28.4 M300.4,28.4L306.3,28.4 M318.1,28.4L323.9,28.4 M335.7,28.4L341.6,28.4 M353.3,28.4L359.2,28.4" stroke="#6b7073" stroke-width="0.5" fill="none"/>
<g fill="url(#atom)"><circle cx="282.8" cy="28.4" r="2.25"/><circle cx="288.7" cy="28.4" r="2.25"/><circle cx="300.4" cy="28.4" r="2.25"/><circle cx="306.3" cy="28.4" r="2.25"/><circle cx="318.1" cy="28.4" r="2.25"/><circle cx="323.9" cy="28.4" r="2.25"/><circle cx="335.7" cy="28.4" r="2.25"/><circle cx="341.6" cy="28.4" r="2.25"/><circle cx="353.3" cy="28.4" r="2.25"/><circle cx="359.2" cy="28.4" r="2.25"/></g>
<path d="M276.8,27.4L282.8,28.4 M289.4,27.4L288.7,28.4 M295.7,27.4L300.4,28.4 M308.4,27.4L306.3,28.4 M314.7,27.4L318.1,28.4 M327.3,27.4L323.9,28.4 M333.6,27.4L335.7,28.4 M346.3,27.4L341.6,28.4 M352.6,27.4L353.3,28.4 M365.2,27.4L359.2,28.4 M270.5,27.4L276.8,27.4 M289.4,27.4L295.7,27.4 M308.4,27.4L314.7,27.4 M327.3,27.4L333.6,27.4 M346.3,27.4L352.6,27.4 M365.2,27.4L371.5,27.4" stroke="#6b7073" stroke-width="0.5" fill="none"/>
<g fill="url(#atom)"><circle cx="270.5" cy="27.4" r="2.38"/><circle cx="276.8" cy="27.4" r="2.38"/><circle cx="289.4" cy="27.4" r="2.38"/><circle cx="295.7" cy="27.4" r="2.38"/><circle cx="308.4" cy="27.4" r="2.38"/><circle cx="314.7" cy="27.4" r="2.38"/><circle cx="327.3" cy="27.4" r="2.38"/><circle cx="333.6" cy="27.4" r="2.38"/><circle cx="346.3" cy="27.4" r="2.38"/><circle cx="352.6" cy="27.4" r="2.38"/><circle cx="365.2" cy="27.4" r="2.38"/><circle cx="371.5" cy="27.4" r="2.38"/></g>
<path d="M276.8,26.2L276.8,27.4 M283.6,26.2L289.4,27.4 M297.2,26.2L295.7,27.4 M304.0,26.2L308.4,27.4 M317.6,26.2L314.7,27.4 M324.4,26.2L327.3,27.4 M338.0,26.2L333.6,27.4 M344.8,26.2L346.3,27.4 M358.4,26.2L352.6,27.4 M365.2,26.2L365.2,27.4 M276.8,26.2L283.6,26.2 M297.2,26.2L304.0,26.2 M317.6,26.2L324.4,26.2 M338.0,26.2L344.8,26.2 M358.4,26.2L365.2,26.2" stroke="#6b7073" stroke-width="0.5" fill="none"/>
<g fill="url(#atom)"><circle cx="276.8" cy="26.2" r="2.53"/><circle cx="283.6" cy="26.2" r="2.53"/><circle cx="297.2" cy="26.2" r="2.53"/><circle cx="304.0" cy="26.2" r="2.53"/><circle cx="317.6" cy="26.2" r="2.53"/><circle cx="324.4" cy="26.2" r="2.53"/><circle cx="338.0" cy="26.2" r="2.53"/><circle cx="344.8" cy="26.2" r="2.53"/><circle cx="358.4" cy="26.2" r="2.53"/><circle cx="365.2" cy="26.2" r="2.53"/></g>
<path d="M269.4,24.8L276.8,26.2 M284.1,24.8L283.6,26.2 M291.5,24.8L297.2,26.2 M306.2,24.8L304.0,26.2 M313.6,24.8L317.6,26.2 M328.4,24.8L324.4,26.2 M335.8,24.8L338.0,26.2 M350.5,24.8L344.8,26.2 M357.9,24.8L358.4,26.2 M372.6,24.8L365.2,26.2 M262.0,24.8L269.4,24.8 M284.1,24.8L291.5,24.8 M306.2,24.8L313.6,24.8 M328.4,24.8L335.8,24.8 M350.5,24.8L357.9,24.8 M372.6,24.8L380.0,24.8" stroke="#6b7073" stroke-width="0.5" fill="none"/>
<g fill="url(#atom)"><circle cx="262.0" cy="24.8" r="2.70"/><circle cx="269.4" cy="24.8" r="2.70"/><circle cx="284.1" cy="24.8" r="2.70"/><circle cx="291.5" cy="24.8" r="2.70"/><circle cx="306.2" cy="24.8" r="2.70"/><circle cx="313.6" cy="24.8" r="2.70"/><circle cx="328.4" cy="24.8" r="2.70"/><circle cx="335.8" cy="24.8" r="2.70"/><circle cx="350.5" cy="24.8" r="2.70"/><circle cx="357.9" cy="24.8" r="2.70"/><circle cx="372.6" cy="24.8" r="2.70"/><circle cx="380.0" cy="24.8" r="2.70"/></g>
<path d="M270.3,38.7 Q265.9,32.1 258.8,28.2 Q265.4,32.6 269.3,39.7Z" fill="#6dbfe6" stroke="#6dbfe6" stroke-width="0.35"/>
<path d="M385.2,40.6 Q392.9,36.9 396.7,29.0 Q392.4,36.4 384.2,39.4Z" fill="#6dbfe6" stroke="#6dbfe6" stroke-width="0.35"/>
<path d="M263.8,66.9 Q256.0,67.4 248.7,65.0 Q255.9,68.2 263.6,68.3Z" fill="#6dbfe6" stroke="#6dbfe6" stroke-width="0.35"/>
<path d="M384.0,62.2 Q391.7,60.9 397.7,55.5 Q391.5,60.3 383.4,60.8Z" fill="#6dbfe6" stroke="#6dbfe6" stroke-width="0.35"/>
<path d="M260.8,88.9 Q252.7,89.0 245.3,93.0 Q252.8,89.8 261.2,90.3Z" fill="#6dbfe6" stroke="#6dbfe6" stroke-width="0.35"/>
<path d="M383.7,87.2 Q392.2,85.4 400.7,87.0 Q392.3,84.7 383.7,85.8Z" fill="#6dbfe6" stroke="#6dbfe6" stroke-width="0.35"/>
<path d="M264.0,115.5 Q256.2,116.5 249.6,121.0 Q256.4,117.2 264.4,116.9Z" fill="#6dbfe6" stroke="#6dbfe6" stroke-width="0.35"/>
<path d="M385.8,112.2 Q394.0,112.6 401.0,116.5 Q394.2,111.8 386.2,110.8Z" fill="#6dbfe6" stroke="#6dbfe6" stroke-width="0.35"/>
<circle cx="269.8" cy="39.2" r="2.5" fill="url(#reddot)"/>
<circle cx="317.5" cy="43.7" r="2.5" fill="url(#reddot)"/>
<circle cx="369" cy="40" r="2.5" fill="url(#reddot)"/>
<circle cx="384.7" cy="40" r="2.5" fill="url(#reddot)"/>
<circle cx="263.7" cy="67.6" r="2.5" fill="url(#reddot)"/>
<circle cx="292.5" cy="67" r="2.5" fill="url(#reddot)"/>
<circle cx="320" cy="65" r="2.5" fill="url(#reddot)"/>
<circle cx="355" cy="65" r="2.5" fill="url(#reddot)"/>
<circle cx="383.7" cy="61.5" r="2.5" fill="url(#reddot)"/>
<circle cx="261" cy="89.6" r="2.5" fill="url(#reddot)"/>
<circle cx="297" cy="91" r="2.5" fill="url(#reddot)"/>
<circle cx="331" cy="89" r="2.5" fill="url(#reddot)"/>
<circle cx="363.7" cy="90" r="2.5" fill="url(#reddot)"/>
<circle cx="383.7" cy="86.5" r="2.5" fill="url(#reddot)"/>
<circle cx="264.2" cy="116.2" r="2.5" fill="url(#reddot)"/>
<circle cx="303.4" cy="108.4" r="2.5" fill="url(#reddot)"/>
<circle cx="345.6" cy="109.4" r="2.5" fill="url(#reddot)"/>
<circle cx="386" cy="111.5" r="2.5" fill="url(#reddot)"/>
<path d="M252.5,24.6H259.5M252.5,52.5H259.5" stroke="#2f4f86" stroke-width="1.3"/>
<path d="M256,28V49.5" stroke="#2c3c62" stroke-width="1.2"/>
<path d="M256,26 L254.1,30 L257.9,30Z M256,51 L254.1,47 L257.9,47Z" fill="#3a4a68"/>
<text x="245.6" y="39.5" font-size="9" text-anchor="start" font-weight="normal" font-style="italic" fill="#222" stroke="#222" stroke-width="0.16">d<tspan dy="1.9" dx="0.1" font-size="5.2" font-style="normal">2</tspan></text>
<line x1="415.6" y1="81.8" x2="457.3" y2="81.8" stroke="#3a4a68" stroke-width="1.1"/>
<path d="M460.3,81.8 L455.7,79.7 L455.7,83.89999999999999Z" fill="#3a4a68"/>
<text x="418.5" y="93.9" font-size="8.3" text-anchor="start" font-weight="normal" font-style="normal" fill="#222" textLength="38.8" lengthAdjust="spacingAndGlyphs" stroke="#222" stroke-width="0.16">Exfoliation</text>
<text x="249" y="152.5" font-size="8.3" text-anchor="start" font-weight="normal" font-style="normal" fill="#222" textLength="143.5" lengthAdjust="spacingAndGlyphs" stroke="#222" stroke-width="0.16">Intercalation compound (host + guest)</text>
<text x="506" y="152.5" font-size="8.3" text-anchor="start" font-weight="normal" font-style="normal" fill="#222" textLength="83" lengthAdjust="spacingAndGlyphs" stroke="#222" stroke-width="0.16">Atomically thin sheets</text>
<g fill="url(#atom)"><circle cx="486.7" cy="109.6" r="1.70"/><circle cx="490.0" cy="110.0" r="1.70"/><circle cx="493.3" cy="109.8" r="1.70"/><circle cx="496.6" cy="109.3" r="1.70"/><circle cx="499.9" cy="109.2" r="1.70"/><circle cx="503.2" cy="109.7" r="1.70"/><circle cx="506.5" cy="110.0" r="1.70"/><circle cx="509.8" cy="109.7" r="1.70"/><circle cx="513.1" cy="109.3" r="1.70"/><circle cx="516.4" cy="109.3" r="1.70"/><circle cx="519.7" cy="109.8" r="1.70"/><circle cx="523.0" cy="110.0" r="1.70"/><circle cx="526.3" cy="109.6" r="1.70"/><circle cx="529.6" cy="109.2" r="1.70"/><circle cx="532.9" cy="109.4" r="1.70"/><circle cx="536.2" cy="109.8" r="1.70"/><circle cx="539.5" cy="110.0" r="1.70"/><circle cx="542.9" cy="109.6" r="1.70"/><circle cx="546.2" cy="109.2" r="1.70"/><circle cx="549.5" cy="109.4" r="1.70"/><circle cx="552.8" cy="109.9" r="1.70"/><circle cx="556.1" cy="109.9" r="1.70"/><circle cx="559.4" cy="109.5" r="1.70"/><circle cx="562.7" cy="109.2" r="1.70"/><circle cx="566.0" cy="109.5" r="1.70"/><circle cx="569.3" cy="110.0" r="1.70"/><circle cx="572.6" cy="109.9" r="1.70"/><circle cx="575.9" cy="109.4" r="1.70"/><circle cx="579.2" cy="109.2" r="1.70"/><circle cx="582.5" cy="109.6" r="1.70"/><circle cx="585.8" cy="110.0" r="1.70"/><circle cx="589.1" cy="109.8" r="1.70"/><circle cx="592.4" cy="109.3" r="1.70"/><circle cx="595.7" cy="109.2" r="1.70"/></g>
<g fill="url(#atom)"><circle cx="492.2" cy="111.0" r="2.12"/><circle cx="496.3" cy="111.4" r="2.12"/><circle cx="500.4" cy="111.3" r="2.12"/><circle cx="504.4" cy="110.8" r="2.12"/><circle cx="508.5" cy="110.7" r="2.12"/><circle cx="512.6" cy="111.1" r="2.12"/><circle cx="516.7" cy="111.4" r="2.12"/><circle cx="520.8" cy="111.2" r="2.12"/><circle cx="524.9" cy="110.7" r="2.12"/><circle cx="529.0" cy="110.7" r="2.12"/><circle cx="533.0" cy="111.2" r="2.12"/><circle cx="537.1" cy="111.4" r="2.12"/><circle cx="541.2" cy="111.1" r="2.12"/><circle cx="545.3" cy="110.7" r="2.12"/><circle cx="549.4" cy="110.8" r="2.12"/><circle cx="553.5" cy="111.3" r="2.12"/><circle cx="557.5" cy="111.4" r="2.12"/><circle cx="561.6" cy="111.0" r="2.12"/><circle cx="565.7" cy="110.7" r="2.12"/><circle cx="569.8" cy="110.9" r="2.12"/><circle cx="573.9" cy="111.4" r="2.12"/><circle cx="578.0" cy="111.4" r="2.12"/><circle cx="582.0" cy="110.9" r="2.12"/><circle cx="586.1" cy="110.7" r="2.12"/><circle cx="590.2" cy="111.0" r="2.12"/></g>
<g fill="url(#atom)"><circle cx="497.7" cy="112.5" r="2.54"/><circle cx="502.5" cy="112.9" r="2.54"/><circle cx="507.4" cy="112.7" r="2.54"/><circle cx="512.2" cy="112.2" r="2.54"/><circle cx="517.0" cy="112.1" r="2.54"/><circle cx="521.9" cy="112.6" r="2.54"/><circle cx="526.7" cy="112.9" r="2.54"/><circle cx="531.5" cy="112.6" r="2.54"/><circle cx="536.4" cy="112.2" r="2.54"/><circle cx="541.2" cy="112.2" r="2.54"/><circle cx="546.0" cy="112.7" r="2.54"/><circle cx="550.9" cy="112.9" r="2.54"/><circle cx="555.7" cy="112.5" r="2.54"/><circle cx="560.5" cy="112.1" r="2.54"/><circle cx="565.4" cy="112.3" r="2.54"/><circle cx="570.2" cy="112.7" r="2.54"/><circle cx="575.0" cy="112.9" r="2.54"/><circle cx="579.9" cy="112.5" r="2.54"/><circle cx="584.7" cy="112.1" r="2.54"/></g>
<g fill="url(#atom)"><circle cx="503.2" cy="113.9" r="2.96"/><circle cx="509.0" cy="114.3" r="2.96"/><circle cx="514.9" cy="114.2" r="2.96"/><circle cx="520.7" cy="113.7" r="2.96"/><circle cx="526.6" cy="113.6" r="2.96"/><circle cx="532.4" cy="114.0" r="2.96"/><circle cx="538.3" cy="114.3" r="2.96"/><circle cx="544.1" cy="114.1" r="2.96"/><circle cx="550.0" cy="113.6" r="2.96"/><circle cx="555.8" cy="113.6" r="2.96"/><circle cx="561.7" cy="114.1" r="2.96"/><circle cx="567.5" cy="114.3" r="2.96"/><circle cx="573.4" cy="114.0" r="2.96"/><circle cx="579.2" cy="113.6" r="2.96"/></g>
<g fill="url(#atom)"><circle cx="508.7" cy="115.4" r="3.38"/><circle cx="515.2" cy="115.8" r="3.38"/><circle cx="521.7" cy="115.6" r="3.38"/><circle cx="528.2" cy="115.1" r="3.38"/><circle cx="534.7" cy="115.0" r="3.38"/><circle cx="541.2" cy="115.5" r="3.38"/><circle cx="547.7" cy="115.8" r="3.38"/><circle cx="554.2" cy="115.5" r="3.38"/><circle cx="560.7" cy="115.1" r="3.38"/><circle cx="567.2" cy="115.1" r="3.38"/><circle cx="573.7" cy="115.6" r="3.38"/></g>
<g fill="url(#atom)"><circle cx="514.2" cy="116.8" r="3.80"/><circle cx="521.9" cy="117.2" r="3.80"/><circle cx="529.6" cy="117.1" r="3.80"/><circle cx="537.3" cy="116.6" r="3.80"/><circle cx="545.1" cy="116.5" r="3.80"/><circle cx="552.8" cy="116.9" r="3.80"/><circle cx="560.5" cy="117.2" r="3.80"/><circle cx="568.2" cy="117.0" r="3.80"/></g>
<g fill="url(#atom)"><circle cx="513.7" cy="115" r="3.0"/><circle cx="573.4" cy="115" r="3.0"/><circle cx="532" cy="116.5" r="3.2"/><circle cx="553" cy="117" r="3.2"/><circle cx="560.5" cy="116.2" r="3.6"/><circle cx="520.7" cy="117.3" r="4.0"/><circle cx="543" cy="122" r="5.4"/></g>
<g transform="rotate(-12.79 528.0 84.6)">
<path d="M507.3,79.1L509.2,79.1 M513.0,79.1L514.8,79.1 M518.6,79.1L520.5,79.1 M524.2,79.1L526.1,79.1 M529.9,79.1L531.8,79.1 M535.5,79.1L537.4,79.1 M541.2,79.1L543.0,79.1 M546.8,79.1L548.7,79.1" stroke="#6b7073" stroke-width="0.5" fill="none"/>
<g fill="url(#atom)"><circle cx="507.3" cy="79.1" r="1.20"/><circle cx="509.2" cy="79.1" r="1.20"/><circle cx="513.0" cy="79.1" r="1.20"/><circle cx="514.8" cy="79.1" r="1.20"/><circle cx="518.6" cy="79.1" r="1.20"/><circle cx="520.5" cy="79.1" r="1.20"/><circle cx="524.2" cy="79.1" r="1.20"/><circle cx="526.1" cy="79.1" r="1.20"/><circle cx="529.9" cy="79.1" r="1.20"/><circle cx="531.8" cy="79.1" r="1.20"/><circle cx="535.5" cy="79.1" r="1.20"/><circle cx="537.4" cy="79.1" r="1.20"/><circle cx="541.2" cy="79.1" r="1.20"/><circle cx="543.0" cy="79.1" r="1.20"/><circle cx="546.8" cy="79.1" r="1.20"/><circle cx="548.7" cy="79.1" r="1.20"/></g>
<path d="M509.0,79.4L509.2,79.1 M511.0,79.4L513.0,79.1 M515.0,79.4L514.8,79.1 M517.0,79.4L518.6,79.1 M521.0,79.4L520.5,79.1 M523.0,79.4L524.2,79.1 M527.0,79.4L526.1,79.1 M529.0,79.4L529.9,79.1 M533.0,79.4L531.8,79.1 M535.0,79.4L535.5,79.1 M539.0,79.4L537.4,79.1 M541.0,79.4L541.2,79.1 M545.0,79.4L543.0,79.1 M547.0,79.4L546.8,79.1 M509.0,79.4L511.0,79.4 M515.0,79.4L517.0,79.4 M521.0,79.4L523.0,79.4 M527.0,79.4L529.0,79.4 M533.0,79.4L535.0,79.4 M539.0,79.4L541.0,79.4 M545.0,79.4L547.0,79.4" stroke="#6b7073" stroke-width="0.5" fill="none"/>
<g fill="url(#atom)"><circle cx="509.0" cy="79.4" r="1.24"/><circle cx="511.0" cy="79.4" r="1.24"/><circle cx="515.0" cy="79.4" r="1.24"/><circle cx="517.0" cy="79.4" r="1.24"/><circle cx="521.0" cy="79.4" r="1.24"/><circle cx="523.0" cy="79.4" r="1.24"/><circle cx="527.0" cy="79.4" r="1.24"/><circle cx="529.0" cy="79.4" r="1.24"/><circle cx="533.0" cy="79.4" r="1.24"/><circle cx="535.0" cy="79.4" r="1.24"/><circle cx="539.0" cy="79.4" r="1.24"/><circle cx="541.0" cy="79.4" r="1.24"/><circle cx="545.0" cy="79.4" r="1.24"/><circle cx="547.0" cy="79.4" r="1.24"/></g>
<path d="M506.5,79.7L509.0,79.4 M510.8,79.7L511.0,79.4 M512.9,79.7L515.0,79.4 M517.2,79.7L517.0,79.4 M519.4,79.7L521.0,79.4 M523.7,79.7L523.0,79.4 M525.8,79.7L527.0,79.4 M530.2,79.7L529.0,79.4 M532.3,79.7L533.0,79.4 M536.6,79.7L535.0,79.4 M538.8,79.7L539.0,79.4 M543.1,79.7L541.0,79.4 M545.2,79.7L545.0,79.4 M549.5,79.7L547.0,79.4 M504.3,79.7L506.5,79.7 M510.8,79.7L512.9,79.7 M517.2,79.7L519.4,79.7 M523.7,79.7L525.8,79.7 M530.2,79.7L532.3,79.7 M536.6,79.7L538.8,79.7 M543.1,79.7L545.2,79.7 M549.5,79.7L551.7,79.7" stroke="#6b7073" stroke-width="0.5" fill="none"/>
<g fill="url(#atom)"><circle cx="504.3" cy="79.7" r="1.28"/><circle cx="506.5" cy="79.7" r="1.28"/><circle cx="510.8" cy="79.7" r="1.28"/><circle cx="512.9" cy="79.7" r="1.28"/><circle cx="517.2" cy="79.7" r="1.28"/><circle cx="519.4" cy="79.7" r="1.28"/><circle cx="523.7" cy="79.7" r="1.28"/><circle cx="525.8" cy="79.7" r="1.28"/><circle cx="530.2" cy="79.7" r="1.28"/><circle cx="532.3" cy="79.7" r="1.28"/><circle cx="536.6" cy="79.7" r="1.28"/><circle cx="538.8" cy="79.7" r="1.28"/><circle cx="543.1" cy="79.7" r="1.28"/><circle cx="545.2" cy="79.7" r="1.28"/><circle cx="549.5" cy="79.7" r="1.28"/><circle cx="551.7" cy="79.7" r="1.28"/></g>
<path d="M505.9,80.1L506.5,79.7 M508.2,80.1L510.8,79.7 M512.9,80.1L512.9,79.7 M515.2,80.1L517.2,79.7 M519.8,80.1L519.4,79.7 M522.2,80.1L523.7,79.7 M526.8,80.1L525.8,79.7 M529.2,80.1L530.2,79.7 M533.8,80.1L532.3,79.7 M536.2,80.1L536.6,79.7 M540.8,80.1L538.8,79.7 M543.1,80.1L543.1,79.7 M547.8,80.1L545.2,79.7 M550.1,80.1L549.5,79.7 M505.9,80.1L508.2,80.1 M512.9,80.1L515.2,80.1 M519.8,80.1L522.2,80.1 M526.8,80.1L529.2,80.1 M533.8,80.1L536.2,80.1 M540.8,80.1L543.1,80.1 M547.8,80.1L550.1,80.1" stroke="#6b7073" stroke-width="0.5" fill="none"/>
<g fill="url(#atom)"><circle cx="505.9" cy="80.1" r="1.34"/><circle cx="508.2" cy="80.1" r="1.34"/><circle cx="512.9" cy="80.1" r="1.34"/><circle cx="515.2" cy="80.1" r="1.34"/><circle cx="519.8" cy="80.1" r="1.34"/><circle cx="522.2" cy="80.1" r="1.34"/><circle cx="526.8" cy="80.1" r="1.34"/><circle cx="529.2" cy="80.1" r="1.34"/><circle cx="533.8" cy="80.1" r="1.34"/><circle cx="536.2" cy="80.1" r="1.34"/><circle cx="540.8" cy="80.1" r="1.34"/><circle cx="543.1" cy="80.1" r="1.34"/><circle cx="547.8" cy="80.1" r="1.34"/><circle cx="550.1" cy="80.1" r="1.34"/></g>
<path d="M502.5,80.5L505.9,80.1 M507.6,80.5L508.2,80.1 M510.1,80.5L512.9,80.1 M515.2,80.5L515.2,80.1 M517.8,80.5L519.8,80.1 M522.9,80.5L522.2,80.1 M525.4,80.5L526.8,80.1 M530.6,80.5L529.2,80.1 M533.1,80.5L533.8,80.1 M538.2,80.5L536.2,80.1 M540.8,80.5L540.8,80.1 M545.9,80.5L543.1,80.1 M548.4,80.5L547.8,80.1 M553.5,80.5L550.1,80.1 M499.9,80.5L502.5,80.5 M507.6,80.5L510.1,80.5 M515.2,80.5L517.8,80.5 M522.9,80.5L525.4,80.5 M530.6,80.5L533.1,80.5 M538.2,80.5L540.8,80.5 M545.9,80.5L548.4,80.5 M553.5,80.5L556.1,80.5" stroke="#6b7073" stroke-width="0.5" fill="none"/>
<g fill="url(#atom)"><circle cx="499.9" cy="80.5" r="1.41"/><circle cx="502.5" cy="80.5" r="1.41"/><circle cx="507.6" cy="80.5" r="1.41"/><circle cx="510.1" cy="80.5" r="1.41"/><circle cx="515.2" cy="80.5" r="1.41"/><circle cx="517.8" cy="80.5" r="1.41"/><circle cx="522.9" cy="80.5" r="1.41"/><circle cx="525.4" cy="80.5" r="1.41"/><circle cx="530.6" cy="80.5" r="1.41"/><circle cx="533.1" cy="80.5" r="1.41"/><circle cx="538.2" cy="80.5" r="1.41"/><circle cx="540.8" cy="80.5" r="1.41"/><circle cx="545.9" cy="80.5" r="1.41"/><circle cx="548.4" cy="80.5" r="1.41"/><circle cx="553.5" cy="80.5" r="1.41"/><circle cx="556.1" cy="80.5" r="1.41"/></g>
<path d="M501.1,81.1L502.5,80.5 M503.9,81.1L507.6,80.5 M509.6,81.1L510.1,80.5 M512.4,81.1L515.2,80.5 M518.1,81.1L517.8,80.5 M520.9,81.1L522.9,80.5 M526.6,81.1L525.4,80.5 M529.4,81.1L530.6,80.5 M535.1,81.1L533.1,80.5 M537.9,81.1L538.2,80.5 M543.6,81.1L540.8,80.5 M546.4,81.1L545.9,80.5 M552.1,81.1L548.4,80.5 M554.9,81.1L553.5,80.5 M501.1,81.1L503.9,81.1 M509.6,81.1L512.4,81.1 M518.1,81.1L520.9,81.1 M526.6,81.1L529.4,81.1 M535.1,81.1L537.9,81.1 M543.6,81.1L546.4,81.1 M552.1,81.1L554.9,81.1" stroke="#6b7073" stroke-width="0.5" fill="none"/>
<g fill="url(#atom)"><circle cx="501.1" cy="81.1" r="1.49"/><circle cx="503.9" cy="81.1" r="1.49"/><circle cx="509.6" cy="81.1" r="1.49"/><circle cx="512.4" cy="81.1" r="1.49"/><circle cx="518.1" cy="81.1" r="1.49"/><circle cx="520.9" cy="81.1" r="1.49"/><circle cx="526.6" cy="81.1" r="1.49"/><circle cx="529.4" cy="81.1" r="1.49"/><circle cx="535.1" cy="81.1" r="1.49"/><circle cx="537.9" cy="81.1" r="1.49"/><circle cx="543.6" cy="81.1" r="1.49"/><circle cx="546.4" cy="81.1" r="1.49"/><circle cx="552.1" cy="81.1" r="1.49"/><circle cx="554.9" cy="81.1" r="1.49"/></g>
<path d="M495.9,81.9L501.1,81.1 M502.3,81.9L503.9,81.1 M505.5,81.9L509.6,81.1 M512.0,81.9L512.4,81.1 M515.2,81.9L518.1,81.1 M521.6,81.9L520.9,81.1 M524.8,81.9L526.6,81.1 M531.2,81.9L529.4,81.1 M534.4,81.9L535.1,81.1 M540.8,81.9L537.9,81.1 M544.0,81.9L543.6,81.1 M550.5,81.9L546.4,81.1 M553.7,81.9L552.1,81.1 M560.1,81.9L554.9,81.1 M492.7,81.9L495.9,81.9 M502.3,81.9L505.5,81.9 M512.0,81.9L515.2,81.9 M521.6,81.9L524.8,81.9 M531.2,81.9L534.4,81.9 M540.8,81.9L544.0,81.9 M550.5,81.9L553.7,81.9 M560.1,81.9L563.3,81.9" stroke="#6b7073" stroke-width="0.5" fill="none"/>
<g fill="url(#atom)"><circle cx="492.7" cy="81.9" r="1.61"/><circle cx="495.9" cy="81.9" r="1.61"/><circle cx="502.3" cy="81.9" r="1.61"/><circle cx="505.5" cy="81.9" r="1.61"/><circle cx="512.0" cy="81.9" r="1.61"/><circle cx="515.2" cy="81.9" r="1.61"/><circle cx="521.6" cy="81.9" r="1.61"/><circle cx="524.8" cy="81.9" r="1.61"/><circle cx="531.2" cy="81.9" r="1.61"/><circle cx="534.4" cy="81.9" r="1.61"/><circle cx="540.8" cy="81.9" r="1.61"/><circle cx="544.0" cy="81.9" r="1.61"/><circle cx="550.5" cy="81.9" r="1.61"/><circle cx="553.7" cy="81.9" r="1.61"/><circle cx="560.1" cy="81.9" r="1.61"/><circle cx="563.3" cy="81.9" r="1.61"/></g>
<path d="M492.6,83.0L495.9,81.9 M496.4,83.0L502.3,81.9 M503.8,83.0L505.5,81.9 M507.5,83.0L512.0,81.9 M515.0,83.0L515.2,81.9 M518.7,83.0L521.6,81.9 M526.1,83.0L524.8,81.9 M529.9,83.0L531.2,81.9 M537.3,83.0L534.4,81.9 M541.0,83.0L540.8,81.9 M548.5,83.0L544.0,81.9 M552.2,83.0L550.5,81.9 M559.6,83.0L553.7,81.9 M563.4,83.0L560.1,81.9 M492.6,83.0L496.4,83.0 M503.8,83.0L507.5,83.0 M515.0,83.0L518.7,83.0 M526.1,83.0L529.9,83.0 M537.3,83.0L541.0,83.0 M548.5,83.0L552.2,83.0 M559.6,83.0L563.4,83.0" stroke="#6b7073" stroke-width="0.5" fill="none"/>
<g fill="url(#atom)"><circle cx="492.6" cy="83.0" r="1.77"/><circle cx="496.4" cy="83.0" r="1.77"/><circle cx="503.8" cy="83.0" r="1.77"/><circle cx="507.5" cy="83.0" r="1.77"/><circle cx="515.0" cy="83.0" r="1.77"/><circle cx="518.7" cy="83.0" r="1.77"/><circle cx="526.1" cy="83.0" r="1.77"/><circle cx="529.9" cy="83.0" r="1.77"/><circle cx="537.3" cy="83.0" r="1.77"/><circle cx="541.0" cy="83.0" r="1.77"/><circle cx="548.5" cy="83.0" r="1.77"/><circle cx="552.2" cy="83.0" r="1.77"/><circle cx="559.6" cy="83.0" r="1.77"/><circle cx="563.4" cy="83.0" r="1.77"/></g>
<path d="M483.3,84.6L492.6,83.0 M492.2,84.6L496.4,83.0 M496.7,84.6L503.8,83.0 M505.6,84.6L507.5,83.0 M510.1,84.6L515.0,83.0 M519.1,84.6L518.7,83.0 M523.5,84.6L526.1,83.0 M532.5,84.6L529.9,83.0 M536.9,84.6L537.3,83.0 M545.9,84.6L541.0,83.0 M550.4,84.6L548.5,83.0 M559.3,84.6L552.2,83.0 M563.8,84.6L559.6,83.0 M572.7,84.6L563.4,83.0 M478.8,84.6L483.3,84.6 M492.2,84.6L496.7,84.6 M505.6,84.6L510.1,84.6 M519.1,84.6L523.5,84.6 M532.5,84.6L536.9,84.6 M545.9,84.6L550.4,84.6 M559.3,84.6L563.8,84.6 M572.7,84.6L577.2,84.6" stroke="#6b7073" stroke-width="0.5" fill="none"/>
<g fill="url(#atom)"><circle cx="478.8" cy="84.6" r="2.00"/><circle cx="483.3" cy="84.6" r="2.00"/><circle cx="492.2" cy="84.6" r="2.00"/><circle cx="496.7" cy="84.6" r="2.00"/><circle cx="505.6" cy="84.6" r="2.00"/><circle cx="510.1" cy="84.6" r="2.00"/><circle cx="519.1" cy="84.6" r="2.00"/><circle cx="523.5" cy="84.6" r="2.00"/><circle cx="532.5" cy="84.6" r="2.00"/><circle cx="536.9" cy="84.6" r="2.00"/><circle cx="545.9" cy="84.6" r="2.00"/><circle cx="550.4" cy="84.6" r="2.00"/><circle cx="559.3" cy="84.6" r="2.00"/><circle cx="563.8" cy="84.6" r="2.00"/><circle cx="572.7" cy="84.6" r="2.00"/><circle cx="577.2" cy="84.6" r="2.00"/></g>
</g>
<g transform="rotate(9.39 574.2 98.8)">
<path d="M555.8,92.3L557.5,92.3 M560.9,92.3L562.5,92.3 M565.9,92.3L567.6,92.3 M570.9,92.3L572.6,92.3 M575.9,92.3L577.6,92.3 M580.9,92.3L582.6,92.3 M586.0,92.3L587.6,92.3 M591.0,92.3L592.7,92.3" stroke="#6b7073" stroke-width="0.5" fill="none"/>
<g fill="url(#atom)"><circle cx="555.8" cy="92.3" r="1.20"/><circle cx="557.5" cy="92.3" r="1.20"/><circle cx="560.9" cy="92.3" r="1.20"/><circle cx="562.5" cy="92.3" r="1.20"/><circle cx="565.9" cy="92.3" r="1.20"/><circle cx="567.6" cy="92.3" r="1.20"/><circle cx="570.9" cy="92.3" r="1.20"/><circle cx="572.6" cy="92.3" r="1.20"/><circle cx="575.9" cy="92.3" r="1.20"/><circle cx="577.6" cy="92.3" r="1.20"/><circle cx="580.9" cy="92.3" r="1.20"/><circle cx="582.6" cy="92.3" r="1.20"/><circle cx="586.0" cy="92.3" r="1.20"/><circle cx="587.6" cy="92.3" r="1.20"/><circle cx="591.0" cy="92.3" r="1.20"/><circle cx="592.7" cy="92.3" r="1.20"/></g>
<path d="M557.3,92.7L557.5,92.3 M559.1,92.7L560.9,92.3 M562.7,92.7L562.5,92.3 M564.4,92.7L565.9,92.3 M568.0,92.7L567.6,92.3 M569.8,92.7L570.9,92.3 M573.4,92.7L572.6,92.3 M575.1,92.7L575.9,92.3 M578.7,92.7L577.6,92.3 M580.5,92.7L580.9,92.3 M584.1,92.7L582.6,92.3 M585.8,92.7L586.0,92.3 M589.4,92.7L587.6,92.3 M591.2,92.7L591.0,92.3 M557.3,92.7L559.1,92.7 M562.7,92.7L564.4,92.7 M568.0,92.7L569.8,92.7 M573.4,92.7L575.1,92.7 M578.7,92.7L580.5,92.7 M584.1,92.7L585.8,92.7 M589.4,92.7L591.2,92.7" stroke="#6b7073" stroke-width="0.5" fill="none"/>
<g fill="url(#atom)"><circle cx="557.3" cy="92.7" r="1.24"/><circle cx="559.1" cy="92.7" r="1.24"/><circle cx="562.7" cy="92.7" r="1.24"/><circle cx="564.4" cy="92.7" r="1.24"/><circle cx="568.0" cy="92.7" r="1.24"/><circle cx="569.8" cy="92.7" r="1.24"/><circle cx="573.4" cy="92.7" r="1.24"/><circle cx="575.1" cy="92.7" r="1.24"/><circle cx="578.7" cy="92.7" r="1.24"/><circle cx="580.5" cy="92.7" r="1.24"/><circle cx="584.1" cy="92.7" r="1.24"/><circle cx="585.8" cy="92.7" r="1.24"/><circle cx="589.4" cy="92.7" r="1.24"/><circle cx="591.2" cy="92.7" r="1.24"/></g>
<path d="M555.1,93.0L557.3,92.7 M558.9,93.0L559.1,92.7 M560.8,93.0L562.7,92.7 M564.7,93.0L564.4,92.7 M566.6,93.0L568.0,92.7 M570.4,93.0L569.8,92.7 M572.3,93.0L573.4,92.7 M576.2,93.0L575.1,92.7 M578.1,93.0L578.7,92.7 M581.9,93.0L580.5,92.7 M583.8,93.0L584.1,92.7 M587.7,93.0L585.8,92.7 M589.6,93.0L589.4,92.7 M593.4,93.0L591.2,92.7 M553.2,93.0L555.1,93.0 M558.9,93.0L560.8,93.0 M564.7,93.0L566.6,93.0 M570.4,93.0L572.3,93.0 M576.2,93.0L578.1,93.0 M581.9,93.0L583.8,93.0 M587.7,93.0L589.6,93.0 M593.4,93.0L595.3,93.0" stroke="#6b7073" stroke-width="0.5" fill="none"/>
<g fill="url(#atom)"><circle cx="553.2" cy="93.0" r="1.28"/><circle cx="555.1" cy="93.0" r="1.28"/><circle cx="558.9" cy="93.0" r="1.28"/><circle cx="560.8" cy="93.0" r="1.28"/><circle cx="564.7" cy="93.0" r="1.28"/><circle cx="566.6" cy="93.0" r="1.28"/><circle cx="570.4" cy="93.0" r="1.28"/><circle cx="572.3" cy="93.0" r="1.28"/><circle cx="576.2" cy="93.0" r="1.28"/><circle cx="578.1" cy="93.0" r="1.28"/><circle cx="581.9" cy="93.0" r="1.28"/><circle cx="583.8" cy="93.0" r="1.28"/><circle cx="587.7" cy="93.0" r="1.28"/><circle cx="589.6" cy="93.0" r="1.28"/><circle cx="593.4" cy="93.0" r="1.28"/><circle cx="595.3" cy="93.0" r="1.28"/></g>
<path d="M554.5,93.5L555.1,93.0 M556.6,93.5L558.9,93.0 M560.8,93.5L560.8,93.0 M562.8,93.5L564.7,93.0 M567.0,93.5L566.6,93.0 M569.1,93.5L570.4,93.0 M573.2,93.5L572.3,93.0 M575.3,93.5L576.2,93.0 M579.4,93.5L578.1,93.0 M581.5,93.5L581.9,93.0 M585.7,93.5L583.8,93.0 M587.7,93.5L587.7,93.0 M591.9,93.5L589.6,93.0 M594.0,93.5L593.4,93.0 M554.5,93.5L556.6,93.5 M560.8,93.5L562.8,93.5 M567.0,93.5L569.1,93.5 M573.2,93.5L575.3,93.5 M579.4,93.5L581.5,93.5 M585.7,93.5L587.7,93.5 M591.9,93.5L594.0,93.5" stroke="#6b7073" stroke-width="0.5" fill="none"/>
<g fill="url(#atom)"><circle cx="554.5" cy="93.5" r="1.34"/><circle cx="556.6" cy="93.5" r="1.34"/><circle cx="560.8" cy="93.5" r="1.34"/><circle cx="562.8" cy="93.5" r="1.34"/><circle cx="567.0" cy="93.5" r="1.34"/><circle cx="569.1" cy="93.5" r="1.34"/><circle cx="573.2" cy="93.5" r="1.34"/><circle cx="575.3" cy="93.5" r="1.34"/><circle cx="579.4" cy="93.5" r="1.34"/><circle cx="581.5" cy="93.5" r="1.34"/><circle cx="585.7" cy="93.5" r="1.34"/><circle cx="587.7" cy="93.5" r="1.34"/><circle cx="591.9" cy="93.5" r="1.34"/><circle cx="594.0" cy="93.5" r="1.34"/></g>
<path d="M551.5,94.0L554.5,93.5 M556.1,94.0L556.6,93.5 M558.3,94.0L560.8,93.5 M562.9,94.0L562.8,93.5 M565.2,94.0L567.0,93.5 M569.7,94.0L569.1,93.5 M572.0,94.0L573.2,93.5 M576.5,94.0L575.3,93.5 M578.8,94.0L579.4,93.5 M583.3,94.0L581.5,93.5 M585.6,94.0L585.7,93.5 M590.2,94.0L587.7,93.5 M592.4,94.0L591.9,93.5 M597.0,94.0L594.0,93.5 M549.2,94.0L551.5,94.0 M556.1,94.0L558.3,94.0 M562.9,94.0L565.2,94.0 M569.7,94.0L572.0,94.0 M576.5,94.0L578.8,94.0 M583.3,94.0L585.6,94.0 M590.2,94.0L592.4,94.0 M597.0,94.0L599.3,94.0" stroke="#6b7073" stroke-width="0.5" fill="none"/>
<g fill="url(#atom)"><circle cx="549.2" cy="94.0" r="1.41"/><circle cx="551.5" cy="94.0" r="1.41"/><circle cx="556.1" cy="94.0" r="1.41"/><circle cx="558.3" cy="94.0" r="1.41"/><circle cx="562.9" cy="94.0" r="1.41"/><circle cx="565.2" cy="94.0" r="1.41"/><circle cx="569.7" cy="94.0" r="1.41"/><circle cx="572.0" cy="94.0" r="1.41"/><circle cx="576.5" cy="94.0" r="1.41"/><circle cx="578.8" cy="94.0" r="1.41"/><circle cx="583.3" cy="94.0" r="1.41"/><circle cx="585.6" cy="94.0" r="1.41"/><circle cx="590.2" cy="94.0" r="1.41"/><circle cx="592.4" cy="94.0" r="1.41"/><circle cx="597.0" cy="94.0" r="1.41"/><circle cx="599.3" cy="94.0" r="1.41"/></g>
<path d="M550.3,94.7L551.5,94.0 M552.8,94.7L556.1,94.0 M557.8,94.7L558.3,94.0 M560.4,94.7L562.9,94.0 M565.4,94.7L565.2,94.0 M567.9,94.7L569.7,94.0 M573.0,94.7L572.0,94.0 M575.5,94.7L576.5,94.0 M580.6,94.7L578.8,94.0 M583.1,94.7L583.3,94.0 M588.1,94.7L585.6,94.0 M590.7,94.7L590.2,94.0 M595.7,94.7L592.4,94.0 M598.2,94.7L597.0,94.0 M550.3,94.7L552.8,94.7 M557.8,94.7L560.4,94.7 M565.4,94.7L567.9,94.7 M573.0,94.7L575.5,94.7 M580.6,94.7L583.1,94.7 M588.1,94.7L590.7,94.7 M595.7,94.7L598.2,94.7" stroke="#6b7073" stroke-width="0.5" fill="none"/>
<g fill="url(#atom)"><circle cx="550.3" cy="94.7" r="1.49"/><circle cx="552.8" cy="94.7" r="1.49"/><circle cx="557.8" cy="94.7" r="1.49"/><circle cx="560.4" cy="94.7" r="1.49"/><circle cx="565.4" cy="94.7" r="1.49"/><circle cx="567.9" cy="94.7" r="1.49"/><circle cx="573.0" cy="94.7" r="1.49"/><circle cx="575.5" cy="94.7" r="1.49"/><circle cx="580.6" cy="94.7" r="1.49"/><circle cx="583.1" cy="94.7" r="1.49"/><circle cx="588.1" cy="94.7" r="1.49"/><circle cx="590.7" cy="94.7" r="1.49"/><circle cx="595.7" cy="94.7" r="1.49"/><circle cx="598.2" cy="94.7" r="1.49"/></g>
<path d="M545.7,95.7L550.3,94.7 M551.4,95.7L552.8,94.7 M554.2,95.7L557.8,94.7 M560.0,95.7L560.4,94.7 M562.8,95.7L565.4,94.7 M568.5,95.7L567.9,94.7 M571.4,95.7L573.0,94.7 M577.1,95.7L575.5,94.7 M580.0,95.7L580.6,94.7 M585.7,95.7L583.1,94.7 M588.5,95.7L588.1,94.7 M594.3,95.7L590.7,94.7 M597.1,95.7L595.7,94.7 M602.8,95.7L598.2,94.7 M542.8,95.7L545.7,95.7 M551.4,95.7L554.2,95.7 M560.0,95.7L562.8,95.7 M568.5,95.7L571.4,95.7 M577.1,95.7L580.0,95.7 M585.7,95.7L588.5,95.7 M594.3,95.7L597.1,95.7 M602.8,95.7L605.7,95.7" stroke="#6b7073" stroke-width="0.5" fill="none"/>
<g fill="url(#atom)"><circle cx="542.8" cy="95.7" r="1.61"/><circle cx="545.7" cy="95.7" r="1.61"/><circle cx="551.4" cy="95.7" r="1.61"/><circle cx="554.2" cy="95.7" r="1.61"/><circle cx="560.0" cy="95.7" r="1.61"/><circle cx="562.8" cy="95.7" r="1.61"/><circle cx="568.5" cy="95.7" r="1.61"/><circle cx="571.4" cy="95.7" r="1.61"/><circle cx="577.1" cy="95.7" r="1.61"/><circle cx="580.0" cy="95.7" r="1.61"/><circle cx="585.7" cy="95.7" r="1.61"/><circle cx="588.5" cy="95.7" r="1.61"/><circle cx="594.3" cy="95.7" r="1.61"/><circle cx="597.1" cy="95.7" r="1.61"/><circle cx="602.8" cy="95.7" r="1.61"/><circle cx="605.7" cy="95.7" r="1.61"/></g>
<path d="M542.8,97.0L545.7,95.7 M546.1,97.0L551.4,95.7 M552.7,97.0L554.2,95.7 M556.0,97.0L560.0,95.7 M562.6,97.0L562.8,95.7 M566.0,97.0L568.5,95.7 M572.6,97.0L571.4,95.7 M575.9,97.0L577.1,95.7 M582.5,97.0L580.0,95.7 M585.9,97.0L585.7,95.7 M592.5,97.0L588.5,95.7 M595.8,97.0L594.3,95.7 M602.4,97.0L597.1,95.7 M605.7,97.0L602.8,95.7 M542.8,97.0L546.1,97.0 M552.7,97.0L556.0,97.0 M562.6,97.0L566.0,97.0 M572.6,97.0L575.9,97.0 M582.5,97.0L585.9,97.0 M592.5,97.0L595.8,97.0 M602.4,97.0L605.7,97.0" stroke="#6b7073" stroke-width="0.5" fill="none"/>
<g fill="url(#atom)"><circle cx="542.8" cy="97.0" r="1.77"/><circle cx="546.1" cy="97.0" r="1.77"/><circle cx="552.7" cy="97.0" r="1.77"/><circle cx="556.0" cy="97.0" r="1.77"/><circle cx="562.6" cy="97.0" r="1.77"/><circle cx="566.0" cy="97.0" r="1.77"/><circle cx="572.6" cy="97.0" r="1.77"/><circle cx="575.9" cy="97.0" r="1.77"/><circle cx="582.5" cy="97.0" r="1.77"/><circle cx="585.9" cy="97.0" r="1.77"/><circle cx="592.5" cy="97.0" r="1.77"/><circle cx="595.8" cy="97.0" r="1.77"/><circle cx="602.4" cy="97.0" r="1.77"/><circle cx="605.7" cy="97.0" r="1.77"/></g>
<path d="M534.4,98.8L542.8,97.0 M542.4,98.8L546.1,97.0 M546.4,98.8L552.7,97.0 M554.3,98.8L556.0,97.0 M558.3,98.8L562.6,97.0 M566.3,98.8L566.0,97.0 M570.3,98.8L572.6,97.0 M578.2,98.8L575.9,97.0 M582.2,98.8L582.5,97.0 M590.2,98.8L585.9,97.0 M594.2,98.8L592.5,97.0 M602.1,98.8L595.8,97.0 M606.1,98.8L602.4,97.0 M614.1,98.8L605.7,97.0 M530.4,98.8L534.4,98.8 M542.4,98.8L546.4,98.8 M554.3,98.8L558.3,98.8 M566.3,98.8L570.3,98.8 M578.2,98.8L582.2,98.8 M590.2,98.8L594.2,98.8 M602.1,98.8L606.1,98.8 M614.1,98.8L618.1,98.8" stroke="#6b7073" stroke-width="0.5" fill="none"/>
<g fill="url(#atom)"><circle cx="530.4" cy="98.8" r="2.00"/><circle cx="534.4" cy="98.8" r="2.00"/><circle cx="542.4" cy="98.8" r="2.00"/><circle cx="546.4" cy="98.8" r="2.00"/><circle cx="554.3" cy="98.8" r="2.00"/><circle cx="558.3" cy="98.8" r="2.00"/><circle cx="566.3" cy="98.8" r="2.00"/><circle cx="570.3" cy="98.8" r="2.00"/><circle cx="578.2" cy="98.8" r="2.00"/><circle cx="582.2" cy="98.8" r="2.00"/><circle cx="590.2" cy="98.8" r="2.00"/><circle cx="594.2" cy="98.8" r="2.00"/><circle cx="602.1" cy="98.8" r="2.00"/><circle cx="606.1" cy="98.8" r="2.00"/><circle cx="614.1" cy="98.8" r="2.00"/><circle cx="618.1" cy="98.8" r="2.00"/></g>
</g>
<g transform="rotate(27.15 576.0 68.7)">
<path d="M557.6,75.2L559.3,75.2 M562.6,75.2L564.3,75.2 M567.6,75.2L569.3,75.2 M572.7,75.2L574.3,75.2 M577.7,75.2L579.3,75.2 M582.7,75.2L584.4,75.2 M587.7,75.2L589.4,75.2 M592.7,75.2L594.4,75.2" stroke="#6b7073" stroke-width="0.5" fill="none"/>
<g fill="url(#atom)"><circle cx="557.6" cy="75.2" r="1.20"/><circle cx="559.3" cy="75.2" r="1.20"/><circle cx="562.6" cy="75.2" r="1.20"/><circle cx="564.3" cy="75.2" r="1.20"/><circle cx="567.6" cy="75.2" r="1.20"/><circle cx="569.3" cy="75.2" r="1.20"/><circle cx="572.7" cy="75.2" r="1.20"/><circle cx="574.3" cy="75.2" r="1.20"/><circle cx="577.7" cy="75.2" r="1.20"/><circle cx="579.3" cy="75.2" r="1.20"/><circle cx="582.7" cy="75.2" r="1.20"/><circle cx="584.4" cy="75.2" r="1.20"/><circle cx="587.7" cy="75.2" r="1.20"/><circle cx="589.4" cy="75.2" r="1.20"/><circle cx="592.7" cy="75.2" r="1.20"/><circle cx="594.4" cy="75.2" r="1.20"/></g>
<path d="M559.1,74.9L559.3,75.2 M560.8,74.9L562.6,75.2 M564.4,74.9L564.3,75.2 M566.2,74.9L567.6,75.2 M569.8,74.9L569.3,75.2 M571.5,74.9L572.7,75.2 M575.1,74.9L574.3,75.2 M576.9,74.9L577.7,75.2 M580.5,74.9L579.3,75.2 M582.2,74.9L582.7,75.2 M585.8,74.9L584.4,75.2 M587.6,74.9L587.7,75.2 M591.2,74.9L589.4,75.2 M592.9,74.9L592.7,75.2 M559.1,74.9L560.8,74.9 M564.4,74.9L566.2,74.9 M569.8,74.9L571.5,74.9 M575.1,74.9L576.9,74.9 M580.5,74.9L582.2,74.9 M585.8,74.9L587.6,74.9 M591.2,74.9L592.9,74.9" stroke="#6b7073" stroke-width="0.5" fill="none"/>
<g fill="url(#atom)"><circle cx="559.1" cy="74.9" r="1.24"/><circle cx="560.8" cy="74.9" r="1.24"/><circle cx="564.4" cy="74.9" r="1.24"/><circle cx="566.2" cy="74.9" r="1.24"/><circle cx="569.8" cy="74.9" r="1.24"/><circle cx="571.5" cy="74.9" r="1.24"/><circle cx="575.1" cy="74.9" r="1.24"/><circle cx="576.9" cy="74.9" r="1.24"/><circle cx="580.5" cy="74.9" r="1.24"/><circle cx="582.2" cy="74.9" r="1.24"/><circle cx="585.8" cy="74.9" r="1.24"/><circle cx="587.6" cy="74.9" r="1.24"/><circle cx="591.2" cy="74.9" r="1.24"/><circle cx="592.9" cy="74.9" r="1.24"/></g>
<path d="M556.9,74.5L559.1,74.9 M560.7,74.5L560.8,74.9 M562.6,74.5L564.4,74.9 M566.4,74.5L566.2,74.9 M568.3,74.5L569.8,74.9 M572.2,74.5L571.5,74.9 M574.1,74.5L575.1,74.9 M577.9,74.5L576.9,74.9 M579.8,74.5L580.5,74.9 M583.7,74.5L582.2,74.9 M585.6,74.5L585.8,74.9 M589.4,74.5L587.6,74.9 M591.3,74.5L591.2,74.9 M595.1,74.5L592.9,74.9 M554.9,74.5L556.9,74.5 M560.7,74.5L562.6,74.5 M566.4,74.5L568.3,74.5 M572.2,74.5L574.1,74.5 M577.9,74.5L579.8,74.5 M583.7,74.5L585.6,74.5 M589.4,74.5L591.3,74.5 M595.1,74.5L597.1,74.5" stroke="#6b7073" stroke-width="0.5" fill="none"/>
<g fill="url(#atom)"><circle cx="554.9" cy="74.5" r="1.29"/><circle cx="556.9" cy="74.5" r="1.29"/><circle cx="560.7" cy="74.5" r="1.29"/><circle cx="562.6" cy="74.5" r="1.29"/><circle cx="566.4" cy="74.5" r="1.29"/><circle cx="568.3" cy="74.5" r="1.29"/><circle cx="572.2" cy="74.5" r="1.29"/><circle cx="574.1" cy="74.5" r="1.29"/><circle cx="577.9" cy="74.5" r="1.29"/><circle cx="579.8" cy="74.5" r="1.29"/><circle cx="583.7" cy="74.5" r="1.29"/><circle cx="585.6" cy="74.5" r="1.29"/><circle cx="589.4" cy="74.5" r="1.29"/><circle cx="591.3" cy="74.5" r="1.29"/><circle cx="595.1" cy="74.5" r="1.29"/><circle cx="597.1" cy="74.5" r="1.29"/></g>
<path d="M556.3,74.1L556.9,74.5 M558.4,74.1L560.7,74.5 M562.5,74.1L562.6,74.5 M564.6,74.1L566.4,74.5 M568.7,74.1L568.3,74.5 M570.8,74.1L572.2,74.5 M575.0,74.1L574.1,74.5 M577.0,74.1L577.9,74.5 M581.2,74.1L579.8,74.5 M583.3,74.1L583.7,74.5 M587.4,74.1L585.6,74.5 M589.5,74.1L589.4,74.5 M593.6,74.1L591.3,74.5 M595.7,74.1L595.1,74.5 M556.3,74.1L558.4,74.1 M562.5,74.1L564.6,74.1 M568.7,74.1L570.8,74.1 M575.0,74.1L577.0,74.1 M581.2,74.1L583.3,74.1 M587.4,74.1L589.5,74.1 M593.6,74.1L595.7,74.1" stroke="#6b7073" stroke-width="0.5" fill="none"/>
<g fill="url(#atom)"><circle cx="556.3" cy="74.1" r="1.36"/><circle cx="558.4" cy="74.1" r="1.36"/><circle cx="562.5" cy="74.1" r="1.36"/><circle cx="564.6" cy="74.1" r="1.36"/><circle cx="568.7" cy="74.1" r="1.36"/><circle cx="570.8" cy="74.1" r="1.36"/><circle cx="575.0" cy="74.1" r="1.36"/><circle cx="577.0" cy="74.1" r="1.36"/><circle cx="581.2" cy="74.1" r="1.36"/><circle cx="583.3" cy="74.1" r="1.36"/><circle cx="587.4" cy="74.1" r="1.36"/><circle cx="589.5" cy="74.1" r="1.36"/><circle cx="593.6" cy="74.1" r="1.36"/><circle cx="595.7" cy="74.1" r="1.36"/></g>
<path d="M553.3,73.5L556.3,74.1 M557.8,73.5L558.4,74.1 M560.1,73.5L562.5,74.1 M564.6,73.5L564.6,74.1 M566.9,73.5L568.7,74.1 M571.5,73.5L570.8,74.1 M573.7,73.5L575.0,74.1 M578.3,73.5L577.0,74.1 M580.5,73.5L581.2,74.1 M585.1,73.5L583.3,74.1 M587.4,73.5L587.4,74.1 M591.9,73.5L589.5,74.1 M594.2,73.5L593.6,74.1 M598.7,73.5L595.7,74.1 M551.0,73.5L553.3,73.5 M557.8,73.5L560.1,73.5 M564.6,73.5L566.9,73.5 M571.5,73.5L573.7,73.5 M578.3,73.5L580.5,73.5 M585.1,73.5L587.4,73.5 M591.9,73.5L594.2,73.5 M598.7,73.5L601.0,73.5" stroke="#6b7073" stroke-width="0.5" fill="none"/>
<g fill="url(#atom)"><circle cx="551.0" cy="73.5" r="1.43"/><circle cx="553.3" cy="73.5" r="1.43"/><circle cx="557.8" cy="73.5" r="1.43"/><circle cx="560.1" cy="73.5" r="1.43"/><circle cx="564.6" cy="73.5" r="1.43"/><circle cx="566.9" cy="73.5" r="1.43"/><circle cx="571.5" cy="73.5" r="1.43"/><circle cx="573.7" cy="73.5" r="1.43"/><circle cx="578.3" cy="73.5" r="1.43"/><circle cx="580.5" cy="73.5" r="1.43"/><circle cx="585.1" cy="73.5" r="1.43"/><circle cx="587.4" cy="73.5" r="1.43"/><circle cx="591.9" cy="73.5" r="1.43"/><circle cx="594.2" cy="73.5" r="1.43"/><circle cx="598.7" cy="73.5" r="1.43"/><circle cx="601.0" cy="73.5" r="1.43"/></g>
<path d="M552.0,72.8L553.3,73.5 M554.5,72.8L557.8,73.5 M559.6,72.8L560.1,73.5 M562.1,72.8L564.6,73.5 M567.2,72.8L566.9,73.5 M569.7,72.8L571.5,73.5 M574.7,72.8L573.7,73.5 M577.3,72.8L578.3,73.5 M582.3,72.8L580.5,73.5 M584.8,72.8L585.1,73.5 M589.9,72.8L587.4,73.5 M592.4,72.8L591.9,73.5 M597.5,72.8L594.2,73.5 M600.0,72.8L598.7,73.5 M552.0,72.8L554.5,72.8 M559.6,72.8L562.1,72.8 M567.2,72.8L569.7,72.8 M574.7,72.8L577.3,72.8 M582.3,72.8L584.8,72.8 M589.9,72.8L592.4,72.8 M597.5,72.8L600.0,72.8" stroke="#6b7073" stroke-width="0.5" fill="none"/>
<g fill="url(#atom)"><circle cx="552.0" cy="72.8" r="1.53"/><circle cx="554.5" cy="72.8" r="1.53"/><circle cx="559.6" cy="72.8" r="1.53"/><circle cx="562.1" cy="72.8" r="1.53"/><circle cx="567.2" cy="72.8" r="1.53"/><circle cx="569.7" cy="72.8" r="1.53"/><circle cx="574.7" cy="72.8" r="1.53"/><circle cx="577.3" cy="72.8" r="1.53"/><circle cx="582.3" cy="72.8" r="1.53"/><circle cx="584.8" cy="72.8" r="1.53"/><circle cx="589.9" cy="72.8" r="1.53"/><circle cx="592.4" cy="72.8" r="1.53"/><circle cx="597.5" cy="72.8" r="1.53"/><circle cx="600.0" cy="72.8" r="1.53"/></g>
<path d="M547.4,71.9L552.0,72.8 M553.1,71.9L554.5,72.8 M556.0,71.9L559.6,72.8 M561.7,71.9L562.1,72.8 M564.6,71.9L567.2,72.8 M570.3,71.9L569.7,72.8 M573.1,71.9L574.7,72.8 M578.9,71.9L577.3,72.8 M581.7,71.9L582.3,72.8 M587.4,71.9L584.8,72.8 M590.3,71.9L589.9,72.8 M596.0,71.9L592.4,72.8 M598.9,71.9L597.5,72.8 M604.6,71.9L600.0,72.8 M544.6,71.9L547.4,71.9 M553.1,71.9L556.0,71.9 M561.7,71.9L564.6,71.9 M570.3,71.9L573.1,71.9 M578.9,71.9L581.7,71.9 M587.4,71.9L590.3,71.9 M596.0,71.9L598.9,71.9 M604.6,71.9L607.4,71.9" stroke="#6b7073" stroke-width="0.5" fill="none"/>
<g fill="url(#atom)"><circle cx="544.6" cy="71.9" r="1.66"/><circle cx="547.4" cy="71.9" r="1.66"/><circle cx="553.1" cy="71.9" r="1.66"/><circle cx="556.0" cy="71.9" r="1.66"/><circle cx="561.7" cy="71.9" r="1.66"/><circle cx="564.6" cy="71.9" r="1.66"/><circle cx="570.3" cy="71.9" r="1.66"/><circle cx="573.1" cy="71.9" r="1.66"/><circle cx="578.9" cy="71.9" r="1.66"/><circle cx="581.7" cy="71.9" r="1.66"/><circle cx="587.4" cy="71.9" r="1.66"/><circle cx="590.3" cy="71.9" r="1.66"/><circle cx="596.0" cy="71.9" r="1.66"/><circle cx="598.9" cy="71.9" r="1.66"/><circle cx="604.6" cy="71.9" r="1.66"/><circle cx="607.4" cy="71.9" r="1.66"/></g>
<path d="M544.5,70.6L547.4,71.9 M547.8,70.6L553.1,71.9 M554.5,70.6L556.0,71.9 M557.8,70.6L561.7,71.9 M564.4,70.6L564.6,71.9 M567.7,70.6L570.3,71.9 M574.3,70.6L573.1,71.9 M577.7,70.6L578.9,71.9 M584.3,70.6L581.7,71.9 M587.6,70.6L587.4,71.9 M594.2,70.6L590.3,71.9 M597.5,70.6L596.0,71.9 M604.2,70.6L598.9,71.9 M607.5,70.6L604.6,71.9 M544.5,70.6L547.8,70.6 M554.5,70.6L557.8,70.6 M564.4,70.6L567.7,70.6 M574.3,70.6L577.7,70.6 M584.3,70.6L587.6,70.6 M594.2,70.6L597.5,70.6 M604.2,70.6L607.5,70.6" stroke="#6b7073" stroke-width="0.5" fill="none"/>
<g fill="url(#atom)"><circle cx="544.5" cy="70.6" r="1.84"/><circle cx="547.8" cy="70.6" r="1.84"/><circle cx="554.5" cy="70.6" r="1.84"/><circle cx="557.8" cy="70.6" r="1.84"/><circle cx="564.4" cy="70.6" r="1.84"/><circle cx="567.7" cy="70.6" r="1.84"/><circle cx="574.3" cy="70.6" r="1.84"/><circle cx="577.7" cy="70.6" r="1.84"/><circle cx="584.3" cy="70.6" r="1.84"/><circle cx="587.6" cy="70.6" r="1.84"/><circle cx="594.2" cy="70.6" r="1.84"/><circle cx="597.5" cy="70.6" r="1.84"/><circle cx="604.2" cy="70.6" r="1.84"/><circle cx="607.5" cy="70.6" r="1.84"/></g>
<path d="M536.2,68.7L544.5,70.6 M544.1,68.7L547.8,70.6 M548.1,68.7L554.5,70.6 M556.1,68.7L557.8,70.6 M560.1,68.7L564.4,70.6 M568.0,68.7L567.7,70.6 M572.0,68.7L574.3,70.6 M580.0,68.7L577.7,70.6 M584.0,68.7L584.3,70.6 M591.9,68.7L587.6,70.6 M595.9,68.7L594.2,70.6 M603.9,68.7L597.5,70.6 M607.9,68.7L604.2,70.6 M615.8,68.7L607.5,70.6 M532.2,68.7L536.2,68.7 M544.1,68.7L548.1,68.7 M556.1,68.7L560.1,68.7 M568.0,68.7L572.0,68.7 M580.0,68.7L584.0,68.7 M591.9,68.7L595.9,68.7 M603.9,68.7L607.9,68.7 M615.8,68.7L619.8,68.7" stroke="#6b7073" stroke-width="0.5" fill="none"/>
<g fill="url(#atom)"><circle cx="532.2" cy="68.7" r="2.10"/><circle cx="536.2" cy="68.7" r="2.10"/><circle cx="544.1" cy="68.7" r="2.10"/><circle cx="548.1" cy="68.7" r="2.10"/><circle cx="556.1" cy="68.7" r="2.10"/><circle cx="560.1" cy="68.7" r="2.10"/><circle cx="568.0" cy="68.7" r="2.10"/><circle cx="572.0" cy="68.7" r="2.10"/><circle cx="580.0" cy="68.7" r="2.10"/><circle cx="584.0" cy="68.7" r="2.10"/><circle cx="591.9" cy="68.7" r="2.10"/><circle cx="595.9" cy="68.7" r="2.10"/><circle cx="603.9" cy="68.7" r="2.10"/><circle cx="607.9" cy="68.7" r="2.10"/><circle cx="615.8" cy="68.7" r="2.10"/><circle cx="619.8" cy="68.7" r="2.10"/></g>
</g>
<g transform="rotate(-24.84 519.5 35.8)">
<path d="M503.3,46.8L505.0,46.8 M508.4,46.8L510.1,46.8 M513.5,46.8L515.2,46.8 M518.6,46.8L520.4,46.8 M523.8,46.8L525.5,46.8 M528.9,46.8L530.6,46.8 M534.0,46.8L535.7,46.8" stroke="#6b7073" stroke-width="0.5" fill="none"/>
<g fill="url(#atom)"><circle cx="503.3" cy="46.8" r="1.30"/><circle cx="505.0" cy="46.8" r="1.30"/><circle cx="508.4" cy="46.8" r="1.30"/><circle cx="510.1" cy="46.8" r="1.30"/><circle cx="513.5" cy="46.8" r="1.30"/><circle cx="515.2" cy="46.8" r="1.30"/><circle cx="518.6" cy="46.8" r="1.30"/><circle cx="520.4" cy="46.8" r="1.30"/><circle cx="523.8" cy="46.8" r="1.30"/><circle cx="525.5" cy="46.8" r="1.30"/><circle cx="528.9" cy="46.8" r="1.30"/><circle cx="530.6" cy="46.8" r="1.30"/><circle cx="534.0" cy="46.8" r="1.30"/><circle cx="535.7" cy="46.8" r="1.30"/></g>
<path d="M501.7,46.4L503.3,46.8 M505.2,46.4L505.0,46.8 M507.0,46.4L508.4,46.8 M510.6,46.4L510.1,46.8 M512.4,46.4L513.5,46.8 M515.9,46.4L515.2,46.8 M517.7,46.4L518.6,46.8 M521.3,46.4L520.4,46.8 M523.1,46.4L523.8,46.8 M526.6,46.4L525.5,46.8 M528.4,46.4L528.9,46.8 M532.0,46.4L530.6,46.8 M533.8,46.4L534.0,46.8 M537.3,46.4L535.7,46.8 M499.9,46.4L501.7,46.4 M505.2,46.4L507.0,46.4 M510.6,46.4L512.4,46.4 M515.9,46.4L517.7,46.4 M521.3,46.4L523.1,46.4 M526.6,46.4L528.4,46.4 M532.0,46.4L533.8,46.4 M537.3,46.4L539.1,46.4" stroke="#6b7073" stroke-width="0.5" fill="none"/>
<g fill="url(#atom)"><circle cx="499.9" cy="46.4" r="1.32"/><circle cx="501.7" cy="46.4" r="1.32"/><circle cx="505.2" cy="46.4" r="1.32"/><circle cx="507.0" cy="46.4" r="1.32"/><circle cx="510.6" cy="46.4" r="1.32"/><circle cx="512.4" cy="46.4" r="1.32"/><circle cx="515.9" cy="46.4" r="1.32"/><circle cx="517.7" cy="46.4" r="1.32"/><circle cx="521.3" cy="46.4" r="1.32"/><circle cx="523.1" cy="46.4" r="1.32"/><circle cx="526.6" cy="46.4" r="1.32"/><circle cx="528.4" cy="46.4" r="1.32"/><circle cx="532.0" cy="46.4" r="1.32"/><circle cx="533.8" cy="46.4" r="1.32"/><circle cx="537.3" cy="46.4" r="1.32"/><circle cx="539.1" cy="46.4" r="1.32"/></g>
<path d="M501.7,46.0L501.7,46.4 M503.6,46.0L505.2,46.4 M507.3,46.0L507.0,46.4 M509.2,46.0L510.6,46.4 M512.9,46.0L512.4,46.4 M514.8,46.0L515.9,46.4 M518.6,46.0L517.7,46.4 M520.4,46.0L521.3,46.4 M524.2,46.0L523.1,46.4 M526.1,46.0L526.6,46.4 M529.8,46.0L528.4,46.4 M531.7,46.0L532.0,46.4 M535.4,46.0L533.8,46.4 M537.3,46.0L537.3,46.4 M501.7,46.0L503.6,46.0 M507.3,46.0L509.2,46.0 M512.9,46.0L514.8,46.0 M518.6,46.0L520.4,46.0 M524.2,46.0L526.1,46.0 M529.8,46.0L531.7,46.0 M535.4,46.0L537.3,46.0" stroke="#6b7073" stroke-width="0.5" fill="none"/>
<g fill="url(#atom)"><circle cx="501.7" cy="46.0" r="1.34"/><circle cx="503.6" cy="46.0" r="1.34"/><circle cx="507.3" cy="46.0" r="1.34"/><circle cx="509.2" cy="46.0" r="1.34"/><circle cx="512.9" cy="46.0" r="1.34"/><circle cx="514.8" cy="46.0" r="1.34"/><circle cx="518.6" cy="46.0" r="1.34"/><circle cx="520.4" cy="46.0" r="1.34"/><circle cx="524.2" cy="46.0" r="1.34"/><circle cx="526.1" cy="46.0" r="1.34"/><circle cx="529.8" cy="46.0" r="1.34"/><circle cx="531.7" cy="46.0" r="1.34"/><circle cx="535.4" cy="46.0" r="1.34"/><circle cx="537.3" cy="46.0" r="1.34"/></g>
<path d="M499.7,45.5L501.7,46.0 M503.7,45.5L503.6,46.0 M505.7,45.5L507.3,46.0 M509.6,45.5L509.2,46.0 M511.6,45.5L512.9,46.0 M515.5,45.5L514.8,46.0 M517.5,45.5L518.6,46.0 M521.5,45.5L520.4,46.0 M523.5,45.5L524.2,46.0 M527.4,45.5L526.1,46.0 M529.4,45.5L529.8,46.0 M533.3,45.5L531.7,46.0 M535.3,45.5L535.4,46.0 M539.3,45.5L537.3,46.0 M497.8,45.5L499.7,45.5 M503.7,45.5L505.7,45.5 M509.6,45.5L511.6,45.5 M515.5,45.5L517.5,45.5 M521.5,45.5L523.5,45.5 M527.4,45.5L529.4,45.5 M533.3,45.5L535.3,45.5 M539.3,45.5L541.2,45.5" stroke="#6b7073" stroke-width="0.5" fill="none"/>
<g fill="url(#atom)"><circle cx="497.8" cy="45.5" r="1.37"/><circle cx="499.7" cy="45.5" r="1.37"/><circle cx="503.7" cy="45.5" r="1.37"/><circle cx="505.7" cy="45.5" r="1.37"/><circle cx="509.6" cy="45.5" r="1.37"/><circle cx="511.6" cy="45.5" r="1.37"/><circle cx="515.5" cy="45.5" r="1.37"/><circle cx="517.5" cy="45.5" r="1.37"/><circle cx="521.5" cy="45.5" r="1.37"/><circle cx="523.5" cy="45.5" r="1.37"/><circle cx="527.4" cy="45.5" r="1.37"/><circle cx="529.4" cy="45.5" r="1.37"/><circle cx="533.3" cy="45.5" r="1.37"/><circle cx="535.3" cy="45.5" r="1.37"/><circle cx="539.3" cy="45.5" r="1.37"/><circle cx="541.2" cy="45.5" r="1.37"/></g>
<path d="M499.6,44.9L499.7,45.5 M501.7,44.9L503.7,45.5 M505.9,44.9L505.7,45.5 M508.0,44.9L509.6,45.5 M512.2,44.9L511.6,45.5 M514.3,44.9L515.5,45.5 M518.5,44.9L517.5,45.5 M520.5,44.9L521.5,45.5 M524.7,44.9L523.5,45.5 M526.8,44.9L527.4,45.5 M531.0,44.9L529.4,45.5 M533.1,44.9L533.3,45.5 M537.3,44.9L535.3,45.5 M539.4,44.9L539.3,45.5 M499.6,44.9L501.7,44.9 M505.9,44.9L508.0,44.9 M512.2,44.9L514.3,44.9 M518.5,44.9L520.5,44.9 M524.7,44.9L526.8,44.9 M531.0,44.9L533.1,44.9 M537.3,44.9L539.4,44.9" stroke="#6b7073" stroke-width="0.5" fill="none"/>
<g fill="url(#atom)"><circle cx="499.6" cy="44.9" r="1.40"/><circle cx="501.7" cy="44.9" r="1.40"/><circle cx="505.9" cy="44.9" r="1.40"/><circle cx="508.0" cy="44.9" r="1.40"/><circle cx="512.2" cy="44.9" r="1.40"/><circle cx="514.3" cy="44.9" r="1.40"/><circle cx="518.5" cy="44.9" r="1.40"/><circle cx="520.5" cy="44.9" r="1.40"/><circle cx="524.7" cy="44.9" r="1.40"/><circle cx="526.8" cy="44.9" r="1.40"/><circle cx="531.0" cy="44.9" r="1.40"/><circle cx="533.1" cy="44.9" r="1.40"/><circle cx="537.3" cy="44.9" r="1.40"/><circle cx="539.4" cy="44.9" r="1.40"/></g>
<path d="M497.1,44.3L499.6,44.9 M501.6,44.3L501.7,44.9 M503.9,44.3L505.9,44.9 M508.3,44.3L508.0,44.9 M510.6,44.3L512.2,44.9 M515.0,44.3L514.3,44.9 M517.3,44.3L518.5,44.9 M521.7,44.3L520.5,44.9 M524.0,44.3L524.7,44.9 M528.4,44.3L526.8,44.9 M530.7,44.3L531.0,44.9 M535.1,44.3L533.1,44.9 M537.4,44.3L537.3,44.9 M541.9,44.3L539.4,44.9 M494.9,44.3L497.1,44.3 M501.6,44.3L503.9,44.3 M508.3,44.3L510.6,44.3 M515.0,44.3L517.3,44.3 M521.7,44.3L524.0,44.3 M528.4,44.3L530.7,44.3 M535.1,44.3L537.4,44.3 M541.9,44.3L544.1,44.3" stroke="#6b7073" stroke-width="0.5" fill="none"/>
<g fill="url(#atom)"><circle cx="494.9" cy="44.3" r="1.44"/><circle cx="497.1" cy="44.3" r="1.44"/><circle cx="501.6" cy="44.3" r="1.44"/><circle cx="503.9" cy="44.3" r="1.44"/><circle cx="508.3" cy="44.3" r="1.44"/><circle cx="510.6" cy="44.3" r="1.44"/><circle cx="515.0" cy="44.3" r="1.44"/><circle cx="517.3" cy="44.3" r="1.44"/><circle cx="521.7" cy="44.3" r="1.44"/><circle cx="524.0" cy="44.3" r="1.44"/><circle cx="528.4" cy="44.3" r="1.44"/><circle cx="530.7" cy="44.3" r="1.44"/><circle cx="535.1" cy="44.3" r="1.44"/><circle cx="537.4" cy="44.3" r="1.44"/><circle cx="541.9" cy="44.3" r="1.44"/><circle cx="544.1" cy="44.3" r="1.44"/></g>
<path d="M496.7,43.5L497.1,44.3 M499.1,43.5L501.6,44.3 M503.9,43.5L503.9,44.3 M506.3,43.5L508.3,44.3 M511.1,43.5L510.6,44.3 M513.5,43.5L515.0,44.3 M518.3,43.5L517.3,44.3 M520.7,43.5L521.7,44.3 M525.5,43.5L524.0,44.3 M527.9,43.5L528.4,44.3 M532.7,43.5L530.7,44.3 M535.1,43.5L535.1,44.3 M539.9,43.5L537.4,44.3 M542.3,43.5L541.9,44.3 M496.7,43.5L499.1,43.5 M503.9,43.5L506.3,43.5 M511.1,43.5L513.5,43.5 M518.3,43.5L520.7,43.5 M525.5,43.5L527.9,43.5 M532.7,43.5L535.1,43.5 M539.9,43.5L542.3,43.5" stroke="#6b7073" stroke-width="0.5" fill="none"/>
<g fill="url(#atom)"><circle cx="496.7" cy="43.5" r="1.48"/><circle cx="499.1" cy="43.5" r="1.48"/><circle cx="503.9" cy="43.5" r="1.48"/><circle cx="506.3" cy="43.5" r="1.48"/><circle cx="511.1" cy="43.5" r="1.48"/><circle cx="513.5" cy="43.5" r="1.48"/><circle cx="518.3" cy="43.5" r="1.48"/><circle cx="520.7" cy="43.5" r="1.48"/><circle cx="525.5" cy="43.5" r="1.48"/><circle cx="527.9" cy="43.5" r="1.48"/><circle cx="532.7" cy="43.5" r="1.48"/><circle cx="535.1" cy="43.5" r="1.48"/><circle cx="539.9" cy="43.5" r="1.48"/><circle cx="542.3" cy="43.5" r="1.48"/></g>
<path d="M493.5,42.6L496.7,43.5 M498.7,42.6L499.1,43.5 M501.3,42.6L503.9,43.5 M506.5,42.6L506.3,43.5 M509.1,42.6L511.1,43.5 M514.3,42.6L513.5,43.5 M516.9,42.6L518.3,43.5 M522.1,42.6L520.7,43.5 M524.7,42.6L525.5,43.5 M529.9,42.6L527.9,43.5 M532.5,42.6L532.7,43.5 M537.7,42.6L535.1,43.5 M540.3,42.6L539.9,43.5 M545.5,42.6L542.3,43.5 M490.9,42.6L493.5,42.6 M498.7,42.6L501.3,42.6 M506.5,42.6L509.1,42.6 M514.3,42.6L516.9,42.6 M522.1,42.6L524.7,42.6 M529.9,42.6L532.5,42.6 M537.7,42.6L540.3,42.6 M545.5,42.6L548.1,42.6" stroke="#6b7073" stroke-width="0.5" fill="none"/>
<g fill="url(#atom)"><circle cx="490.9" cy="42.6" r="1.53"/><circle cx="493.5" cy="42.6" r="1.53"/><circle cx="498.7" cy="42.6" r="1.53"/><circle cx="501.3" cy="42.6" r="1.53"/><circle cx="506.5" cy="42.6" r="1.53"/><circle cx="509.1" cy="42.6" r="1.53"/><circle cx="514.3" cy="42.6" r="1.53"/><circle cx="516.9" cy="42.6" r="1.53"/><circle cx="522.1" cy="42.6" r="1.53"/><circle cx="524.7" cy="42.6" r="1.53"/><circle cx="529.9" cy="42.6" r="1.53"/><circle cx="532.5" cy="42.6" r="1.53"/><circle cx="537.7" cy="42.6" r="1.53"/><circle cx="540.3" cy="42.6" r="1.53"/><circle cx="545.5" cy="42.6" r="1.53"/><circle cx="548.1" cy="42.6" r="1.53"/></g>
<path d="M492.5,41.4L493.5,42.6 M495.4,41.4L498.7,42.6 M501.0,41.4L501.3,42.6 M503.9,41.4L506.5,42.6 M509.6,41.4L509.1,42.6 M512.4,41.4L514.3,42.6 M518.1,41.4L516.9,42.6 M520.9,41.4L522.1,42.6 M526.6,41.4L524.7,42.6 M529.4,41.4L529.9,42.6 M535.1,41.4L532.5,42.6 M538.0,41.4L537.7,42.6 M543.6,41.4L540.3,42.6 M546.5,41.4L545.5,42.6 M492.5,41.4L495.4,41.4 M501.0,41.4L503.9,41.4 M509.6,41.4L512.4,41.4 M518.1,41.4L520.9,41.4 M526.6,41.4L529.4,41.4 M535.1,41.4L538.0,41.4 M543.6,41.4L546.5,41.4" stroke="#6b7073" stroke-width="0.5" fill="none"/>
<g fill="url(#atom)"><circle cx="492.5" cy="41.4" r="1.59"/><circle cx="495.4" cy="41.4" r="1.59"/><circle cx="501.0" cy="41.4" r="1.59"/><circle cx="503.9" cy="41.4" r="1.59"/><circle cx="509.6" cy="41.4" r="1.59"/><circle cx="512.4" cy="41.4" r="1.59"/><circle cx="518.1" cy="41.4" r="1.59"/><circle cx="520.9" cy="41.4" r="1.59"/><circle cx="526.6" cy="41.4" r="1.59"/><circle cx="529.4" cy="41.4" r="1.59"/><circle cx="535.1" cy="41.4" r="1.59"/><circle cx="538.0" cy="41.4" r="1.59"/><circle cx="543.6" cy="41.4" r="1.59"/><circle cx="546.5" cy="41.4" r="1.59"/></g>
<path d="M488.1,40.0L492.5,41.4 M494.4,40.0L495.4,41.4 M497.5,40.0L501.0,41.4 M503.8,40.0L503.9,41.4 M506.9,40.0L509.6,41.4 M513.2,40.0L512.4,41.4 M516.4,40.0L518.1,41.4 M522.6,40.0L520.9,41.4 M525.8,40.0L526.6,41.4 M532.1,40.0L529.4,41.4 M535.2,40.0L535.1,41.4 M541.5,40.0L538.0,41.4 M544.6,40.0L543.6,41.4 M550.9,40.0L546.5,41.4 M484.9,40.0L488.1,40.0 M494.4,40.0L497.5,40.0 M503.8,40.0L506.9,40.0 M513.2,40.0L516.4,40.0 M522.6,40.0L525.8,40.0 M532.1,40.0L535.2,40.0 M541.5,40.0L544.6,40.0 M550.9,40.0L554.1,40.0" stroke="#6b7073" stroke-width="0.5" fill="none"/>
<g fill="url(#atom)"><circle cx="484.9" cy="40.0" r="1.67"/><circle cx="488.1" cy="40.0" r="1.67"/><circle cx="494.4" cy="40.0" r="1.67"/><circle cx="497.5" cy="40.0" r="1.67"/><circle cx="503.8" cy="40.0" r="1.67"/><circle cx="506.9" cy="40.0" r="1.67"/><circle cx="513.2" cy="40.0" r="1.67"/><circle cx="516.4" cy="40.0" r="1.67"/><circle cx="522.6" cy="40.0" r="1.67"/><circle cx="525.8" cy="40.0" r="1.67"/><circle cx="532.1" cy="40.0" r="1.67"/><circle cx="535.2" cy="40.0" r="1.67"/><circle cx="541.5" cy="40.0" r="1.67"/><circle cx="544.6" cy="40.0" r="1.67"/><circle cx="550.9" cy="40.0" r="1.67"/><circle cx="554.1" cy="40.0" r="1.67"/></g>
<path d="M485.9,38.2L488.1,40.0 M489.5,38.2L494.4,40.0 M496.5,38.2L497.5,40.0 M500.1,38.2L503.8,40.0 M507.1,38.2L506.9,40.0 M510.7,38.2L513.2,40.0 M517.7,38.2L516.4,40.0 M521.3,38.2L522.6,40.0 M528.3,38.2L525.8,40.0 M531.9,38.2L532.1,40.0 M538.9,38.2L535.2,40.0 M542.5,38.2L541.5,40.0 M549.5,38.2L544.6,40.0 M553.1,38.2L550.9,40.0 M485.9,38.2L489.5,38.2 M496.5,38.2L500.1,38.2 M507.1,38.2L510.7,38.2 M517.7,38.2L521.3,38.2 M528.3,38.2L531.9,38.2 M538.9,38.2L542.5,38.2 M549.5,38.2L553.1,38.2" stroke="#6b7073" stroke-width="0.5" fill="none"/>
<g fill="url(#atom)"><circle cx="485.9" cy="38.2" r="1.77"/><circle cx="489.5" cy="38.2" r="1.77"/><circle cx="496.5" cy="38.2" r="1.77"/><circle cx="500.1" cy="38.2" r="1.77"/><circle cx="507.1" cy="38.2" r="1.77"/><circle cx="510.7" cy="38.2" r="1.77"/><circle cx="517.7" cy="38.2" r="1.77"/><circle cx="521.3" cy="38.2" r="1.77"/><circle cx="528.3" cy="38.2" r="1.77"/><circle cx="531.9" cy="38.2" r="1.77"/><circle cx="538.9" cy="38.2" r="1.77"/><circle cx="542.5" cy="38.2" r="1.77"/><circle cx="549.5" cy="38.2" r="1.77"/><circle cx="553.1" cy="38.2" r="1.77"/></g>
<path d="M478.9,35.8L485.9,38.2 M487.0,35.8L489.5,38.2 M491.1,35.8L496.5,38.2 M499.2,35.8L500.1,38.2 M503.3,35.8L507.1,38.2 M511.4,35.8L510.7,38.2 M515.4,35.8L517.7,38.2 M523.6,35.8L521.3,38.2 M527.6,35.8L528.3,38.2 M535.7,35.8L531.9,38.2 M539.8,35.8L538.9,38.2 M547.9,35.8L542.5,38.2 M552.0,35.8L549.5,38.2 M560.1,35.8L553.1,38.2 M474.9,35.8L478.9,35.8 M487.0,35.8L491.1,35.8 M499.2,35.8L503.3,35.8 M511.4,35.8L515.4,35.8 M523.6,35.8L527.6,35.8 M535.7,35.8L539.8,35.8 M547.9,35.8L552.0,35.8 M560.1,35.8L564.1,35.8" stroke="#6b7073" stroke-width="0.5" fill="none"/>
<g fill="url(#atom)"><circle cx="474.9" cy="35.8" r="1.90"/><circle cx="478.9" cy="35.8" r="1.90"/><circle cx="487.0" cy="35.8" r="1.90"/><circle cx="491.1" cy="35.8" r="1.90"/><circle cx="499.2" cy="35.8" r="1.90"/><circle cx="503.3" cy="35.8" r="1.90"/><circle cx="511.4" cy="35.8" r="1.90"/><circle cx="515.4" cy="35.8" r="1.90"/><circle cx="523.6" cy="35.8" r="1.90"/><circle cx="527.6" cy="35.8" r="1.90"/><circle cx="535.7" cy="35.8" r="1.90"/><circle cx="539.8" cy="35.8" r="1.90"/><circle cx="547.9" cy="35.8" r="1.90"/><circle cx="552.0" cy="35.8" r="1.90"/><circle cx="560.1" cy="35.8" r="1.90"/><circle cx="564.1" cy="35.8" r="1.90"/></g>
</g>
<text x="2.8" y="178.2" font-size="10.8" text-anchor="start" font-weight="bold" font-style="normal" fill="#000" textLength="7" lengthAdjust="spacingAndGlyphs" stroke="#000" stroke-width="0.45">b</text>
<text x="17" y="178.5" font-size="8.3" text-anchor="start" font-weight="bold" font-style="normal" fill="#000" textLength="54.3" lengthAdjust="spacingAndGlyphs" stroke="#000" stroke-width="0.3">Intercalation</text>
<text x="38.8" y="194.5" font-size="8.3" text-anchor="start" font-weight="normal" font-style="normal" fill="#222" textLength="85" lengthAdjust="spacingAndGlyphs" stroke="#222" stroke-width="0.16">Chemical intercalation</text>
<path d="M47.2,252 V326.5 Q47.2,335.5 60.2,335.8 Q81.7,337.7 103.2,335.8 Q116.2,335.5 116.2,326.5 V252Z" fill="#c6d6ea" stroke="#a9bcd6" stroke-width="0.6"/>
<path d="M49.400000000000006,258.5 V324.3 Q49.400000000000006,333.3 61.400000000000006,333.3 Q81.7,335.1 102.0,333.3 Q114.0,333.3 114.0,324.3 V258.5 Q81.7,263.5 49.400000000000006,258.5Z" fill="#b4cfe6"/>
<path d="M49.400000000000006,258.5 Q81.7,263.5 114.0,258.5 L114.0,256 L49.400000000000006,256Z" fill="#d3e1f0"/>
<rect x="104.9" y="263" width="1.6" height="61" rx="0.8" fill="#dce8f5"/>
<rect x="108.0" y="261" width="0.8" height="66" rx="0.4" fill="#c9dcee"/>
<rect x="50.7" y="262" width="0.9" height="64" rx="0.4" fill="#c2d5ea"/>
<path d="M46.10000000000001,250.2 V249 H117.3 V253.6 A35.599999999999994,5.2 0 0 1 46.10000000000001,253.6Z" fill="#58667f" stroke="#58667f" stroke-width="0.8" stroke-linejoin="round"/>
<path d="M47.400000000000006,235.7 V249.8 A34.3,4.6 0 0 0 116.0,249.8 V235.7Z" fill="url(#lidside)"/>
<line x1="48.8" y1="238.7" x2="48.8" y2="250.5" stroke="#8897b2" stroke-width="0.8"/>
<line x1="52.8" y1="240.0" x2="52.8" y2="251.7" stroke="#8897b2" stroke-width="0.8"/>
<line x1="59.2" y1="241.1" x2="59.2" y2="252.6" stroke="#8897b2" stroke-width="0.8"/>
<line x1="67.5" y1="241.9" x2="67.5" y2="253.3" stroke="#8897b2" stroke-width="0.8"/>
<line x1="76.8" y1="242.3" x2="76.8" y2="253.7" stroke="#8897b2" stroke-width="0.8"/>
<line x1="86.6" y1="242.3" x2="86.6" y2="253.7" stroke="#8897b2" stroke-width="0.8"/>
<line x1="95.9" y1="241.9" x2="95.9" y2="253.3" stroke="#8897b2" stroke-width="0.8"/>
<line x1="104.2" y1="241.1" x2="104.2" y2="252.6" stroke="#8897b2" stroke-width="0.8"/>
<line x1="110.6" y1="240.0" x2="110.6" y2="251.7" stroke="#8897b2" stroke-width="0.8"/>
<line x1="114.6" y1="238.7" x2="114.6" y2="250.5" stroke="#8897b2" stroke-width="0.8"/>
<ellipse cx="81.7" cy="235.7" rx="34.3" ry="6.1" fill="#67768f"/>
<path d="M47.7,236.29999999999998 A34.3,6.1 0 0 0 115.7,236.29999999999998" fill="none" stroke="#8594b0" stroke-width="0.7"/>
<ellipse cx="81.7" cy="235.39999999999998" rx="24.799999999999997" ry="3.5999999999999996" fill="#76849f" stroke="#8d9bb5" stroke-width="0.6"/>
<g transform="translate(63.5,291.5) rotate(35)"><path d="M-9,0 L-2,0" stroke="#bfe0b2" stroke-width="0.8"/><path d="M0,0 L-4.8,-2.3 L-3.6,0 L-4.8,2.3Z" fill="#6fae5c"/></g>
<g transform="translate(63.5,297.3) rotate(0)"><path d="M-9,0 L-2,0" stroke="#bfe0b2" stroke-width="0.8"/><path d="M0,0 L-4.8,-2.3 L-3.6,0 L-4.8,2.3Z" fill="#6fae5c"/></g>
<g transform="translate(63.5,303.5) rotate(-35)"><path d="M-9,0 L-2,0" stroke="#bfe0b2" stroke-width="0.8"/><path d="M0,0 L-4.8,-2.3 L-3.6,0 L-4.8,2.3Z" fill="#6fae5c"/></g>
<g transform="translate(100.5,291) rotate(145)"><path d="M-9,0 L-2,0" stroke="#bfe0b2" stroke-width="0.8"/><path d="M0,0 L-4.8,-2.3 L-3.6,0 L-4.8,2.3Z" fill="#6fae5c"/></g>
<g transform="translate(102,296.3) rotate(180)"><path d="M-9,0 L-2,0" stroke="#bfe0b2" stroke-width="0.8"/><path d="M0,0 L-4.8,-2.3 L-3.6,0 L-4.8,2.3Z" fill="#6fae5c"/></g>
<g transform="translate(101.5,302.5) rotate(215)"><path d="M-9,0 L-2,0" stroke="#bfe0b2" stroke-width="0.8"/><path d="M0,0 L-4.8,-2.3 L-3.6,0 L-4.8,2.3Z" fill="#6fae5c"/></g>
<path d="M64,291.8 l9.324,-2.6 q13.32,-1.4 25.308,0.6 l2.368000000000002,3.2 l-10.36,3.2 q-13.32,-1.6 -26.64,-4.4Z" fill="#dadde1" stroke="#b5b9bf" stroke-width="0.4"/>
<path d="M64.0,291.8 q13.32,0.2 26.64,2.0 l10.36,-3.4 l0,3.0 l-10.36,3.4 q-13.32,-1.8 -26.04,-2.0Z" fill="#c8ccd2" stroke="#9fa3aa" stroke-width="0.45" stroke-linejoin="round"/>
<path d="M64.5,293.45 q13.32,0.2 26.14,2.0 l10.36,-3.4" fill="none" stroke="#b7bbc1" stroke-width="0.4"/>
<path d="M64.5,294.8 q13.32,0.2 26.64,2.0 l10.36,-3.4 l0,3.0 l-10.36,3.4 q-13.32,-1.8 -26.04,-2.0Z" fill="#c8ccd2" stroke="#9fa3aa" stroke-width="0.45" stroke-linejoin="round"/>
<path d="M65.0,296.45 q13.32,0.2 26.14,2.0 l10.36,-3.4" fill="none" stroke="#b7bbc1" stroke-width="0.4"/>
<path d="M65.0,297.8 q13.32,0.2 26.64,2.0 l10.36,-3.4 l0,3.0 l-10.36,3.4 q-13.32,-1.8 -26.04,-2.0Z" fill="#c8ccd2" stroke="#9fa3aa" stroke-width="0.45" stroke-linejoin="round"/>
<path d="M65.5,299.45 q13.32,0.2 26.14,2.0 l10.36,-3.4" fill="none" stroke="#b7bbc1" stroke-width="0.4"/>
<path d="M65.5,300.8 q13.32,0.2 26.64,2.0 l10.36,-3.4 l0,3.0 l-10.36,3.4 q-13.32,-1.8 -26.04,-2.0Z" fill="#c8ccd2" stroke="#9fa3aa" stroke-width="0.45" stroke-linejoin="round"/>
<path d="M66.0,302.45 q13.32,0.2 26.14,2.0 l10.36,-3.4" fill="none" stroke="#b7bbc1" stroke-width="0.4"/>
<path d="M66.0,303.8 q13.32,0.2 26.64,2.0 l10.36,-3.4 l0,3.0 l-10.36,3.4 q-13.32,-1.8 -26.04,-2.0Z" fill="#c8ccd2" stroke="#9fa3aa" stroke-width="0.45" stroke-linejoin="round"/>
<path d="M66.5,305.45 q13.32,0.2 26.14,2.0 l10.36,-3.4" fill="none" stroke="#b7bbc1" stroke-width="0.4"/>
<path d="M79.7,290.5 L79.7,280.2 L123,280.2" fill="none" stroke="#333" stroke-width="1.0"/>
<text x="124" y="283.3" font-size="8.3" text-anchor="start" font-weight="normal" font-style="normal" fill="#222" textLength="16.5" lengthAdjust="spacingAndGlyphs" stroke="#222" stroke-width="0.16">Host</text>
<text x="12" y="299" font-size="8.3" text-anchor="start" font-weight="normal" font-style="normal" fill="#222" textLength="21.5" lengthAdjust="spacingAndGlyphs" stroke="#222" stroke-width="0.16">Guest</text>
<path d="M34.5,296.3 L48,296.3" fill="none" stroke="#333" stroke-width="1.0"/>
<path d="M58.2,317.5 L58.2,343" fill="none" stroke="#333" stroke-width="1.0"/>
<text x="55" y="352" font-size="8.3" text-anchor="start" font-weight="normal" font-style="normal" fill="#222" textLength="30.5" lengthAdjust="spacingAndGlyphs" stroke="#222" stroke-width="0.16">Solution</text>
<text x="55" y="361" font-size="8.3" text-anchor="start" font-weight="normal" font-style="normal" fill="#222" textLength="68.5" lengthAdjust="spacingAndGlyphs" stroke="#222" stroke-width="0.16">(containing guest)</text>
<text x="230.5" y="194.5" font-size="8.3" text-anchor="start" font-weight="normal" font-style="normal" fill="#222" textLength="143" lengthAdjust="spacingAndGlyphs" stroke="#222" stroke-width="0.16">Electrochemical cathode intercalation</text>
<path d="M267.9,252 V326.5 Q267.9,335.5 280.9,335.8 Q302.4,337.7 323.9,335.8 Q336.9,335.5 336.9,326.5 V252Z" fill="#c6d6ea" stroke="#a9bcd6" stroke-width="0.6"/>
<path d="M270.09999999999997,258.5 V324.3 Q270.09999999999997,333.3 282.09999999999997,333.3 Q302.4,335.1 322.7,333.3 Q334.7,333.3 334.7,324.3 V258.5 Q302.4,263.5 270.09999999999997,258.5Z" fill="#b4cfe6"/>
<path d="M270.09999999999997,258.5 Q302.4,263.5 334.7,258.5 L334.7,256 L270.09999999999997,256Z" fill="#d3e1f0"/>
<rect x="325.59999999999997" y="263" width="1.6" height="61" rx="0.8" fill="#dce8f5"/>
<rect x="328.7" y="261" width="0.8" height="66" rx="0.4" fill="#c9dcee"/>
<rect x="271.4" y="262" width="0.9" height="64" rx="0.4" fill="#c2d5ea"/>
<path d="M285.5,255 V276 M321.4,255 V276" stroke="#6f8db3" stroke-width="0.9"/>
<path d="M266.79999999999995,250.2 V249 H338.0 V253.6 A35.599999999999994,5.2 0 0 1 266.79999999999995,253.6Z" fill="#58667f" stroke="#58667f" stroke-width="0.8" stroke-linejoin="round"/>
<path d="M268.09999999999997,235.7 V249.8 A34.3,4.6 0 0 0 336.7,249.8 V235.7Z" fill="url(#lidside)"/>
<line x1="269.5" y1="238.7" x2="269.5" y2="250.5" stroke="#8897b2" stroke-width="0.8"/>
<line x1="273.5" y1="240.0" x2="273.5" y2="251.7" stroke="#8897b2" stroke-width="0.8"/>
<line x1="279.9" y1="241.1" x2="279.9" y2="252.6" stroke="#8897b2" stroke-width="0.8"/>
<line x1="288.2" y1="241.9" x2="288.2" y2="253.3" stroke="#8897b2" stroke-width="0.8"/>
<line x1="297.5" y1="242.3" x2="297.5" y2="253.7" stroke="#8897b2" stroke-width="0.8"/>
<line x1="307.3" y1="242.3" x2="307.3" y2="253.7" stroke="#8897b2" stroke-width="0.8"/>
<line x1="316.6" y1="241.9" x2="316.6" y2="253.3" stroke="#8897b2" stroke-width="0.8"/>
<line x1="324.9" y1="241.1" x2="324.9" y2="252.6" stroke="#8897b2" stroke-width="0.8"/>
<line x1="331.3" y1="240.0" x2="331.3" y2="251.7" stroke="#8897b2" stroke-width="0.8"/>
<line x1="335.3" y1="238.7" x2="335.3" y2="250.5" stroke="#8897b2" stroke-width="0.8"/>
<ellipse cx="302.4" cy="235.7" rx="34.3" ry="6.1" fill="#67768f"/>
<path d="M268.4,236.29999999999998 A34.3,6.1 0 0 0 336.4,236.29999999999998" fill="none" stroke="#8594b0" stroke-width="0.7"/>
<ellipse cx="302.4" cy="235.39999999999998" rx="24.799999999999997" ry="3.5999999999999996" fill="#76849f" stroke="#8d9bb5" stroke-width="0.6"/>
<path d="M285.5,222.5 V237.5 M320.3,222.5 V237.5" stroke="#dfe5ee" stroke-width="1.5"/>
<path d="M285.5,230 V222.2 H268.7 V202.3 H291.5 M294,202.3 H336 V222.2 H320.3 V230" fill="none" stroke="#2f3d5c" stroke-width="1.1"/>
<path d="M291.8,199 V205.6" stroke="#2f3d5c" stroke-width="1"/><path d="M293.7,200.5 V204.1" stroke="#2f3d5c" stroke-width="1.6"/>
<text x="239.4" y="232.3" font-size="8.3" text-anchor="start" font-weight="normal" font-style="normal" fill="#222" textLength="23.5" lengthAdjust="spacingAndGlyphs" stroke="#222" stroke-width="0.16">Anode</text>
<path d="M266,229.5 L285,229.5" fill="none" stroke="#333" stroke-width="1.0"/>
<text x="341.5" y="232.3" font-size="8.3" text-anchor="start" font-weight="normal" font-style="normal" fill="#222" textLength="31.5" lengthAdjust="spacingAndGlyphs" stroke="#222" stroke-width="0.16">Cathode</text>
<path d="M320.8,229.5 L339.5,229.5" fill="none" stroke="#333" stroke-width="1.0"/>
<path d="M278.7,277.2 L291.7,273.7 L291.7,303.4 L278.7,309.7Z" fill="#c6c9d8"/><path d="M278.7,277.2 L279.9,276.9 L279.9,309.1 L278.7,309.7Z" fill="#d9dbe6"/>
<path d="M313.8,276.5 q1.4,8.0 0.3,16.0 t0.2,14.0 l1.6,0.4 l1.4,-0.8 q1,-8.0 0.2,-16.0 t0,-13.0Z" fill="#d6d9dc" stroke="#a3a7ad" stroke-width="0.45"/>
<path d="M316.675,276.1 q1.4,8.0 0.3,16.0 t0.2,14.0 l1.6,0.4 l1.4,-0.8 q1,-8.0 0.2,-16.0 t0,-13.0Z" fill="#d6d9dc" stroke="#a3a7ad" stroke-width="0.45"/>
<path d="M319.55,275.7 q1.4,8.0 0.3,16.0 t0.2,14.0 l1.6,0.4 l1.4,-0.8 q1,-8.0 0.2,-16.0 t0,-13.0Z" fill="#d6d9dc" stroke="#a3a7ad" stroke-width="0.45"/>
<path d="M322.425,275.3 q1.4,8.0 0.3,16.0 t0.2,14.0 l1.6,0.4 l1.4,-0.8 q1,-8.0 0.2,-16.0 t0,-13.0Z" fill="#d6d9dc" stroke="#a3a7ad" stroke-width="0.45"/>
<path d="M325.3,274.9 q1.4,8.0 0.3,16.0 t0.2,14.0 l1.6,0.4 l1.4,-0.8 q1,-8.0 0.2,-16.0 t0,-13.0Z" fill="#d6d9dc" stroke="#a3a7ad" stroke-width="0.45"/>
<line x1="314.3" y1="280.9" x2="328.3" y2="279.9" stroke="#a3a7ad" stroke-width="0.4" opacity="0.7"/>
<line x1="314.3" y1="287.3" x2="328.3" y2="286.3" stroke="#a3a7ad" stroke-width="0.4" opacity="0.7"/>
<line x1="314.3" y1="293.7" x2="328.3" y2="292.7" stroke="#a3a7ad" stroke-width="0.4" opacity="0.7"/>
<line x1="314.3" y1="300.1" x2="328.3" y2="299.1" stroke="#a3a7ad" stroke-width="0.4" opacity="0.7"/>
<path d="M293.7,281.7 L302.7,280.79999999999995 L302.7,283.0Z" fill="url(#iontail)"/>
<circle cx="302.7" cy="281.9" r="1.9" fill="url(#reddot)"/>
<path d="M301.5,289.5 L310.5,288.59999999999997 L310.5,290.8Z" fill="url(#iontail)"/>
<circle cx="310.5" cy="289.7" r="1.9" fill="url(#reddot)"/>
<path d="M293.7,298.5 L302.7,297.59999999999997 L302.7,299.8Z" fill="url(#iontail)"/>
<circle cx="302.7" cy="298.7" r="1.9" fill="url(#reddot)"/>
<path d="M302.2,306.3 L311.2,305.4 L311.2,307.6Z" fill="url(#iontail)"/>
<circle cx="311.2" cy="306.5" r="1.9" fill="url(#reddot)"/>
<path d="M261.3,282.3 L279,282.3" fill="none" stroke="#333" stroke-width="1.0"/>
<text x="205.5" y="285.3" font-size="8.3" text-anchor="start" font-weight="normal" font-style="normal" fill="#222" textLength="54" lengthAdjust="spacingAndGlyphs" stroke="#222" stroke-width="0.16">Pt foil (or wire)</text>
<path d="M326,282.3 L345.6,282.3" fill="none" stroke="#333" stroke-width="1.0"/>
<text x="347.5" y="285" font-size="8.3" text-anchor="start" font-weight="normal" font-style="normal" fill="#222" textLength="16.5" lengthAdjust="spacingAndGlyphs" stroke="#222" stroke-width="0.16">Host</text>
<path d="M311.5,306.9 L345.6,306.9" fill="none" stroke="#333" stroke-width="1.0"/>
<text x="347.5" y="309.5" font-size="8.31" text-anchor="start" font-weight="normal" font-style="normal" fill="#222" stroke="#222" stroke-width="0.16">C<tspan dy="-3.6" dx="0.2" font-size="5">+</tspan></text>
<path d="M282.8,317.5 L282.8,343" fill="none" stroke="#333" stroke-width="1.0"/>
<text x="279.5" y="352" font-size="8.3" text-anchor="start" font-weight="normal" font-style="normal" fill="#222" textLength="39.5" lengthAdjust="spacingAndGlyphs" stroke="#222" stroke-width="0.16">Electrolyte</text>
<text x="279.5" y="361" font-size="8.3" text-anchor="start" font-weight="normal" font-style="normal" fill="#222" textLength="104.3" lengthAdjust="spacingAndGlyphs" stroke="#222" stroke-width="0.16">(containing cation guest C<tspan dy="-3.5" dx="0.2" font-size="5">+</tspan><tspan dy="3.5" dx="0.2">)</tspan></text>
<text x="447.5" y="194.5" font-size="8.3" text-anchor="start" font-weight="normal" font-style="normal" fill="#222" textLength="135.5" lengthAdjust="spacingAndGlyphs" stroke="#222" stroke-width="0.16">Electrochemical anode intercalation</text>
<path d="M481.0,252 V326.5 Q481.0,335.5 494.0,335.8 Q515.5,337.7 537.0,335.8 Q550.0,335.5 550.0,326.5 V252Z" fill="#c6d6ea" stroke="#a9bcd6" stroke-width="0.6"/>
<path d="M483.2,258.5 V324.3 Q483.2,333.3 495.2,333.3 Q515.5,335.1 535.8,333.3 Q547.8,333.3 547.8,324.3 V258.5 Q515.5,263.5 483.2,258.5Z" fill="#b4cfe6"/>
<path d="M483.2,258.5 Q515.5,263.5 547.8,258.5 L547.8,256 L483.2,256Z" fill="#d3e1f0"/>
<g transform="translate(1031.0,0) scale(-1,1)">
<rect x="538.7" y="263" width="1.6" height="61" rx="0.8" fill="#dce8f5"/>
<rect x="541.8" y="261" width="0.8" height="66" rx="0.4" fill="#c9dcee"/>
<rect x="484.5" y="262" width="0.9" height="64" rx="0.4" fill="#c2d5ea"/>
</g>
<path d="M496.9,255 V275 M532.1,255 V276" stroke="#6f8db3" stroke-width="0.9"/>
<path d="M479.9,250.2 V249 H551.1 V253.6 A35.599999999999994,5.2 0 0 1 479.9,253.6Z" fill="#58667f" stroke="#58667f" stroke-width="0.8" stroke-linejoin="round"/>
<path d="M481.2,235.7 V249.8 A34.3,4.6 0 0 0 549.8,249.8 V235.7Z" fill="url(#lidside)"/>
<line x1="482.6" y1="238.7" x2="482.6" y2="250.5" stroke="#8897b2" stroke-width="0.8"/>
<line x1="486.6" y1="240.0" x2="486.6" y2="251.7" stroke="#8897b2" stroke-width="0.8"/>
<line x1="493.0" y1="241.1" x2="493.0" y2="252.6" stroke="#8897b2" stroke-width="0.8"/>
<line x1="501.3" y1="241.9" x2="501.3" y2="253.3" stroke="#8897b2" stroke-width="0.8"/>
<line x1="510.6" y1="242.3" x2="510.6" y2="253.7" stroke="#8897b2" stroke-width="0.8"/>
<line x1="520.4" y1="242.3" x2="520.4" y2="253.7" stroke="#8897b2" stroke-width="0.8"/>
<line x1="529.7" y1="241.9" x2="529.7" y2="253.3" stroke="#8897b2" stroke-width="0.8"/>
<line x1="538.0" y1="241.1" x2="538.0" y2="252.6" stroke="#8897b2" stroke-width="0.8"/>
<line x1="544.4" y1="240.0" x2="544.4" y2="251.7" stroke="#8897b2" stroke-width="0.8"/>
<line x1="548.4" y1="238.7" x2="548.4" y2="250.5" stroke="#8897b2" stroke-width="0.8"/>
<ellipse cx="515.5" cy="235.7" rx="34.3" ry="6.1" fill="#67768f"/>
<path d="M481.5,236.29999999999998 A34.3,6.1 0 0 0 549.5,236.29999999999998" fill="none" stroke="#8594b0" stroke-width="0.7"/>
<ellipse cx="515.5" cy="235.39999999999998" rx="24.799999999999997" ry="3.5999999999999996" fill="#76849f" stroke="#8d9bb5" stroke-width="0.6"/>
<path d="M497.5,222.5 V237.5 M532.5,222.5 V237.5" stroke="#dfe5ee" stroke-width="1.5"/>
<path d="M497.5,230 V222.2 H481.5 V202.3 H501.2 M503.8,202.3 H549 V222.2 H532.5 V230" fill="none" stroke="#2f3d5c" stroke-width="1.1"/>
<path d="M501.5,199 V205.6" stroke="#2f3d5c" stroke-width="1"/><path d="M503.4,200.5 V204.1" stroke="#2f3d5c" stroke-width="1.6"/>
<text x="451.2" y="232.3" font-size="8.3" text-anchor="start" font-weight="normal" font-style="normal" fill="#222" textLength="23.5" lengthAdjust="spacingAndGlyphs" stroke="#222" stroke-width="0.16">Anode</text>
<path d="M478.5,229.5 L497,229.5" fill="none" stroke="#333" stroke-width="1.0"/>
<text x="553.5" y="232.3" font-size="8.3" text-anchor="start" font-weight="normal" font-style="normal" fill="#222" textLength="31.5" lengthAdjust="spacingAndGlyphs" stroke="#222" stroke-width="0.16">Cathode</text>
<path d="M533,229.5 L552,229.5" fill="none" stroke="#333" stroke-width="1.0"/>
<g opacity="0.75">
<path d="M489.3,277.0 q1.4,7.375 0.3,14.75 t0.2,12.75 l1.6,0.4 l1.4,-0.8 q1,-7.375 0.2,-14.75 t0,-11.75Z" fill="#a9bdd6" stroke="#8399b8" stroke-width="0.45"/>
<path d="M492.05,276.6 q1.4,7.375 0.3,14.75 t0.2,12.75 l1.6,0.4 l1.4,-0.8 q1,-7.375 0.2,-14.75 t0,-11.75Z" fill="#a9bdd6" stroke="#8399b8" stroke-width="0.45"/>
<path d="M494.8,276.2 q1.4,7.375 0.3,14.75 t0.2,12.75 l1.6,0.4 l1.4,-0.8 q1,-7.375 0.2,-14.75 t0,-11.75Z" fill="#a9bdd6" stroke="#8399b8" stroke-width="0.45"/>
<path d="M497.55,275.8 q1.4,7.375 0.3,14.75 t0.2,12.75 l1.6,0.4 l1.4,-0.8 q1,-7.375 0.2,-14.75 t0,-11.75Z" fill="#a9bdd6" stroke="#8399b8" stroke-width="0.45"/>
<path d="M500.3,275.4 q1.4,7.375 0.3,14.75 t0.2,12.75 l1.6,0.4 l1.4,-0.8 q1,-7.375 0.2,-14.75 t0,-11.75Z" fill="#a9bdd6" stroke="#8399b8" stroke-width="0.45"/>
<line x1="489.8" y1="280.9" x2="503.3" y2="279.9" stroke="#8399b8" stroke-width="0.4" opacity="0.7"/>
<line x1="489.8" y1="286.8" x2="503.3" y2="285.8" stroke="#8399b8" stroke-width="0.4" opacity="0.7"/>
<line x1="489.8" y1="292.7" x2="503.3" y2="291.7" stroke="#8399b8" stroke-width="0.4" opacity="0.7"/>
<line x1="489.8" y1="298.6" x2="503.3" y2="297.6" stroke="#8399b8" stroke-width="0.4" opacity="0.7"/>
</g>
<rect x="490.3" y="263" width="1.6" height="58" rx="0.8" fill="#dce8f5" opacity="0.7"/>
<path d="M528.1,277.3 L538.7,273.3 L538.7,304.5 L528.1,310.2Z" fill="#a9bcda"/><path d="M528.1,277.3 L529.2,276.9 L529.2,309.6 L528.1,310.2Z" fill="#bccbe3"/>
<path d="M523.8,281.0 L514.8,280.09999999999997 L514.8,282.3Z" fill="url(#iontailY)"/>
<circle cx="514.8" cy="281.2" r="1.6" fill="url(#yel)"/>
<path d="M515.2,290.1 L506.2,289.2 L506.2,291.40000000000003Z" fill="url(#iontailY)"/>
<circle cx="506.2" cy="290.3" r="1.6" fill="url(#yel)"/>
<path d="M523.8,296.8 L514.8,295.9 L514.8,298.1Z" fill="url(#iontailY)"/>
<circle cx="514.8" cy="297" r="1.6" fill="url(#yel)"/>
<path d="M515.2,305.6 L506.2,304.7 L506.2,306.90000000000003Z" fill="url(#iontailY)"/>
<circle cx="506.2" cy="305.8" r="1.6" fill="url(#yel)"/>
<path d="M473,282.2 L492,282.2" fill="none" stroke="#333" stroke-width="1.0"/>
<text x="453.5" y="285" font-size="8.3" text-anchor="start" font-weight="normal" font-style="normal" fill="#222" textLength="16.5" lengthAdjust="spacingAndGlyphs" stroke="#222" stroke-width="0.16">Host</text>
<path d="M471.5,305.3 L505,305.3" fill="none" stroke="#333" stroke-width="1.0"/>
<text x="460.5" y="309.5" font-size="8.31" text-anchor="start" font-weight="normal" font-style="normal" fill="#222" stroke="#222" stroke-width="0.16">A<tspan dy="-3.6" dx="0.2" font-size="5">−</tspan></text>
<path d="M538.7,282.2 L557.3,282.2" fill="none" stroke="#333" stroke-width="1.0"/>
<text x="559" y="285" font-size="8.3" text-anchor="start" font-weight="normal" font-style="normal" fill="#222" textLength="54" lengthAdjust="spacingAndGlyphs" stroke="#222" stroke-width="0.16">Pt foil (or wire)</text>
<path d="M495.3,317.5 L495.3,343" fill="none" stroke="#333" stroke-width="1.0"/>
<text x="492" y="352" font-size="8.3" text-anchor="start" font-weight="normal" font-style="normal" fill="#222" textLength="39.5" lengthAdjust="spacingAndGlyphs" stroke="#222" stroke-width="0.16">Electrolyte</text>
<text x="492.2" y="361" font-size="8.3" text-anchor="start" font-weight="normal" font-style="normal" fill="#222" textLength="102" lengthAdjust="spacingAndGlyphs" stroke="#222" stroke-width="0.16">(containing anion guest A<tspan dy="-3.5" dx="0.2" font-size="5">−</tspan><tspan dy="3.5" dx="0.2">)</tspan></text>
<text x="2.8" y="388.8" font-size="11.5" text-anchor="start" font-weight="bold" font-style="normal" fill="#000" textLength="6.4" lengthAdjust="spacingAndGlyphs" stroke="#000" stroke-width="0.45">c</text>
<text x="16.6" y="388.8" font-size="8.3" text-anchor="start" font-weight="bold" font-style="normal" fill="#000" textLength="45.4" lengthAdjust="spacingAndGlyphs" stroke="#000" stroke-width="0.3">Exfoliation</text>
<path d="M62.900000000000006,418 V422 C62.900000000000006,426 54.60000000000001,426 54.60000000000001,434 V534.0 A26.3,4.5 0 0 0 107.2,534.0 V434 C107.2,426 98.9,426 98.9,422 V418Z" fill="#eef0f6" stroke="#8997bd" stroke-width="0.9"/>
<path d="M55.20000000000001,470.5 V534.0 A25.7,4.3 0 0 0 106.60000000000001,534.0 V470.5 A25.7,4 0 0 1 55.20000000000001,470.5Z" fill="#c0e2f6"/>
<ellipse cx="80.9" cy="470.5" rx="25.7" ry="4" fill="#dcf0fb"/>
<ellipse cx="80.9" cy="534.0" rx="25.1" ry="3.8" fill="#cfe9f8" stroke="#9aa8c8" stroke-width="0.5"/>
<path d="M56.60000000000001,412 Q56.400000000000006,416 58.900000000000006,417 Q80.9,422.3 102.9,417 Q105.4,416 105.2,412 Q80.9,406 56.60000000000001,412Z" fill="#50607f"/>
<path d="M57.900000000000006,405.3 V412 Q80.9,418 103.9,412 V405.3Z" fill="#5d6d8e"/>
<line x1="58.4" y1="412.9" x2="58.4" y2="416.3" stroke="#93a1bc" stroke-width="0.7"/>
<line x1="61.1" y1="413.6" x2="61.1" y2="417.0" stroke="#93a1bc" stroke-width="0.7"/>
<line x1="65.5" y1="414.2" x2="65.5" y2="417.6" stroke="#93a1bc" stroke-width="0.7"/>
<line x1="71.1" y1="414.6" x2="71.1" y2="418.0" stroke="#93a1bc" stroke-width="0.7"/>
<line x1="77.6" y1="414.8" x2="77.6" y2="418.2" stroke="#93a1bc" stroke-width="0.7"/>
<line x1="84.2" y1="414.8" x2="84.2" y2="418.2" stroke="#93a1bc" stroke-width="0.7"/>
<line x1="90.7" y1="414.6" x2="90.7" y2="418.0" stroke="#93a1bc" stroke-width="0.7"/>
<line x1="96.3" y1="414.2" x2="96.3" y2="417.6" stroke="#93a1bc" stroke-width="0.7"/>
<line x1="100.7" y1="413.6" x2="100.7" y2="417.0" stroke="#93a1bc" stroke-width="0.7"/>
<line x1="103.4" y1="412.9" x2="103.4" y2="416.3" stroke="#93a1bc" stroke-width="0.7"/>
<ellipse cx="80.9" cy="405.3" rx="23" ry="6" fill="#6a7998"/>
<path d="M58.2,405.8 A23,6 0 0 0 103.60000000000001,405.8" fill="none" stroke="#95a3bd" stroke-width="0.7"/>
<ellipse cx="80.9" cy="405.40000000000003" rx="16.3" ry="4" fill="#7887a5" stroke="#93a1bb" stroke-width="0.7"/>
<path d="M202.4,418 V422 C202.4,426 194.1,426 194.1,434 V534.0 A26.3,4.5 0 0 0 246.70000000000002,534.0 V434 C246.70000000000002,426 238.4,426 238.4,422 V418Z" fill="#eef0f6" stroke="#8997bd" stroke-width="0.9"/>
<path d="M194.7,470.5 V534.0 A25.7,4.3 0 0 0 246.10000000000002,534.0 V470.5 A25.7,4 0 0 1 194.7,470.5Z" fill="#b1b9ce"/>
<ellipse cx="220.4" cy="470.5" rx="25.7" ry="4" fill="#d3d8e5"/>
<ellipse cx="220.4" cy="534.0" rx="25.1" ry="3.8" fill="#b9c1d4" stroke="#9aa8c8" stroke-width="0.5"/>
<path d="M196.1,412 Q195.9,416 198.4,417 Q220.4,422.3 242.4,417 Q244.9,416 244.70000000000002,412 Q220.4,406 196.1,412Z" fill="#50607f"/>
<path d="M197.4,405.3 V412 Q220.4,418 243.4,412 V405.3Z" fill="#5d6d8e"/>
<line x1="197.9" y1="412.9" x2="197.9" y2="416.3" stroke="#93a1bc" stroke-width="0.7"/>
<line x1="200.6" y1="413.6" x2="200.6" y2="417.0" stroke="#93a1bc" stroke-width="0.7"/>
<line x1="205.0" y1="414.2" x2="205.0" y2="417.6" stroke="#93a1bc" stroke-width="0.7"/>
<line x1="210.6" y1="414.6" x2="210.6" y2="418.0" stroke="#93a1bc" stroke-width="0.7"/>
<line x1="217.1" y1="414.8" x2="217.1" y2="418.2" stroke="#93a1bc" stroke-width="0.7"/>
<line x1="223.7" y1="414.8" x2="223.7" y2="418.2" stroke="#93a1bc" stroke-width="0.7"/>
<line x1="230.2" y1="414.6" x2="230.2" y2="418.0" stroke="#93a1bc" stroke-width="0.7"/>
<line x1="235.8" y1="414.2" x2="235.8" y2="417.6" stroke="#93a1bc" stroke-width="0.7"/>
<line x1="240.2" y1="413.6" x2="240.2" y2="417.0" stroke="#93a1bc" stroke-width="0.7"/>
<line x1="242.9" y1="412.9" x2="242.9" y2="416.3" stroke="#93a1bc" stroke-width="0.7"/>
<ellipse cx="220.4" cy="405.3" rx="23" ry="6" fill="#6a7998"/>
<path d="M197.70000000000002,405.8 A23,6 0 0 0 243.1,405.8" fill="none" stroke="#95a3bd" stroke-width="0.7"/>
<ellipse cx="220.4" cy="405.40000000000003" rx="16.3" ry="4" fill="#7887a5" stroke="#93a1bb" stroke-width="0.7"/>
<path d="M63.5,513.3333333333334 q7.4,-1 16.650000000000002,0.6 t11.1,0 l8.51,-2.2 l0.6,3.566666666666667 l-8.51,2.4 q-7.4,0.9 -14.8,0.2 t-13.32,-0.8Z" fill="#d4d9de" stroke="#a3aab3" stroke-width="0.45"/>
<path d="M63.5,509.1666666666667 q7.4,-1 16.650000000000002,0.6 t11.1,0 l8.51,-2.2 l0.6,3.566666666666667 l-8.51,2.4 q-7.4,0.9 -14.8,0.2 t-13.32,-0.8Z" fill="#d4d9de" stroke="#a3aab3" stroke-width="0.45"/>
<path d="M63.5,505.0 q7.4,-1 16.650000000000002,0.6 t11.1,0 l8.51,-2.2 l0.6,3.566666666666667 l-8.51,2.4 q-7.4,0.9 -14.8,0.2 t-13.32,-0.8Z" fill="#d4d9de" stroke="#a3aab3" stroke-width="0.45"/>
<path d="M63.5,500.8333333333333 q7.4,-1 16.650000000000002,0.6 t11.1,0 l8.51,-2.2 l0.6,3.566666666666667 l-8.51,2.4 q-7.4,0.9 -14.8,0.2 t-13.32,-0.8Z" fill="#d4d9de" stroke="#a3aab3" stroke-width="0.45"/>
<path d="M63.5,496.6666666666667 q7.4,-1 16.650000000000002,0.6 t11.1,0 l8.51,-2.2 l0.6,3.566666666666667 l-8.51,2.4 q-7.4,0.9 -14.8,0.2 t-13.32,-0.8Z" fill="#d4d9de" stroke="#a3aab3" stroke-width="0.45"/>
<path d="M63.5,492.5 q7.4,-1 16.650000000000002,0.6 t11.1,0 l8.51,-2.2 l0.6,3.566666666666667 l-8.51,2.4 q-7.4,0.9 -14.8,0.2 t-13.32,-0.8Z" fill="#d4d9de" stroke="#a3aab3" stroke-width="0.45"/>
<rect x="72.9" y="504.4" width="9" height="8.6" fill="none" stroke="#1c1c1c" stroke-width="1.1" stroke-dasharray="2 1.4"/>
<rect x="211.2" y="504.5" width="8.8" height="8.5" fill="none" stroke="#1c1c1c" stroke-width="1.1" stroke-dasharray="2 1.4"/>
<path d="M72.9,513 L26.6,550.3" fill="none" stroke="#1c1c1c" stroke-width="1.1" stroke-dasharray="2.5 1.8"/>
<path d="M81.9,513 L133,550.3" fill="none" stroke="#1c1c1c" stroke-width="1.1" stroke-dasharray="2.5 1.8"/>
<path d="M211.2,513 L165.5,550" fill="none" stroke="#1c1c1c" stroke-width="1.1" stroke-dasharray="2.5 1.8"/>
<path d="M220,513 L271.7,550" fill="none" stroke="#1c1c1c" stroke-width="1.1" stroke-dasharray="2.5 1.8"/>
<path d="M64.5,503.2 L8.5,503.2 L8.5,508.8" fill="none" stroke="#333" stroke-width="1.0"/>
<text x="5.3" y="516.9" font-size="8.3" text-anchor="start" font-weight="normal" font-style="normal" fill="#222" textLength="46" lengthAdjust="spacingAndGlyphs" stroke="#222" stroke-width="0.16">Host + guest</text>
<path d="M103.3,518.9 L113.5,518.9" fill="none" stroke="#333" stroke-width="1.0"/>
<text x="117" y="523" font-size="8.3" text-anchor="start" font-weight="normal" font-style="normal" fill="#222" textLength="28.5" lengthAdjust="spacingAndGlyphs" stroke="#222" stroke-width="0.16">Solvent</text>
<path d="M236.2,486.7 L258.7,486.7" fill="none" stroke="#333" stroke-width="1.0"/>
<text x="262" y="489.5" font-size="8.3" text-anchor="start" font-weight="normal" font-style="normal" fill="#222" textLength="30.2" lengthAdjust="spacingAndGlyphs" stroke="#222" stroke-width="0.16">Opaque</text>
<text x="262" y="498.83" font-size="8.3" text-anchor="start" font-weight="normal" font-style="normal" fill="#222" textLength="43.0" lengthAdjust="spacingAndGlyphs" stroke="#222" stroke-width="0.16">suspension</text>
<text x="262" y="508.16" font-size="8.3" text-anchor="start" font-weight="normal" font-style="normal" fill="#222" textLength="21.3" lengthAdjust="spacingAndGlyphs" stroke="#222" stroke-width="0.16">of the</text>
<text x="262" y="517.49" font-size="8.3" text-anchor="start" font-weight="normal" font-style="normal" fill="#222" textLength="36.4" lengthAdjust="spacingAndGlyphs" stroke="#222" stroke-width="0.16">exfoliated</text>
<text x="262" y="526.82" font-size="8.3" text-anchor="start" font-weight="normal" font-style="normal" fill="#222" textLength="43.9" lengthAdjust="spacingAndGlyphs" stroke="#222" stroke-width="0.16">nanosheets</text>
<rect x="111.5" y="423" width="78.5" height="34" fill="#eeefe2"/>
<text x="115.5" y="434.4" font-size="8.3" text-anchor="start" font-weight="normal" font-style="normal" fill="#222" textLength="66.2" lengthAdjust="spacingAndGlyphs" stroke="#222" stroke-width="0.16">Spontaneously or</text>
<text x="115.5" y="443.59999999999997" font-size="8.3" text-anchor="start" font-weight="normal" font-style="normal" fill="#222" textLength="53.9" lengthAdjust="spacingAndGlyphs" stroke="#222" stroke-width="0.16">via sonication,</text>
<text x="115.5" y="452.79999999999995" font-size="8.3" text-anchor="start" font-weight="normal" font-style="normal" fill="#222" textLength="67.1" lengthAdjust="spacingAndGlyphs" stroke="#222" stroke-width="0.16">stirring or shaking</text>
<line x1="128" y1="466.2" x2="169.5" y2="466.2" stroke="#3a4a68" stroke-width="1.1"/>
<path d="M172.5,466.2 L167.9,464.09999999999997 L167.9,468.3Z" fill="#3a4a68"/>
<g clip-path="url(#cb1)">
<path d="M24.6,556.2 C43.0,556.2 116.6,556.2 135.0,556.2 L135.0,570.3 C129.9,570.5 114.2,570.8 104.4,571.3 C94.6,571.8 87.2,572.4 76.0,573.0 C64.8,573.6 45.6,575.0 37.0,575.0 C28.4,575.0 26.7,573.3 24.6,573.0Z" fill="#c2c5c8"/>
<path d="M24.6,570.8 C26.7,571.1 28.4,572.8 37.0,572.8 C45.6,572.8 64.8,571.4 76.0,570.8 C87.2,570.2 94.6,569.5 104.4,569.1 C114.2,568.6 129.9,568.3 135.0,568.1" stroke="#a9acb1" stroke-width="4" fill="none" filter="url(#soft2)" opacity="0.9"/>
<path d="M26.6,559.3 C30.1,559.5 40.8,560.3 47.9,560.4 C55.0,560.4 62.1,559.9 69.2,559.6 C76.3,559.2 83.3,558.5 90.4,558.3 C97.5,558.1 104.6,558.1 111.7,558.3 C118.8,558.5 129.5,559.2 133.0,559.3" stroke="#cdd0d3" stroke-width="1.8" fill="none" opacity="0.75" filter="url(#soft)"/>
<path d="M26.6,563.3 C30.1,563.2 40.8,563.1 47.9,562.8 C55.0,562.5 62.1,561.7 69.2,561.5 C76.3,561.3 83.3,561.5 90.4,561.6 C97.5,561.7 104.6,562.3 111.7,562.3 C118.8,562.4 129.5,562.0 133.0,561.9" stroke="#b0b3b8" stroke-width="1.4" fill="none" opacity="0.75" filter="url(#soft)"/>
<path d="M26.6,564.9 C30.1,564.9 40.8,564.8 47.9,564.8 C55.0,564.8 62.1,564.9 69.2,565.0 C76.3,565.1 83.3,565.5 90.4,565.4 C97.5,565.2 104.6,564.7 111.7,564.3 C118.8,563.9 129.5,563.1 133.0,562.8" stroke="#cbced1" stroke-width="2.0" fill="none" opacity="0.75" filter="url(#soft)"/>
<path d="M26.6,567.4 C30.1,567.7 40.8,568.9 47.9,569.2 C55.0,569.5 62.1,569.4 69.2,569.1 C76.3,568.8 83.3,568.0 90.4,567.5 C97.5,566.9 104.6,566.0 111.7,565.7 C118.8,565.4 129.5,565.7 133.0,565.7" stroke="#b2b5ba" stroke-width="1.3" fill="none" opacity="0.75" filter="url(#soft)"/>
<path d="M24.6,583.5 C26.7,583.5 28.4,583.5 37.0,583.3 C45.6,583.1 64.8,583.1 76.0,582.5 C87.2,581.9 98.1,580.5 104.4,579.7 C110.7,578.9 110.6,579.0 114.0,577.9 C117.4,576.8 121.5,574.1 125.0,573.2 C128.5,572.3 133.3,572.7 135.0,572.6 L135.0,601.3 C129.9,601.4 114.2,601.4 104.4,602.0 C94.6,602.6 87.2,603.7 76.0,605.0 C64.8,606.3 45.6,609.7 37.0,610.0 C28.4,610.3 26.7,607.5 24.6,607.0Z" fill="#c2c5c8"/>
<path d="M24.6,604.8 C26.7,605.3 28.4,608.1 37.0,607.8 C45.6,607.5 64.8,604.1 76.0,602.8 C87.2,601.5 94.6,600.4 104.4,599.8 C114.2,599.2 129.9,599.2 135.0,599.1" stroke="#a9acb1" stroke-width="4" fill="none" filter="url(#soft2)" opacity="0.9"/>
<path d="M26.6,587.8 C30.1,587.9 40.8,588.7 47.9,588.6 C55.0,588.4 62.1,587.8 69.2,587.1 C76.3,586.4 83.3,585.2 90.4,584.3 C97.5,583.5 104.6,583.0 111.7,582.0 C118.8,581.0 129.5,579.1 133.0,578.5" stroke="#cdd0d3" stroke-width="1.8" fill="none" opacity="0.75" filter="url(#soft)"/>
<path d="M26.6,593.0 C30.1,592.9 40.8,592.8 47.9,592.3 C55.0,591.8 62.1,590.7 69.2,590.1 C76.3,589.5 83.3,589.2 90.4,588.8 C97.5,588.4 104.6,588.4 111.7,587.6 C118.8,586.7 129.5,584.3 133.0,583.6" stroke="#b0b3b8" stroke-width="1.4" fill="none" opacity="0.75" filter="url(#soft)"/>
<path d="M26.6,595.7 C30.1,595.7 40.8,595.6 47.9,595.5 C55.0,595.3 62.1,595.0 69.2,594.6 C76.3,594.3 83.3,594.2 90.4,593.6 C97.5,593.0 104.6,592.0 111.7,590.9 C118.8,589.8 129.5,587.5 133.0,586.9" stroke="#cbced1" stroke-width="2.0" fill="none" opacity="0.75" filter="url(#soft)"/>
<path d="M26.6,599.4 C30.1,599.7 40.8,601.1 47.9,601.1 C55.0,601.2 62.1,600.5 69.2,599.8 C76.3,599.1 83.3,597.8 90.4,596.9 C97.5,595.9 104.6,594.7 111.7,593.9 C118.8,593.2 129.5,592.6 133.0,592.4" stroke="#b2b5ba" stroke-width="1.3" fill="none" opacity="0.75" filter="url(#soft)"/>
<path d="M24.6,617.2 C26.7,617.2 28.4,617.1 37.0,617.0 C45.6,616.9 64.8,616.7 76.0,616.3 C87.2,615.9 98.1,615.0 104.4,614.4 C110.7,613.8 110.6,613.7 114.0,612.6 C117.4,611.5 121.5,608.9 125.0,608.0 C128.5,607.1 133.3,607.2 135.0,607.0 L135.0,634.7 C129.9,634.9 114.2,635.3 104.4,636.0 C94.6,636.7 87.2,637.8 76.0,638.8 C64.8,639.8 45.6,641.9 37.0,642.0 C28.4,642.1 26.7,640.1 24.6,639.7Z" fill="#c2c5c8"/>
<path d="M24.6,637.5 C26.7,637.9 28.4,639.9 37.0,639.8 C45.6,639.6 64.8,637.6 76.0,636.6 C87.2,635.6 94.6,634.5 104.4,633.8 C114.2,633.1 129.9,632.7 135.0,632.5" stroke="#a9acb1" stroke-width="4" fill="none" filter="url(#soft2)" opacity="0.9"/>
<path d="M26.6,621.3 C30.1,621.4 40.8,622.1 47.9,622.1 C55.0,622.0 62.1,621.4 69.2,620.9 C76.3,620.3 83.3,619.2 90.4,618.5 C97.5,617.8 104.6,617.5 111.7,616.5 C118.8,615.6 129.5,613.4 133.0,612.8" stroke="#cdd0d3" stroke-width="1.8" fill="none" opacity="0.75" filter="url(#soft)"/>
<path d="M26.6,626.3 C30.1,626.2 40.8,626.0 47.9,625.6 C55.0,625.2 62.1,624.2 69.2,623.8 C76.3,623.4 83.3,623.2 90.4,622.9 C97.5,622.6 104.6,622.8 111.7,622.0 C118.8,621.1 129.5,618.4 133.0,617.7" stroke="#b0b3b8" stroke-width="1.4" fill="none" opacity="0.75" filter="url(#soft)"/>
<path d="M26.6,628.8 C30.1,628.8 40.8,628.6 47.9,628.5 C55.0,628.5 62.1,628.4 69.2,628.3 C76.3,628.1 83.3,628.2 90.4,627.7 C97.5,627.2 104.6,626.3 111.7,625.2 C118.8,624.0 129.5,621.5 133.0,620.8" stroke="#cbced1" stroke-width="2.0" fill="none" opacity="0.75" filter="url(#soft)"/>
<path d="M26.6,632.4 C30.1,632.6 40.8,633.8 47.9,634.0 C55.0,634.2 62.1,633.9 69.2,633.4 C76.3,632.9 83.3,631.8 90.4,630.9 C97.5,630.0 104.6,628.8 111.7,628.0 C118.8,627.2 129.5,626.4 133.0,626.1" stroke="#b2b5ba" stroke-width="1.3" fill="none" opacity="0.75" filter="url(#soft)"/>
<path d="M24.6,652.9 C26.7,652.9 28.4,652.8 37.0,652.7 C45.6,652.5 64.8,652.5 76.0,652.0 C87.2,651.5 98.1,650.6 104.4,650.0 C110.7,649.4 110.6,649.3 114.0,648.2 C117.4,647.1 121.5,644.5 125.0,643.6 C128.5,642.7 133.3,643.1 135.0,643.0 L135.0,672.0 C116.6,672.0 43.0,672.0 24.6,672.0Z" fill="#c2c5c8"/>
<path d="M26.6,656.3 C30.1,656.4 40.8,657.0 47.9,656.9 C55.0,656.8 62.1,656.5 69.2,656.0 C76.3,655.5 83.3,654.6 90.4,654.0 C97.5,653.4 104.6,653.1 111.7,652.3 C118.8,651.4 129.5,649.5 133.0,648.9" stroke="#cdd0d3" stroke-width="1.8" fill="none" opacity="0.75" filter="url(#soft)"/>
<path d="M26.6,660.6 C30.1,660.5 40.8,659.9 47.9,659.6 C55.0,659.2 62.1,658.6 69.2,658.4 C76.3,658.2 83.3,658.3 90.4,658.2 C97.5,658.1 104.6,658.5 111.7,657.8 C118.8,657.1 129.5,654.7 133.0,654.1" stroke="#b0b3b8" stroke-width="1.4" fill="none" opacity="0.75" filter="url(#soft)"/>
<path d="M26.6,662.6 C30.1,662.4 40.8,661.8 47.9,661.7 C55.0,661.7 62.1,662.2 69.2,662.4 C76.3,662.6 83.3,663.0 90.4,662.8 C97.5,662.6 104.6,662.1 111.7,661.2 C118.8,660.3 129.5,658.0 133.0,657.4" stroke="#cbced1" stroke-width="2.0" fill="none" opacity="0.75" filter="url(#soft)"/>
<path d="M26.6,665.4 C30.1,665.6 40.8,666.1 47.9,666.3 C55.0,666.6 62.1,667.0 69.2,666.9 C76.3,666.8 83.3,666.3 90.4,665.8 C97.5,665.3 104.6,664.6 111.7,664.1 C118.8,663.6 129.5,663.1 133.0,662.9" stroke="#b2b5ba" stroke-width="1.3" fill="none" opacity="0.75" filter="url(#soft)"/>
</g>
<circle cx="39.3" cy="580.3" r="2.6" fill="url(#reddot)"/>
<circle cx="72.5" cy="586.6" r="2.6" fill="url(#reddot)"/>
<circle cx="108.7" cy="578.2" r="2.6" fill="url(#reddot)"/>
<circle cx="74.4" cy="612.9" r="2.6" fill="url(#reddot)"/>
<circle cx="37.8" cy="621" r="2.6" fill="url(#reddot)"/>
<circle cx="110.4" cy="620.6" r="2.6" fill="url(#reddot)"/>
<circle cx="40" cy="648.6" r="2.6" fill="url(#reddot)"/>
<circle cx="78.5" cy="647.3" r="2.6" fill="url(#reddot)"/>
<circle cx="112.3" cy="645.8" r="2.6" fill="url(#reddot)"/>
<rect x="26.6" y="550.3" width="106.4" height="116.70000000000005" fill="none" stroke="#1c1c1c" stroke-width="1.1" stroke-dasharray="2.5 1.8"/>
<path d="M49,659.3 L49,672.7" fill="none" stroke="#333" stroke-width="1.0"/>
<path d="M112.3,647 L112.3,672.7" fill="none" stroke="#333" stroke-width="1.0"/>
<text x="47" y="682" font-size="8.3" text-anchor="start" font-weight="normal" font-style="normal" fill="#222" textLength="16.5" lengthAdjust="spacingAndGlyphs" stroke="#222" stroke-width="0.16">Host</text>
<text x="109.5" y="682" font-size="8.3" text-anchor="start" font-weight="normal" font-style="normal" fill="#222" textLength="21.5" lengthAdjust="spacingAndGlyphs" stroke="#222" stroke-width="0.16">Guest</text>
<g clip-path="url(#cb2)">
<path d="M189.5,560 L221.2,560 L260,579.5 L227.5,585Z" transform="translate(0,1.6)" fill="#949ba4" stroke="#949ba4" stroke-width="0.5" stroke-linejoin="round"/>
<path d="M189.5,560 L221.2,560 L260,579.5 L227.5,585Z" fill="#bac0c7" stroke="#bac0c7" stroke-width="0.4" stroke-linejoin="round"/>
<path d="M167,576.2 L183.7,570 L205,581.2 L188.7,593.7Z" transform="translate(0,1.6)" fill="#949ba4" stroke="#949ba4" stroke-width="0.5" stroke-linejoin="round"/>
<path d="M167,576.2 L183.7,570 L205,581.2 L188.7,593.7Z" fill="#bac0c7" stroke="#bac0c7" stroke-width="0.4" stroke-linejoin="round"/>
<path d="M227,595 L253.7,588.7 L275,594.5 L275,608 L263.7,611.2Z" transform="translate(0,1.6)" fill="#949ba4" stroke="#949ba4" stroke-width="0.5" stroke-linejoin="round"/>
<path d="M227,595 L253.7,588.7 L275,594.5 L275,608 L263.7,611.2Z" fill="#bac0c7" stroke="#bac0c7" stroke-width="0.4" stroke-linejoin="round"/>
<path d="M163,599.5 L183.7,593.7 L220,610 L191.2,628.7 L163,613Z" transform="translate(0,1.6)" fill="#949ba4" stroke="#949ba4" stroke-width="0.5" stroke-linejoin="round"/>
<path d="M163,599.5 L183.7,593.7 L220,610 L191.2,628.7 L163,613Z" fill="#bac0c7" stroke="#bac0c7" stroke-width="0.4" stroke-linejoin="round"/>
<path d="M227,620 L248.7,612.5 L275,622 L275,632 L260,641.2Z" transform="translate(0,1.6)" fill="#949ba4" stroke="#949ba4" stroke-width="0.5" stroke-linejoin="round"/>
<path d="M227,620 L248.7,612.5 L275,622 L275,632 L260,641.2Z" fill="#bac0c7" stroke="#bac0c7" stroke-width="0.4" stroke-linejoin="round"/>
<path d="M169.5,642.5 L192.5,633 L225,637.5 L202.5,653.7Z" transform="translate(0,1.6)" fill="#949ba4" stroke="#949ba4" stroke-width="0.5" stroke-linejoin="round"/>
<path d="M169.5,642.5 L192.5,633 L225,637.5 L202.5,653.7Z" fill="#bac0c7" stroke="#bac0c7" stroke-width="0.4" stroke-linejoin="round"/>
<path d="M230,650.5 L253.7,644.2 L275,652 L275,670 L265,670Z" transform="translate(0,1.6)" fill="#949ba4" stroke="#949ba4" stroke-width="0.5" stroke-linejoin="round"/>
<path d="M230,650.5 L253.7,644.2 L275,652 L275,670 L265,670Z" fill="#bac0c7" stroke="#bac0c7" stroke-width="0.4" stroke-linejoin="round"/>
<path d="M171.2,656.2 L188.7,653 L210,658.7 L192.5,666Z" transform="translate(0,1.6)" fill="#949ba4" stroke="#949ba4" stroke-width="0.5" stroke-linejoin="round"/>
<path d="M171.2,656.2 L188.7,653 L210,658.7 L192.5,666Z" fill="#bac0c7" stroke="#bac0c7" stroke-width="0.4" stroke-linejoin="round"/>
</g>
<circle cx="176.7" cy="565.5" r="2.5" fill="url(#reddot)"/>
<circle cx="259.2" cy="568.2" r="2.5" fill="url(#reddot)"/>
<circle cx="210.7" cy="589.5" r="2.5" fill="url(#reddot)"/>
<circle cx="226.2" cy="615" r="2.5" fill="url(#reddot)"/>
<circle cx="173" cy="624.5" r="2.5" fill="url(#reddot)"/>
<circle cx="234.2" cy="639.2" r="2.5" fill="url(#reddot)"/>
<circle cx="222.5" cy="655.7" r="2.5" fill="url(#reddot)"/>
<rect x="165.5" y="550" width="106.19999999999999" height="117" fill="none" stroke="#1c1c1c" stroke-width="1.1" stroke-dasharray="2.5 1.8"/>
<path d="M260,568.2 L277.5,568.2" fill="none" stroke="#333" stroke-width="1.0"/>
<text x="282" y="571" font-size="8.3" text-anchor="start" font-weight="normal" font-style="normal" fill="#222" textLength="21.7" lengthAdjust="spacingAndGlyphs" stroke="#222" stroke-width="0.16">Guest</text>
<path d="M180.7,660 L180.7,673.3" fill="none" stroke="#333" stroke-width="1.0"/>
<text x="178" y="682" font-size="8.3" text-anchor="start" font-weight="normal" font-style="normal" fill="#222" textLength="102" lengthAdjust="spacingAndGlyphs" stroke="#222" stroke-width="0.16">Atomically thin nanosheets</text>
<text x="336" y="389.7" font-size="10.8" text-anchor="start" font-weight="bold" font-style="normal" fill="#000" textLength="6.8" lengthAdjust="spacingAndGlyphs" stroke="#000" stroke-width="0.45">d</text>
<text x="350.5" y="389.6" font-size="8.3" text-anchor="start" font-weight="bold" font-style="normal" fill="#000" textLength="49.5" lengthAdjust="spacingAndGlyphs" stroke="#000" stroke-width="0.3">Purification</text>
<path d="M353.0,418.7 V484.5 C353.0,490.0 361.6,499.5 367.1,499.5 C372.6,499.5 381.20000000000005,490.0 381.20000000000005,484.5 V418.7Z" fill="#e6eaf4" stroke="#98a4c6" stroke-width="0.8"/>
<g clip-path="url(#tc367_398)">
<rect x="353.0" y="435.6" width="28.2" height="66.89999999999998" fill="#4b8dcf"/>
<ellipse cx="367.1" cy="436.5" rx="12.2" ry="3.2" fill="#ffffff" opacity="0.35"/>
<ellipse cx="367.1" cy="435.6" rx="12.2" ry="3.2" fill="#86bbe8"/>
<rect x="374.90000000000003" y="439.6" width="1.3" height="36.89999999999998" rx="0.6" fill="#ffffff" opacity="0.35"/>
</g>
<path d="M361.1,428.7 Q367.1,430.3 373.1,428.7" stroke="#f6f8fc" stroke-width="1.1" fill="none" opacity="0.95" stroke-linecap="round"/>
<path d="M361.1,436.5 Q367.1,438.1 373.1,436.5" stroke="#f6f8fc" stroke-width="1.1" fill="none" opacity="0.95" stroke-linecap="round"/>
<path d="M361.1,444.3 Q367.1,445.90000000000003 373.1,444.3" stroke="#f6f8fc" stroke-width="1.1" fill="none" opacity="0.95" stroke-linecap="round"/>
<path d="M361.1,452.09999999999997 Q367.1,453.7 373.1,452.09999999999997" stroke="#f6f8fc" stroke-width="1.1" fill="none" opacity="0.95" stroke-linecap="round"/>
<path d="M361.1,459.9 Q367.1,461.5 373.1,459.9" stroke="#f6f8fc" stroke-width="1.1" fill="none" opacity="0.95" stroke-linecap="round"/>
<path d="M361.1,467.7 Q367.1,469.3 373.1,467.7" stroke="#f6f8fc" stroke-width="1.1" fill="none" opacity="0.95" stroke-linecap="round"/>
<path d="M361.1,475.5 Q367.1,477.1 373.1,475.5" stroke="#f6f8fc" stroke-width="1.1" fill="none" opacity="0.95" stroke-linecap="round"/>
<path d="M361.1,483.3 Q367.1,484.90000000000003 373.1,483.3" stroke="#f6f8fc" stroke-width="1.1" fill="none" opacity="0.95" stroke-linecap="round"/>
<path d="M361.1,491.09999999999997 Q367.1,492.7 373.1,491.09999999999997" stroke="#f6f8fc" stroke-width="1.1" fill="none" opacity="0.95" stroke-linecap="round"/>
<path d="M350.1,417.9 V415.7 H384.1 V417.9 Q384.1,420.4 382.6,421.0 A17.0,4.2 0 0 1 351.6,421.0 Q350.1,420.4 350.1,417.9Z" fill="#54637f"/>
<path d="M351.1,404.2 V416.9 A16.0,3.4 0 0 0 383.1,416.9 V404.2Z" fill="url(#capside)"/>
<line x1="351.7" y1="406.6" x2="351.7" y2="417.4" stroke="#8796b1" stroke-width="0.75"/>
<line x1="353.6" y1="407.7" x2="353.6" y2="418.2" stroke="#8796b1" stroke-width="0.75"/>
<line x1="356.6" y1="408.6" x2="356.6" y2="418.9" stroke="#8796b1" stroke-width="0.75"/>
<line x1="360.5" y1="409.3" x2="360.5" y2="419.4" stroke="#8796b1" stroke-width="0.75"/>
<line x1="364.8" y1="409.7" x2="364.8" y2="419.7" stroke="#8796b1" stroke-width="0.75"/>
<line x1="369.4" y1="409.7" x2="369.4" y2="419.7" stroke="#8796b1" stroke-width="0.75"/>
<line x1="373.7" y1="409.3" x2="373.7" y2="419.4" stroke="#8796b1" stroke-width="0.75"/>
<line x1="377.6" y1="408.6" x2="377.6" y2="418.9" stroke="#8796b1" stroke-width="0.75"/>
<line x1="380.6" y1="407.7" x2="380.6" y2="418.2" stroke="#8796b1" stroke-width="0.75"/>
<line x1="382.5" y1="406.6" x2="382.5" y2="417.4" stroke="#8796b1" stroke-width="0.75"/>
<ellipse cx="367.1" cy="404.2" rx="16.0" ry="5.2" fill="#66758f"/>
<path d="M351.40000000000003,404.7 A16.0,5.2 0 0 0 382.8,404.7" fill="none" stroke="#8b99b4" stroke-width="0.7"/>
<ellipse cx="367.1" cy="404.0" rx="10.8" ry="3.0" fill="#72809c" stroke="#8a98b3" stroke-width="0.6"/>
<path d="M474.2,418.7 V484.5 C474.2,490.0 482.8,499.5 488.3,499.5 C493.8,499.5 502.40000000000003,490.0 502.40000000000003,484.5 V418.7Z" fill="#e6eaf4" stroke="#98a4c6" stroke-width="0.8"/>
<g clip-path="url(#tc488_398)">
<rect x="474.2" y="436.2" width="28.2" height="66.30000000000001" fill="#8fc4ec"/>
<ellipse cx="488.3" cy="437.09999999999997" rx="12.2" ry="3.2" fill="#ffffff" opacity="0.35"/>
<ellipse cx="488.3" cy="436.2" rx="12.2" ry="3.2" fill="#b7dcf5"/>
<path d="M474.2,488.1 Q488.3,482.9 502.40000000000003,488.1 V502.5 H474.2Z" fill="#4d5c7c"/>
<path d="M477.2,487.7 Q488.3,482.9 499.40000000000003,487.7 Q488.3,489.5 477.2,487.7Z" fill="#66758f"/>
<rect x="496.1" y="440.2" width="1.3" height="36.30000000000001" rx="0.6" fill="#ffffff" opacity="0.35"/>
</g>
<path d="M482.3,428.7 Q488.3,430.3 494.3,428.7" stroke="#f6f8fc" stroke-width="1.1" fill="none" opacity="0.95" stroke-linecap="round"/>
<path d="M482.3,436.5 Q488.3,438.1 494.3,436.5" stroke="#f6f8fc" stroke-width="1.1" fill="none" opacity="0.95" stroke-linecap="round"/>
<path d="M482.3,444.3 Q488.3,445.90000000000003 494.3,444.3" stroke="#f6f8fc" stroke-width="1.1" fill="none" opacity="0.95" stroke-linecap="round"/>
<path d="M482.3,452.09999999999997 Q488.3,453.7 494.3,452.09999999999997" stroke="#f6f8fc" stroke-width="1.1" fill="none" opacity="0.95" stroke-linecap="round"/>
<path d="M482.3,459.9 Q488.3,461.5 494.3,459.9" stroke="#f6f8fc" stroke-width="1.1" fill="none" opacity="0.95" stroke-linecap="round"/>
<path d="M482.3,467.7 Q488.3,469.3 494.3,467.7" stroke="#f6f8fc" stroke-width="1.1" fill="none" opacity="0.95" stroke-linecap="round"/>
<path d="M482.3,475.5 Q488.3,477.1 494.3,475.5" stroke="#f6f8fc" stroke-width="1.1" fill="none" opacity="0.95" stroke-linecap="round"/>
<path d="M482.3,483.3 Q488.3,484.90000000000003 494.3,483.3" stroke="#f6f8fc" stroke-width="1.1" fill="none" opacity="0.95" stroke-linecap="round"/>
<path d="M482.3,491.09999999999997 Q488.3,492.7 494.3,491.09999999999997" stroke="#f6f8fc" stroke-width="1.1" fill="none" opacity="0.95" stroke-linecap="round"/>
<path d="M471.3,417.9 V415.7 H505.3 V417.9 Q505.3,420.4 503.8,421.0 A17.0,4.2 0 0 1 472.8,421.0 Q471.3,420.4 471.3,417.9Z" fill="#54637f"/>
<path d="M472.3,404.2 V416.9 A16.0,3.4 0 0 0 504.3,416.9 V404.2Z" fill="url(#capside)"/>
<line x1="472.9" y1="406.6" x2="472.9" y2="417.4" stroke="#8796b1" stroke-width="0.75"/>
<line x1="474.8" y1="407.7" x2="474.8" y2="418.2" stroke="#8796b1" stroke-width="0.75"/>
<line x1="477.8" y1="408.6" x2="477.8" y2="418.9" stroke="#8796b1" stroke-width="0.75"/>
<line x1="481.7" y1="409.3" x2="481.7" y2="419.4" stroke="#8796b1" stroke-width="0.75"/>
<line x1="486.0" y1="409.7" x2="486.0" y2="419.7" stroke="#8796b1" stroke-width="0.75"/>
<line x1="490.6" y1="409.7" x2="490.6" y2="419.7" stroke="#8796b1" stroke-width="0.75"/>
<line x1="494.9" y1="409.3" x2="494.9" y2="419.4" stroke="#8796b1" stroke-width="0.75"/>
<line x1="498.8" y1="408.6" x2="498.8" y2="418.9" stroke="#8796b1" stroke-width="0.75"/>
<line x1="501.8" y1="407.7" x2="501.8" y2="418.2" stroke="#8796b1" stroke-width="0.75"/>
<line x1="503.7" y1="406.6" x2="503.7" y2="417.4" stroke="#8796b1" stroke-width="0.75"/>
<ellipse cx="488.3" cy="404.2" rx="16.0" ry="5.2" fill="#66758f"/>
<path d="M472.6,404.7 A16.0,5.2 0 0 0 504.0,404.7" fill="none" stroke="#8b99b4" stroke-width="0.7"/>
<ellipse cx="488.3" cy="404.0" rx="10.8" ry="3.0" fill="#72809c" stroke="#8a98b3" stroke-width="0.6"/>
<path d="M601.5,418.7 V484.5 C601.5,490.0 610.1,499.5 615.6,499.5 C621.1,499.5 629.7,490.0 629.7,484.5 V418.7Z" fill="#e6eaf4" stroke="#98a4c6" stroke-width="0.8"/>
<g clip-path="url(#tc615_398)">
<rect x="601.5" y="446.1" width="28.2" height="56.39999999999998" fill="#8fc4ec"/>
<ellipse cx="615.6" cy="447.0" rx="12.2" ry="3.2" fill="#ffffff" opacity="0.35"/>
<ellipse cx="615.6" cy="446.1" rx="12.2" ry="3.2" fill="#b7dcf5"/>
<rect x="623.4000000000001" y="450.1" width="1.3" height="26.399999999999977" rx="0.6" fill="#ffffff" opacity="0.35"/>
</g>
<path d="M609.6,428.7 Q615.6,430.3 621.6,428.7" stroke="#f6f8fc" stroke-width="1.1" fill="none" opacity="0.95" stroke-linecap="round"/>
<path d="M609.6,436.5 Q615.6,438.1 621.6,436.5" stroke="#f6f8fc" stroke-width="1.1" fill="none" opacity="0.95" stroke-linecap="round"/>
<path d="M609.6,444.3 Q615.6,445.90000000000003 621.6,444.3" stroke="#f6f8fc" stroke-width="1.1" fill="none" opacity="0.95" stroke-linecap="round"/>
<path d="M609.6,452.09999999999997 Q615.6,453.7 621.6,452.09999999999997" stroke="#f6f8fc" stroke-width="1.1" fill="none" opacity="0.95" stroke-linecap="round"/>
<path d="M609.6,459.9 Q615.6,461.5 621.6,459.9" stroke="#f6f8fc" stroke-width="1.1" fill="none" opacity="0.95" stroke-linecap="round"/>
<path d="M609.6,467.7 Q615.6,469.3 621.6,467.7" stroke="#f6f8fc" stroke-width="1.1" fill="none" opacity="0.95" stroke-linecap="round"/>
<path d="M609.6,475.5 Q615.6,477.1 621.6,475.5" stroke="#f6f8fc" stroke-width="1.1" fill="none" opacity="0.95" stroke-linecap="round"/>
<path d="M609.6,483.3 Q615.6,484.90000000000003 621.6,483.3" stroke="#f6f8fc" stroke-width="1.1" fill="none" opacity="0.95" stroke-linecap="round"/>
<path d="M609.6,491.09999999999997 Q615.6,492.7 621.6,491.09999999999997" stroke="#f6f8fc" stroke-width="1.1" fill="none" opacity="0.95" stroke-linecap="round"/>
<path d="M598.6,417.9 V415.7 H632.6 V417.9 Q632.6,420.4 631.1,421.0 A17.0,4.2 0 0 1 600.1,421.0 Q598.6,420.4 598.6,417.9Z" fill="#54637f"/>
<path d="M599.6,404.2 V416.9 A16.0,3.4 0 0 0 631.6,416.9 V404.2Z" fill="url(#capside)"/>
<line x1="600.2" y1="406.6" x2="600.2" y2="417.4" stroke="#8796b1" stroke-width="0.75"/>
<line x1="602.1" y1="407.7" x2="602.1" y2="418.2" stroke="#8796b1" stroke-width="0.75"/>
<line x1="605.1" y1="408.6" x2="605.1" y2="418.9" stroke="#8796b1" stroke-width="0.75"/>
<line x1="609.0" y1="409.3" x2="609.0" y2="419.4" stroke="#8796b1" stroke-width="0.75"/>
<line x1="613.3" y1="409.7" x2="613.3" y2="419.7" stroke="#8796b1" stroke-width="0.75"/>
<line x1="617.9" y1="409.7" x2="617.9" y2="419.7" stroke="#8796b1" stroke-width="0.75"/>
<line x1="622.2" y1="409.3" x2="622.2" y2="419.4" stroke="#8796b1" stroke-width="0.75"/>
<line x1="626.1" y1="408.6" x2="626.1" y2="418.9" stroke="#8796b1" stroke-width="0.75"/>
<line x1="629.1" y1="407.7" x2="629.1" y2="418.2" stroke="#8796b1" stroke-width="0.75"/>
<line x1="631.0" y1="406.6" x2="631.0" y2="417.4" stroke="#8796b1" stroke-width="0.75"/>
<ellipse cx="615.6" cy="404.2" rx="16.0" ry="5.2" fill="#66758f"/>
<path d="M599.9,404.7 A16.0,5.2 0 0 0 631.3000000000001,404.7" fill="none" stroke="#8b99b4" stroke-width="0.7"/>
<ellipse cx="615.6" cy="404.0" rx="10.8" ry="3.0" fill="#72809c" stroke="#8a98b3" stroke-width="0.6"/>
<path d="M353.0,572.8 V638.5999999999999 C353.0,644.0999999999999 361.6,653.5999999999999 367.1,653.5999999999999 C372.6,653.5999999999999 381.20000000000005,644.0999999999999 381.20000000000005,638.5999999999999 V572.8Z" fill="#e6eaf4" stroke="#98a4c6" stroke-width="0.8"/>
<g clip-path="url(#tc367_552)">
<rect x="353.0" y="590.6" width="28.2" height="65.99999999999989" fill="#8fc4ec"/>
<ellipse cx="367.1" cy="591.5" rx="12.2" ry="3.2" fill="#ffffff" opacity="0.35"/>
<ellipse cx="367.1" cy="590.6" rx="12.2" ry="3.2" fill="#b7dcf5"/>
<rect x="374.90000000000003" y="594.6" width="1.3" height="35.999999999999886" rx="0.6" fill="#ffffff" opacity="0.35"/>
</g>
<path d="M361.1,582.8 Q367.1,584.4 373.1,582.8" stroke="#f6f8fc" stroke-width="1.1" fill="none" opacity="0.95" stroke-linecap="round"/>
<path d="M361.1,590.5999999999999 Q367.1,592.1999999999999 373.1,590.5999999999999" stroke="#f6f8fc" stroke-width="1.1" fill="none" opacity="0.95" stroke-linecap="round"/>
<path d="M361.1,598.4 Q367.1,600.0 373.1,598.4" stroke="#f6f8fc" stroke-width="1.1" fill="none" opacity="0.95" stroke-linecap="round"/>
<path d="M361.1,606.1999999999999 Q367.1,607.8 373.1,606.1999999999999" stroke="#f6f8fc" stroke-width="1.1" fill="none" opacity="0.95" stroke-linecap="round"/>
<path d="M361.1,614.0 Q367.1,615.6 373.1,614.0" stroke="#f6f8fc" stroke-width="1.1" fill="none" opacity="0.95" stroke-linecap="round"/>
<path d="M361.1,621.8 Q367.1,623.4 373.1,621.8" stroke="#f6f8fc" stroke-width="1.1" fill="none" opacity="0.95" stroke-linecap="round"/>
<path d="M361.1,629.5999999999999 Q367.1,631.1999999999999 373.1,629.5999999999999" stroke="#f6f8fc" stroke-width="1.1" fill="none" opacity="0.95" stroke-linecap="round"/>
<path d="M361.1,637.4 Q367.1,639.0 373.1,637.4" stroke="#f6f8fc" stroke-width="1.1" fill="none" opacity="0.95" stroke-linecap="round"/>
<path d="M361.1,645.1999999999999 Q367.1,646.8 373.1,645.1999999999999" stroke="#f6f8fc" stroke-width="1.1" fill="none" opacity="0.95" stroke-linecap="round"/>
<path d="M350.1,572.0 V569.8 H384.1 V572.0 Q384.1,574.5 382.6,575.0999999999999 A17.0,4.2 0 0 1 351.6,575.0999999999999 Q350.1,574.5 350.1,572.0Z" fill="#54637f"/>
<path d="M351.1,558.3 V571.0 A16.0,3.4 0 0 0 383.1,571.0 V558.3Z" fill="url(#capside)"/>
<line x1="351.7" y1="560.7" x2="351.7" y2="571.5" stroke="#8796b1" stroke-width="0.75"/>
<line x1="353.6" y1="561.8" x2="353.6" y2="572.3" stroke="#8796b1" stroke-width="0.75"/>
<line x1="356.6" y1="562.7" x2="356.6" y2="573.0" stroke="#8796b1" stroke-width="0.75"/>
<line x1="360.5" y1="563.4" x2="360.5" y2="573.5" stroke="#8796b1" stroke-width="0.75"/>
<line x1="364.8" y1="563.8" x2="364.8" y2="573.8" stroke="#8796b1" stroke-width="0.75"/>
<line x1="369.4" y1="563.8" x2="369.4" y2="573.8" stroke="#8796b1" stroke-width="0.75"/>
<line x1="373.7" y1="563.4" x2="373.7" y2="573.5" stroke="#8796b1" stroke-width="0.75"/>
<line x1="377.6" y1="562.7" x2="377.6" y2="573.0" stroke="#8796b1" stroke-width="0.75"/>
<line x1="380.6" y1="561.8" x2="380.6" y2="572.3" stroke="#8796b1" stroke-width="0.75"/>
<line x1="382.5" y1="560.7" x2="382.5" y2="571.5" stroke="#8796b1" stroke-width="0.75"/>
<ellipse cx="367.1" cy="558.3" rx="16.0" ry="5.2" fill="#66758f"/>
<path d="M351.40000000000003,558.8 A16.0,5.2 0 0 0 382.8,558.8" fill="none" stroke="#8b99b4" stroke-width="0.7"/>
<ellipse cx="367.1" cy="558.0999999999999" rx="10.8" ry="3.0" fill="#72809c" stroke="#8a98b3" stroke-width="0.6"/>
<path d="M474.2,572.8 V638.5999999999999 C474.2,644.0999999999999 482.8,653.5999999999999 488.3,653.5999999999999 C493.8,653.5999999999999 502.40000000000003,644.0999999999999 502.40000000000003,638.5999999999999 V572.8Z" fill="#e6eaf4" stroke="#98a4c6" stroke-width="0.8"/>
<g clip-path="url(#tc488_552)">
<rect x="474.2" y="620.5" width="28.2" height="36.09999999999991" fill="#4b8dcf"/>
<ellipse cx="488.3" cy="621.4" rx="12.2" ry="3.2" fill="#ffffff" opacity="0.35"/>
<ellipse cx="488.3" cy="620.5" rx="12.2" ry="3.2" fill="#86bbe8"/>
<rect x="496.1" y="624.5" width="1.3" height="6.099999999999909" rx="0.6" fill="#ffffff" opacity="0.35"/>
</g>
<path d="M482.3,582.8 Q488.3,584.4 494.3,582.8" stroke="#f6f8fc" stroke-width="1.1" fill="none" opacity="0.95" stroke-linecap="round"/>
<path d="M482.3,590.5999999999999 Q488.3,592.1999999999999 494.3,590.5999999999999" stroke="#f6f8fc" stroke-width="1.1" fill="none" opacity="0.95" stroke-linecap="round"/>
<path d="M482.3,598.4 Q488.3,600.0 494.3,598.4" stroke="#f6f8fc" stroke-width="1.1" fill="none" opacity="0.95" stroke-linecap="round"/>
<path d="M482.3,606.1999999999999 Q488.3,607.8 494.3,606.1999999999999" stroke="#f6f8fc" stroke-width="1.1" fill="none" opacity="0.95" stroke-linecap="round"/>
<path d="M482.3,614.0 Q488.3,615.6 494.3,614.0" stroke="#f6f8fc" stroke-width="1.1" fill="none" opacity="0.95" stroke-linecap="round"/>
<path d="M482.3,621.8 Q488.3,623.4 494.3,621.8" stroke="#f6f8fc" stroke-width="1.1" fill="none" opacity="0.95" stroke-linecap="round"/>
<path d="M482.3,629.5999999999999 Q488.3,631.1999999999999 494.3,629.5999999999999" stroke="#f6f8fc" stroke-width="1.1" fill="none" opacity="0.95" stroke-linecap="round"/>
<path d="M482.3,637.4 Q488.3,639.0 494.3,637.4" stroke="#f6f8fc" stroke-width="1.1" fill="none" opacity="0.95" stroke-linecap="round"/>
<path d="M482.3,645.1999999999999 Q488.3,646.8 494.3,645.1999999999999" stroke="#f6f8fc" stroke-width="1.1" fill="none" opacity="0.95" stroke-linecap="round"/>
<path d="M471.3,572.0 V569.8 H505.3 V572.0 Q505.3,574.5 503.8,575.0999999999999 A17.0,4.2 0 0 1 472.8,575.0999999999999 Q471.3,574.5 471.3,572.0Z" fill="#54637f"/>
<path d="M472.3,558.3 V571.0 A16.0,3.4 0 0 0 504.3,571.0 V558.3Z" fill="url(#capside)"/>
<line x1="472.9" y1="560.7" x2="472.9" y2="571.5" stroke="#8796b1" stroke-width="0.75"/>
<line x1="474.8" y1="561.8" x2="474.8" y2="572.3" stroke="#8796b1" stroke-width="0.75"/>
<line x1="477.8" y1="562.7" x2="477.8" y2="573.0" stroke="#8796b1" stroke-width="0.75"/>
<line x1="481.7" y1="563.4" x2="481.7" y2="573.5" stroke="#8796b1" stroke-width="0.75"/>
<line x1="486.0" y1="563.8" x2="486.0" y2="573.8" stroke="#8796b1" stroke-width="0.75"/>
<line x1="490.6" y1="563.8" x2="490.6" y2="573.8" stroke="#8796b1" stroke-width="0.75"/>
<line x1="494.9" y1="563.4" x2="494.9" y2="573.5" stroke="#8796b1" stroke-width="0.75"/>
<line x1="498.8" y1="562.7" x2="498.8" y2="573.0" stroke="#8796b1" stroke-width="0.75"/>
<line x1="501.8" y1="561.8" x2="501.8" y2="572.3" stroke="#8796b1" stroke-width="0.75"/>
<line x1="503.7" y1="560.7" x2="503.7" y2="571.5" stroke="#8796b1" stroke-width="0.75"/>
<ellipse cx="488.3" cy="558.3" rx="16.0" ry="5.2" fill="#66758f"/>
<path d="M472.6,558.8 A16.0,5.2 0 0 0 504.0,558.8" fill="none" stroke="#8b99b4" stroke-width="0.7"/>
<ellipse cx="488.3" cy="558.0999999999999" rx="10.8" ry="3.0" fill="#72809c" stroke="#8a98b3" stroke-width="0.6"/>
<path d="M601.5,572.8 V638.5999999999999 C601.5,644.0999999999999 610.1,653.5999999999999 615.6,653.5999999999999 C621.1,653.5999999999999 629.7,644.0999999999999 629.7,638.5999999999999 V572.8Z" fill="#e6eaf4" stroke="#98a4c6" stroke-width="0.8"/>
<g clip-path="url(#tc615_552)">
<rect x="601.5" y="606.5" width="28.2" height="50.09999999999991" fill="#8fc4ec"/>
<ellipse cx="615.6" cy="607.4" rx="12.2" ry="3.2" fill="#ffffff" opacity="0.35"/>
<ellipse cx="615.6" cy="606.5" rx="12.2" ry="3.2" fill="#b7dcf5"/>
<rect x="601.5" y="620.6" width="28.2" height="35.999999999999886" fill="#4b8dcf"/>
<ellipse cx="615.6" cy="621.5" rx="12.2" ry="3.2" fill="#ffffff" opacity="0.35"/>
<ellipse cx="615.6" cy="620.6" rx="12.2" ry="3.2" fill="#7fb6e6"/>
<rect x="623.4000000000001" y="610.5" width="1.3" height="20.09999999999991" rx="0.6" fill="#ffffff" opacity="0.35"/>
</g>
<path d="M609.6,582.8 Q615.6,584.4 621.6,582.8" stroke="#f6f8fc" stroke-width="1.1" fill="none" opacity="0.95" stroke-linecap="round"/>
<path d="M609.6,590.5999999999999 Q615.6,592.1999999999999 621.6,590.5999999999999" stroke="#f6f8fc" stroke-width="1.1" fill="none" opacity="0.95" stroke-linecap="round"/>
<path d="M609.6,598.4 Q615.6,600.0 621.6,598.4" stroke="#f6f8fc" stroke-width="1.1" fill="none" opacity="0.95" stroke-linecap="round"/>
<path d="M609.6,606.1999999999999 Q615.6,607.8 621.6,606.1999999999999" stroke="#f6f8fc" stroke-width="1.1" fill="none" opacity="0.95" stroke-linecap="round"/>
<path d="M609.6,614.0 Q615.6,615.6 621.6,614.0" stroke="#f6f8fc" stroke-width="1.1" fill="none" opacity="0.95" stroke-linecap="round"/>
<path d="M609.6,621.8 Q615.6,623.4 621.6,621.8" stroke="#f6f8fc" stroke-width="1.1" fill="none" opacity="0.95" stroke-linecap="round"/>
<path d="M609.6,629.5999999999999 Q615.6,631.1999999999999 621.6,629.5999999999999" stroke="#f6f8fc" stroke-width="1.1" fill="none" opacity="0.95" stroke-linecap="round"/>
<path d="M609.6,637.4 Q615.6,639.0 621.6,637.4" stroke="#f6f8fc" stroke-width="1.1" fill="none" opacity="0.95" stroke-linecap="round"/>
<path d="M609.6,645.1999999999999 Q615.6,646.8 621.6,645.1999999999999" stroke="#f6f8fc" stroke-width="1.1" fill="none" opacity="0.95" stroke-linecap="round"/>
<path d="M598.6,572.0 V569.8 H632.6 V572.0 Q632.6,574.5 631.1,575.0999999999999 A17.0,4.2 0 0 1 600.1,575.0999999999999 Q598.6,574.5 598.6,572.0Z" fill="#54637f"/>
<path d="M599.6,558.3 V571.0 A16.0,3.4 0 0 0 631.6,571.0 V558.3Z" fill="url(#capside)"/>
<line x1="600.2" y1="560.7" x2="600.2" y2="571.5" stroke="#8796b1" stroke-width="0.75"/>
<line x1="602.1" y1="561.8" x2="602.1" y2="572.3" stroke="#8796b1" stroke-width="0.75"/>
<line x1="605.1" y1="562.7" x2="605.1" y2="573.0" stroke="#8796b1" stroke-width="0.75"/>
<line x1="609.0" y1="563.4" x2="609.0" y2="573.5" stroke="#8796b1" stroke-width="0.75"/>
<line x1="613.3" y1="563.8" x2="613.3" y2="573.8" stroke="#8796b1" stroke-width="0.75"/>
<line x1="617.9" y1="563.8" x2="617.9" y2="573.8" stroke="#8796b1" stroke-width="0.75"/>
<line x1="622.2" y1="563.4" x2="622.2" y2="573.5" stroke="#8796b1" stroke-width="0.75"/>
<line x1="626.1" y1="562.7" x2="626.1" y2="573.0" stroke="#8796b1" stroke-width="0.75"/>
<line x1="629.1" y1="561.8" x2="629.1" y2="572.3" stroke="#8796b1" stroke-width="0.75"/>
<line x1="631.0" y1="560.7" x2="631.0" y2="571.5" stroke="#8796b1" stroke-width="0.75"/>
<ellipse cx="615.6" cy="558.3" rx="16.0" ry="5.2" fill="#66758f"/>
<path d="M599.9,558.8 A16.0,5.2 0 0 0 631.3000000000001,558.8" fill="none" stroke="#8b99b4" stroke-width="0.7"/>
<ellipse cx="615.6" cy="558.0999999999999" rx="10.8" ry="3.0" fill="#72809c" stroke="#8a98b3" stroke-width="0.6"/>
<rect x="395.7" y="417" width="63.60000000000002" height="25" fill="#eeefe2"/>
<text x="400.3" y="427.8" font-size="8.3" text-anchor="start" font-weight="normal" font-style="normal" fill="#222" textLength="40.5" lengthAdjust="spacingAndGlyphs" stroke="#222" stroke-width="0.16">Low-speed</text>
<text x="400.3" y="437.40000000000003" font-size="8.3" text-anchor="start" font-weight="normal" font-style="normal" fill="#222" textLength="53" lengthAdjust="spacingAndGlyphs" stroke="#222" stroke-width="0.16">centrifugation</text>
<line x1="405" y1="454.2" x2="446.5" y2="454.2" stroke="#3a4a68" stroke-width="1.1"/>
<path d="M449.5,454.2 L444.9,452.09999999999997 L444.9,456.3Z" fill="#3a4a68"/>
<rect x="519.6" y="416.8" width="62.69999999999993" height="25.19999999999999" fill="#eeefe2"/>
<text x="524.2" y="427.6" font-size="8.3" text-anchor="start" font-weight="normal" font-style="normal" fill="#222" textLength="27" lengthAdjust="spacingAndGlyphs" stroke="#222" stroke-width="0.16">Collect</text>
<text x="524.2" y="437.20000000000005" font-size="8.3" text-anchor="start" font-weight="normal" font-style="normal" fill="#222" textLength="45" lengthAdjust="spacingAndGlyphs" stroke="#222" stroke-width="0.16">supernatant</text>
<line x1="528.5" y1="454.2" x2="570.5" y2="454.2" stroke="#3a4a68" stroke-width="1.1"/>
<path d="M573.5,454.2 L568.9,452.09999999999997 L568.9,456.3Z" fill="#3a4a68"/>
<rect x="519.6" y="462.3" width="62.69999999999993" height="23.69999999999999" fill="#eeefe2"/>
<text x="524.2" y="473.1" font-size="8.3" text-anchor="start" font-weight="normal" font-style="normal" fill="#222" textLength="43" lengthAdjust="spacingAndGlyphs" stroke="#222" stroke-width="0.16">Removal of</text>
<text x="524.2" y="482.70000000000005" font-size="8.3" text-anchor="start" font-weight="normal" font-style="normal" fill="#222" textLength="54" lengthAdjust="spacingAndGlyphs" stroke="#222" stroke-width="0.16">large particles</text>
<rect x="548.7" y="515.2" width="61.799999999999955" height="26.09999999999991" fill="#eeefe2"/>
<text x="553.3000000000001" y="526.0" font-size="8.3" text-anchor="start" font-weight="normal" font-style="normal" fill="#222" textLength="43" lengthAdjust="spacingAndGlyphs" stroke="#222" stroke-width="0.16">High-speed</text>
<text x="553.3000000000001" y="535.6" font-size="8.3" text-anchor="start" font-weight="normal" font-style="normal" fill="#222" textLength="53" lengthAdjust="spacingAndGlyphs" stroke="#222" stroke-width="0.16">centrifugation</text>
<line x1="615.5" y1="513" x2="615.5" y2="541.5" stroke="#3a4a68" stroke-width="1.1"/>
<path d="M615.5,544.5 L613.3,539.5 L617.7,539.5Z" fill="#3a4a68"/>
<rect x="519.6" y="568" width="62.69999999999993" height="24.799999999999955" fill="#eeefe2"/>
<text x="524.2" y="578.8" font-size="8.3" text-anchor="start" font-weight="normal" font-style="normal" fill="#222" textLength="27" lengthAdjust="spacingAndGlyphs" stroke="#222" stroke-width="0.16">Collect</text>
<text x="524.2" y="588.4" font-size="8.3" text-anchor="start" font-weight="normal" font-style="normal" fill="#222" textLength="53.5" lengthAdjust="spacingAndGlyphs" stroke="#222" stroke-width="0.16">sedimentation</text>
<line x1="573.5" y1="603" x2="531.5" y2="603" stroke="#3a4a68" stroke-width="1.1"/>
<path d="M528.5,603 L533.1,600.9 L533.1,605.1Z" fill="#3a4a68"/>
<rect x="519.6" y="613" width="62.69999999999993" height="24.799999999999955" fill="#eeefe2"/>
<text x="524.2" y="623.8" font-size="8.3" text-anchor="start" font-weight="normal" font-style="normal" fill="#222" textLength="43" lengthAdjust="spacingAndGlyphs" stroke="#222" stroke-width="0.16">Removal of</text>
<text x="524.2" y="633.4" font-size="8.3" text-anchor="start" font-weight="normal" font-style="normal" fill="#222" textLength="53.5" lengthAdjust="spacingAndGlyphs" stroke="#222" stroke-width="0.16">guest solution</text>
<rect x="397.5" y="568" width="63.0" height="25" fill="#eeefe2"/>
<text x="402.1" y="578.8" font-size="8.3" text-anchor="start" font-weight="normal" font-style="normal" fill="#222" textLength="45.5" lengthAdjust="spacingAndGlyphs" stroke="#222" stroke-width="0.16">Redispersed</text>
<text x="402.1" y="588.4" font-size="8.3" text-anchor="start" font-weight="normal" font-style="normal" fill="#222" textLength="36" lengthAdjust="spacingAndGlyphs" stroke="#222" stroke-width="0.16">in solvent</text>
<line x1="451.7" y1="603" x2="410" y2="603" stroke="#3a4a68" stroke-width="1.1"/>
<path d="M407,603 L411.6,600.9 L411.6,605.1Z" fill="#3a4a68"/>
<path d="M481,490 L467,504 L467,510" fill="none" stroke="#333" stroke-width="1.0"/>
<text x="458.8" y="516.8" font-size="8.3" text-anchor="start" font-weight="normal" font-style="normal" fill="#222" textLength="20.4" lengthAdjust="spacingAndGlyphs" stroke="#222" stroke-width="0.16">Large</text>
<text x="458.8" y="526.6" font-size="8.3" text-anchor="start" font-weight="normal" font-style="normal" fill="#222" textLength="31.8" lengthAdjust="spacingAndGlyphs" stroke="#222" stroke-width="0.16">particles</text>
<path d="M494.2,479.5 L503,487.8 L503,508.7" fill="none" stroke="#333" stroke-width="1.0"/>
<text x="495.8" y="516.8" font-size="8.3" text-anchor="start" font-weight="normal" font-style="normal" fill="#222" textLength="45.8" lengthAdjust="spacingAndGlyphs" stroke="#222" stroke-width="0.16">Supernatant</text>
<path d="M373.7,633.2 L382.5,641.2 L382.5,663" fill="none" stroke="#333" stroke-width="1.0"/>
<text x="381.2" y="672.2" font-size="8.3" text-anchor="start" font-weight="normal" font-style="normal" fill="#222" textLength="10.3" lengthAdjust="spacingAndGlyphs" stroke="#222" stroke-width="0.16">Ink</text>
<path d="M479.2,633.2 L455.7,655.5 L455.7,663" fill="none" stroke="#333" stroke-width="1.0"/>
<text x="424.8" y="672.2" font-size="8.3" text-anchor="start" font-weight="normal" font-style="normal" fill="#222" textLength="70" lengthAdjust="spacingAndGlyphs" stroke="#222" stroke-width="0.16">Purified atomically</text>
<text x="424.8" y="681.6" font-size="8.3" text-anchor="start" font-weight="normal" font-style="normal" fill="#222" textLength="59.5" lengthAdjust="spacingAndGlyphs" stroke="#222" stroke-width="0.16">thin nanosheets</text>
<path d="M604.8,633.4 L581.5,656.5 L581.5,663" fill="none" stroke="#333" stroke-width="1.0"/>
<text x="543.6" y="672.3" font-size="8.3" text-anchor="start" font-weight="normal" font-style="normal" fill="#222" textLength="54.2" lengthAdjust="spacingAndGlyphs" stroke="#222" stroke-width="0.16">Sedimentation</text>
<path d="M624.9,616 L633.8,624.6 L633.8,663" fill="none" stroke="#333" stroke-width="1.0"/>
<text x="638.3" y="672.3" font-size="8.3" text-anchor="end" font-weight="normal" font-style="normal" fill="#222" textLength="22.7" lengthAdjust="spacingAndGlyphs" stroke="#222" stroke-width="0.16">Guest</text>
<text x="638.3" y="681.8" font-size="8.3" text-anchor="end" font-weight="normal" font-style="normal" fill="#222" textLength="29.3" lengthAdjust="spacingAndGlyphs" stroke="#222" stroke-width="0.16">solution</text>
</g>
</svg>
</body></html>
